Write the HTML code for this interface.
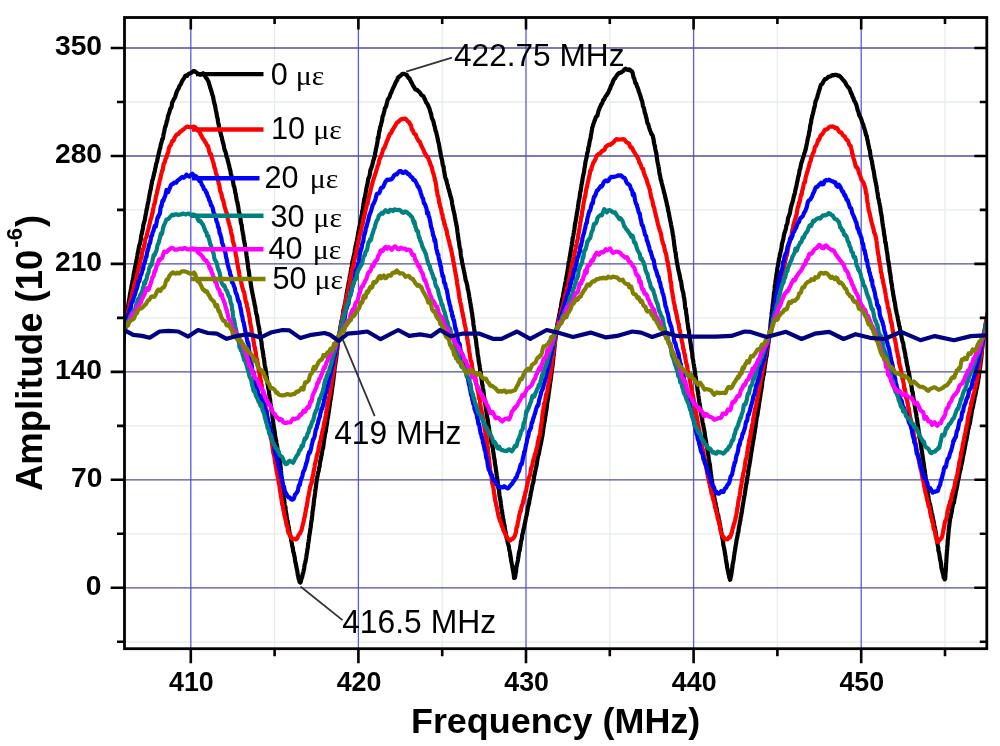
<!DOCTYPE html><html><head><meta charset="utf-8"><style>html,body{margin:0;padding:0;background:#fff;overflow:hidden}svg{display:block;filter:blur(0.4px)}</style></head><body>
<svg width="1000" height="746" viewBox="0 0 1000 746">
<rect width="1000" height="746" fill="#fff"/>
<path d="M274.6 17.5V648.7 M442.2 17.5V648.7 M609.8 17.5V648.7 M777.4 17.5V648.7 M945.0 17.5V648.7 M124.5 641.8H986.8 M124.5 533.8H986.8 M124.5 425.9H986.8 M124.5 317.9H986.8 M124.5 209.9H986.8 M124.5 102.0H986.8" stroke="#e4eee7" stroke-width="1.3" fill="none"/>
<path d="M190.8 17.5V648.7 M358.4 17.5V648.7 M526.0 17.5V648.7 M693.6 17.5V648.7 M861.2 17.5V648.7" stroke="#5c5adc" stroke-width="1.3" fill="none"/>
<path d="M124.5 587.8H986.8 M124.5 479.8H986.8 M124.5 371.9H986.8 M124.5 263.9H986.8 M124.5 156.0H986.8 M124.5 48.0H986.8" stroke="#52509e" stroke-width="1.3" fill="none"/>
<defs><clipPath id="cp"><rect x="124.5" y="17.5" width="862.3" height="631.2"/></clipPath></defs>
<g clip-path="url(#cp)" fill="none" stroke-linejoin="round" stroke-linecap="round">
<path d="M116.6 391.8L116.8 389.7L117.0 389.3L117.2 388.2L117.4 386.6L117.6 385.6L117.8 384.4L118.0 383.0L118.2 381.4L118.4 379.6L118.6 377.4L118.8 375.7L119.0 374.3L119.2 372.6L119.4 371.1L119.6 370.0L119.8 368.9L120.0 367.3L120.2 364.9L120.4 363.5L120.6 362.9L120.8 361.9L121.0 360.5L121.2 358.3L121.4 356.3L121.6 355.9L121.7 355.0L121.9 353.5L122.1 352.5L122.3 350.0L122.5 347.8L122.7 346.8L122.9 345.4L123.0 343.9L123.2 342.3L123.4 340.7L123.6 338.5L123.8 336.9L123.9 335.7L124.1 334.3L124.3 332.9L124.5 331.6L124.6 330.7L124.8 329.0L125.0 327.4L125.2 325.8L125.4 324.0L125.6 322.4L125.9 320.9L126.1 319.6L126.3 318.4L126.5 316.9L126.7 314.9L127.0 313.6L127.2 312.3L127.4 310.2L127.7 308.9L127.9 307.5L128.1 306.2L128.4 304.7L128.6 302.7L128.8 301.1L129.1 300.6L129.3 299.5L129.6 297.0L129.8 295.5L130.1 293.9L130.3 293.1L130.6 291.6L130.8 289.6L131.1 289.0L131.4 286.7L131.6 285.2L131.9 284.7L132.2 283.3L132.4 281.5L132.7 280.2L133.0 278.7L133.3 277.0L133.5 275.4L133.8 274.0L134.1 272.2L134.4 270.8L134.7 269.5L135.0 267.3L135.2 266.2L135.5 265.8L135.8 264.6L136.1 262.2L136.4 260.6L136.7 259.2L137.0 257.4L137.3 256.1L137.6 253.8L137.9 252.4L138.2 251.4L138.5 249.6L138.8 247.9L139.1 246.1L139.4 244.9L139.7 244.3L140.0 243.9L140.3 242.1L140.6 240.4L140.9 238.8L141.1 236.2L141.4 234.9L141.7 234.3L142.0 232.6L142.3 231.1L142.6 230.0L142.9 228.1L143.2 225.8L143.5 224.6L143.8 223.6L144.1 222.1L144.4 221.1L144.7 220.5L145.0 218.4L145.3 216.6L145.5 215.6L145.8 214.2L146.1 212.7L146.4 210.8L146.7 209.2L147.0 208.7L147.3 207.3L147.6 204.7L147.9 203.2L148.2 202.5L148.5 200.9L148.8 198.7L149.0 197.7L149.3 196.0L149.6 194.1L149.9 193.1L150.2 190.9L150.5 190.0L150.8 189.1L151.1 186.7L151.4 185.3L151.7 184.1L152.0 181.7L152.4 180.1L152.7 179.5L153.0 178.6L153.3 177.1L153.7 175.4L154.0 174.0L154.3 172.5L154.7 171.3L155.0 170.0L155.3 168.1L155.7 166.8L156.0 164.8L156.4 162.9L156.7 162.5L157.1 161.4L157.4 159.2L157.8 157.8L158.1 156.2L158.5 154.8L158.8 153.2L159.2 151.8L159.5 149.9L159.9 148.9L160.3 147.9L160.6 145.3L161.0 143.9L161.4 142.9L161.7 141.6L162.1 139.9L162.5 138.5L162.8 139.0L163.2 136.8L163.6 134.1L163.9 133.0L164.3 131.5L164.6 129.4L165.0 127.4L165.3 126.9L165.7 125.9L166.0 124.9L166.4 123.2L166.7 121.1L167.1 121.1L167.5 119.3L167.9 116.3L168.3 115.2L168.7 114.1L169.1 113.0L169.6 111.6L170.0 109.6L170.5 108.2L171.0 108.1L171.5 107.1L172.0 103.5L172.6 101.6L173.1 100.9L173.6 99.8L174.1 98.7L174.7 97.8L175.2 96.9L175.7 95.0L176.3 93.3L176.8 91.6L177.4 90.3L178.0 89.4L178.7 88.2L179.4 86.2L180.1 85.1L180.8 84.1L181.6 82.2L182.4 80.6L183.3 79.2L184.2 78.0L185.1 76.0L186.1 75.5L187.1 75.8L188.2 74.3L189.3 73.6L190.5 73.2L191.8 72.5L193.2 71.2L194.6 71.0L196.1 72.4L197.5 73.4L199.0 74.3L200.4 74.7L201.8 74.1L203.1 73.3L204.3 74.8L205.3 76.6L206.2 77.9L207.0 79.0L207.6 80.1L208.2 80.9L208.7 82.4L209.2 84.2L209.7 85.6L210.1 87.4L210.6 88.6L211.0 90.0L211.5 91.5L211.9 93.1L212.3 94.8L212.7 95.7L213.1 96.7L213.4 99.1L213.8 100.7L214.1 101.9L214.4 103.5L214.7 104.4L215.0 105.4L215.3 107.2L215.6 109.0L215.9 110.7L216.2 111.6L216.4 112.6L216.7 114.5L217.0 116.8L217.3 117.4L217.6 118.4L217.9 120.6L218.1 122.1L218.4 123.6L218.8 125.0L219.1 127.3L219.4 128.8L219.7 129.8L220.1 131.3L220.4 132.2L220.8 133.8L221.1 135.4L221.5 136.4L221.9 137.9L222.2 139.6L222.6 141.3L223.0 142.9L223.4 143.8L223.8 145.8L224.2 147.9L224.5 149.3L224.9 150.6L225.3 151.5L225.7 152.5L226.1 153.9L226.4 155.9L226.8 157.5L227.2 158.0L227.5 159.4L227.9 160.9L228.3 162.4L228.6 163.9L229.0 164.8L229.4 166.8L229.7 168.7L230.1 169.5L230.5 171.3L230.8 174.2L231.2 174.8L231.6 176.1L231.9 177.9L232.3 178.4L232.6 180.1L233.0 181.2L233.3 183.2L233.6 185.5L234.0 186.1L234.3 187.3L234.6 188.4L234.9 189.9L235.2 192.3L235.5 193.2L235.8 194.2L236.1 196.4L236.4 198.4L236.7 200.4L237.0 201.3L237.3 201.9L237.6 203.7L237.9 205.4L238.2 206.5L238.5 208.6L238.7 210.8L239.0 212.0L239.3 212.7L239.6 214.3L239.8 215.1L240.1 216.4L240.4 218.2L240.6 220.6L240.9 222.8L241.1 223.4L241.4 224.5L241.7 224.9L241.9 226.7L242.2 229.9L242.4 230.8L242.7 231.9L242.9 233.9L243.2 234.5L243.4 236.1L243.7 238.7L243.9 239.9L244.2 240.8L244.4 242.5L244.7 243.4L244.9 244.6L245.2 247.2L245.4 248.1L245.6 249.6L245.9 251.4L246.1 251.6L246.3 253.2L246.5 255.2L246.7 256.8L246.9 258.2L247.2 260.0L247.4 261.7L247.6 262.9L247.8 264.4L248.0 265.6L248.2 267.8L248.4 269.5L248.6 270.4L248.8 271.3L249.1 273.4L249.3 275.7L249.5 276.5L249.7 277.8L250.0 279.0L250.2 280.0L250.5 281.6L250.7 283.6L251.0 285.5L251.2 286.6L251.5 288.2L251.8 290.3L252.1 291.5L252.4 293.1L252.6 294.4L252.9 295.4L253.2 297.2L253.5 298.7L253.8 300.3L254.1 301.3L254.4 303.0L254.6 304.7L254.9 305.5L255.2 306.7L255.5 308.5L255.8 311.1L256.1 312.7L256.3 314.0L256.6 314.4L256.9 315.3L257.2 317.2L257.4 318.6L257.7 320.7L258.0 322.6L258.2 323.6L258.5 325.2L258.8 326.4L259.0 327.3L259.3 328.8L259.5 330.8L259.8 332.8L260.0 334.3L260.3 336.1L260.5 336.8L260.7 337.6L261.0 339.7L261.2 340.9L261.5 342.1L261.7 344.5L261.9 346.6L262.1 348.1L262.4 349.2L262.6 350.2L262.8 352.1L263.1 353.5L263.3 354.7L263.5 356.8L263.7 358.0L264.0 358.7L264.2 360.4L264.4 362.3L264.6 364.0L264.8 365.3L265.1 366.8L265.3 367.6L265.5 368.5L265.7 370.7L266.0 372.2L266.2 373.1L266.4 374.4L266.6 376.1L266.9 378.0L267.1 379.4L267.3 381.1L267.5 383.6L267.8 385.0L268.0 386.3L268.2 387.9L268.4 388.5L268.7 389.7L268.9 391.3L269.1 393.2L269.3 394.6L269.5 396.3L269.7 398.5L270.0 398.6L270.2 400.2L270.4 403.1L270.6 404.0L270.8 405.2L271.0 406.3L271.2 407.5L271.4 409.0L271.6 410.6L271.8 412.0L272.1 412.3L272.3 414.6L272.5 418.1L272.7 419.2L272.9 420.1L273.1 421.9L273.3 422.9L273.5 424.6L273.7 426.8L274.0 427.6L274.2 428.6L274.4 430.7L274.6 431.4L274.9 433.4L275.1 436.3L275.4 436.7L275.6 438.1L275.9 440.0L276.2 440.7L276.4 442.8L276.7 444.4L277.0 445.4L277.3 447.4L277.6 449.2L277.9 450.5L278.1 450.9L278.4 451.3L278.7 453.8L278.9 455.6L279.2 456.7L279.4 458.1L279.6 459.4L279.8 460.8L280.1 463.0L280.3 464.6L280.4 465.4L280.6 467.2L280.8 469.3L280.9 470.3L281.1 471.3L281.2 473.2L281.4 475.0L281.5 476.7L281.7 477.8L281.8 479.2L281.9 480.7L282.1 482.3L282.2 483.9L282.4 485.0L282.5 486.5L282.7 488.4L282.8 490.8L283.0 492.0L283.2 492.7L283.4 494.9L283.5 495.5L283.7 495.7L283.9 497.5L284.2 499.7L284.4 502.6L284.6 504.3L284.8 505.3L285.0 506.5L285.3 506.5L285.5 507.2L285.7 510.0L286.0 512.5L286.2 513.1L286.5 514.9L286.7 516.3L287.0 517.8L287.2 520.5L287.5 521.2L287.8 521.6L288.0 523.8L288.3 525.2L288.6 526.7L288.8 528.2L289.1 529.6L289.4 531.6L289.6 532.6L289.9 533.7L290.2 535.4L290.5 536.5L290.8 537.7L291.1 539.8L291.4 541.7L291.7 542.8L292.0 544.7L292.3 546.5L292.6 546.9L292.9 549.0L293.2 551.6L293.5 552.4L293.8 552.9L294.1 554.4L294.4 556.0L294.7 557.3L295.0 559.7L295.2 561.4L295.5 562.4L295.8 563.8L296.1 565.2L296.4 566.9L296.7 568.7L297.0 569.7L297.3 570.9L297.6 573.5L297.8 575.1L298.1 575.5L298.4 577.6L298.7 579.1L299.0 579.3L299.3 580.8L299.6 581.9L299.9 582.0L300.3 582.5L300.6 582.2L301.0 580.8L301.4 579.3L301.7 578.0L302.1 577.3L302.4 575.8L302.8 573.6L303.1 573.3L303.4 571.8L303.7 570.1L304.0 569.4L304.3 567.3L304.6 564.7L304.9 563.5L305.2 562.8L305.5 561.6L305.8 559.9L306.0 558.5L306.3 557.5L306.5 555.1L306.8 553.7L307.0 552.7L307.3 550.4L307.5 548.7L307.7 548.2L307.9 547.3L308.1 544.3L308.4 542.5L308.6 541.6L308.8 540.0L309.0 538.4L309.2 536.4L309.4 535.5L309.6 534.2L309.9 532.2L310.1 530.9L310.3 529.2L310.5 528.3L310.7 527.3L310.9 525.2L311.1 523.2L311.3 521.8L311.5 521.1L311.7 519.8L311.9 518.0L312.1 516.4L312.3 514.7L312.4 513.4L312.6 511.3L312.8 510.3L313.0 509.3L313.2 506.9L313.4 506.3L313.6 505.1L313.7 503.1L313.9 501.3L314.1 499.2L314.3 498.0L314.5 497.6L314.7 495.7L314.9 494.2L315.1 492.7L315.3 490.3L315.5 489.5L315.7 488.3L315.9 486.9L316.1 485.1L316.3 483.0L316.6 481.0L316.8 479.5L317.1 478.3L317.3 476.7L317.6 475.8L317.8 474.6L318.1 472.3L318.4 472.0L318.7 471.0L319.0 468.1L319.3 467.4L319.6 466.9L319.8 464.5L320.1 462.0L320.4 460.5L320.7 460.1L320.9 458.9L321.2 456.7L321.5 455.3L321.7 454.6L322.0 452.6L322.3 450.5L322.5 449.0L322.8 448.6L323.1 448.4L323.3 446.4L323.6 444.1L323.8 442.5L324.1 440.3L324.3 438.6L324.6 437.5L324.8 435.3L325.1 434.1L325.3 433.0L325.6 432.1L325.8 431.0L326.0 429.4L326.3 427.3L326.5 425.9L326.8 424.8L327.0 423.5L327.2 421.7L327.5 418.6L327.7 417.3L327.9 417.8L328.1 416.7L328.4 414.3L328.6 413.0L328.8 411.8L329.0 410.1L329.3 408.2L329.5 406.6L329.7 405.4L329.9 403.6L330.1 401.6L330.4 400.4L330.6 399.8L330.8 398.5L331.0 396.8L331.2 395.3L331.4 394.6L331.6 393.1L331.8 391.0L332.0 390.2L332.2 388.3L332.5 386.1L332.7 385.0L332.9 384.1L333.1 382.3L333.3 380.3L333.5 378.7L333.7 376.6L333.9 375.5L334.1 374.4L334.3 371.8L334.4 370.4L334.6 368.9L334.8 367.0L335.0 366.3L335.2 364.8L335.4 363.7L335.6 362.0L335.8 360.2L336.0 359.5L336.2 358.5L336.3 357.2L336.5 355.2L336.7 353.4L336.9 351.8L337.1 350.7L337.3 349.0L337.4 347.2L337.6 346.0L337.8 344.4L338.0 342.8L338.2 342.1L338.4 340.4L338.6 338.2L338.8 337.1L339.0 335.8L339.3 334.4L339.6 332.8L339.8 331.5L340.1 329.3L340.4 327.4L340.6 326.1L340.9 324.7L341.2 323.2L341.4 321.3L341.7 320.2L342.0 319.7L342.2 318.5L342.5 316.6L342.8 315.4L343.1 313.5L343.3 310.6L343.6 309.3L343.9 308.6L344.1 307.7L344.4 307.2L344.7 304.7L345.0 303.4L345.2 303.1L345.5 301.0L345.8 299.0L346.1 298.2L346.3 296.6L346.6 293.9L346.9 292.5L347.2 290.6L347.4 289.3L347.7 288.3L348.0 286.8L348.3 285.5L348.5 283.5L348.8 282.4L349.1 280.9L349.4 279.3L349.6 277.6L349.9 275.9L350.2 274.7L350.5 273.1L350.7 271.7L351.0 269.4L351.3 267.7L351.6 267.1L351.9 266.4L352.1 264.3L352.4 261.7L352.7 260.5L353.0 259.7L353.3 258.4L353.5 256.7L353.8 255.8L354.1 255.0L354.4 253.5L354.7 251.3L354.9 249.5L355.2 248.3L355.5 246.3L355.8 245.2L356.1 244.4L356.4 242.3L356.7 241.4L356.9 240.4L357.2 238.7L357.5 237.4L357.8 235.9L358.1 233.4L358.4 231.5L358.6 231.0L358.9 229.3L359.2 227.5L359.5 226.5L359.8 225.6L360.1 224.4L360.3 222.7L360.6 220.7L360.9 219.2L361.2 218.0L361.4 216.1L361.7 215.0L362.0 213.8L362.2 211.4L362.5 210.3L362.8 209.0L363.0 207.2L363.3 205.3L363.5 203.5L363.8 202.3L364.1 200.4L364.3 198.6L364.6 198.3L364.9 197.6L365.1 195.3L365.4 194.4L365.7 192.7L366.0 191.0L366.3 189.1L366.6 187.5L366.9 186.4L367.2 185.0L367.5 183.8L367.8 181.6L368.2 179.3L368.5 178.0L368.9 177.6L369.3 176.7L369.7 175.1L370.0 172.7L370.4 170.0L370.8 169.1L371.2 168.6L371.6 167.2L372.0 166.0L372.4 164.7L372.8 162.7L373.2 160.9L373.6 160.0L373.9 158.9L374.3 157.4L374.6 156.8L374.9 155.3L375.2 152.9L375.6 151.2L375.9 149.5L376.1 148.6L376.4 147.5L376.7 145.8L377.0 144.3L377.3 142.9L377.6 140.5L377.8 137.7L378.1 137.9L378.4 138.0L378.7 135.6L379.0 133.1L379.3 131.2L379.6 130.9L379.9 128.9L380.2 126.7L380.5 126.7L380.9 125.4L381.2 123.9L381.5 122.4L381.8 121.6L382.2 119.7L382.5 116.8L382.9 115.8L383.2 115.5L383.6 113.9L384.0 112.3L384.4 110.7L384.8 108.3L385.3 107.7L385.7 107.4L386.2 106.0L386.7 103.8L387.3 101.3L387.8 99.6L388.4 98.6L389.0 97.9L389.6 96.8L390.2 94.7L390.8 93.2L391.4 92.4L391.9 90.9L392.5 89.5L393.1 88.0L393.7 86.9L394.3 85.7L395.0 84.2L395.6 82.5L396.3 81.3L397.1 80.2L397.9 77.9L398.7 76.9L399.6 76.5L400.5 75.6L401.5 74.8L402.5 73.8L403.6 73.8L404.6 74.1L405.7 74.5L406.7 74.7L407.7 76.7L408.6 78.0L409.5 78.3L410.3 80.4L411.1 82.0L411.9 83.2L412.6 84.7L413.4 86.2L414.2 87.3L415.1 89.2L416.0 89.8L417.1 89.8L418.1 91.0L419.2 91.8L420.3 93.1L421.3 94.9L422.3 95.7L423.3 96.0L424.1 97.7L425.0 99.5L425.7 101.3L426.4 102.8L427.0 103.4L427.6 104.3L428.2 105.7L428.7 107.1L429.2 107.9L429.7 109.4L430.1 111.3L430.6 112.6L431.1 114.0L431.5 116.2L431.9 118.1L432.4 119.2L432.8 120.1L433.2 120.8L433.6 122.3L434.0 124.3L434.4 125.7L434.8 127.0L435.2 129.0L435.5 130.6L435.9 131.3L436.3 132.5L436.6 134.0L437.0 135.7L437.3 137.0L437.6 138.3L438.0 140.5L438.3 142.1L438.6 142.9L438.9 144.1L439.2 146.0L439.5 147.9L439.8 149.7L440.0 150.9L440.3 151.5L440.6 153.6L440.9 155.7L441.2 156.8L441.5 158.3L441.8 159.2L442.1 160.4L442.4 162.4L442.7 164.4L443.0 165.8L443.3 165.6L443.6 166.9L443.9 169.8L444.3 171.9L444.6 173.5L444.9 175.4L445.2 177.2L445.6 178.2L445.9 179.4L446.3 179.8L446.6 181.2L447.0 183.5L447.4 184.4L447.8 185.8L448.1 187.6L448.5 188.7L448.9 189.9L449.3 191.4L449.7 193.0L450.1 194.4L450.4 196.0L450.8 196.8L451.1 198.0L451.5 199.5L451.8 200.9L452.1 203.3L452.4 204.9L452.7 206.1L453.0 207.6L453.3 209.8L453.6 210.8L453.9 212.0L454.2 213.3L454.5 214.2L454.8 216.4L455.1 217.7L455.3 219.2L455.6 221.3L455.9 222.2L456.2 223.3L456.4 225.2L456.7 225.9L456.9 227.4L457.2 229.4L457.4 231.5L457.6 232.9L457.9 234.5L458.1 236.2L458.3 237.7L458.5 239.7L458.7 240.6L459.0 242.1L459.2 243.8L459.4 245.5L459.6 247.3L459.8 248.1L460.0 248.4L460.2 249.0L460.5 250.8L460.7 253.7L460.9 255.5L461.1 256.7L461.4 257.9L461.6 259.0L461.9 260.6L462.1 262.4L462.4 263.3L462.7 264.9L463.0 266.5L463.3 267.6L463.6 269.4L463.9 270.8L464.2 272.1L464.5 273.3L464.8 275.1L465.1 276.6L465.5 279.1L465.8 280.8L466.1 281.1L466.5 282.5L466.8 283.8L467.1 284.5L467.4 286.3L467.7 288.8L468.0 289.8L468.3 291.1L468.6 292.7L468.9 294.2L469.2 296.3L469.5 298.0L469.7 299.5L470.0 300.5L470.2 302.1L470.5 303.7L470.7 305.0L470.9 306.9L471.2 308.2L471.4 308.9L471.6 310.7L471.8 312.3L472.1 313.1L472.3 314.6L472.5 316.8L472.7 318.7L472.9 318.9L473.2 320.8L473.4 324.0L473.6 325.9L473.8 326.3L474.0 327.1L474.2 329.0L474.5 330.8L474.7 332.1L474.9 332.8L475.1 334.6L475.3 336.8L475.5 337.4L475.7 338.5L476.0 340.6L476.2 342.3L476.4 343.8L476.6 345.6L476.8 347.1L477.0 348.3L477.2 349.0L477.4 350.8L477.6 353.3L477.8 355.4L478.1 356.3L478.3 357.0L478.5 359.0L478.7 361.1L478.9 362.2L479.1 363.4L479.4 364.4L479.6 365.8L479.8 367.3L480.0 368.5L480.2 370.2L480.5 371.6L480.7 372.3L480.9 373.6L481.1 376.1L481.3 377.9L481.6 379.1L481.8 380.8L482.0 382.7L482.2 384.3L482.5 385.2L482.7 386.4L482.9 388.0L483.1 389.2L483.3 390.2L483.6 392.0L483.8 393.7L484.0 396.1L484.2 397.9L484.4 398.4L484.7 399.8L484.9 402.1L485.1 403.4L485.3 404.0L485.5 405.6L485.7 407.1L485.9 408.9L486.2 410.8L486.4 411.8L486.6 412.8L486.8 415.5L487.1 416.8L487.3 417.6L487.5 418.9L487.7 419.4L488.0 421.2L488.2 424.2L488.5 425.5L488.7 425.8L489.0 427.6L489.2 429.8L489.5 431.6L489.7 433.4L490.0 434.4L490.3 435.6L490.5 436.5L490.8 438.3L491.1 440.5L491.4 442.0L491.6 443.8L491.9 444.8L492.2 445.7L492.4 447.0L492.7 447.7L493.0 449.5L493.2 451.8L493.5 452.9L493.7 454.6L493.9 456.6L494.2 458.0L494.4 459.1L494.6 459.7L494.8 461.8L495.0 464.3L495.3 465.4L495.5 466.5L495.7 467.9L495.9 469.5L496.1 470.9L496.3 471.6L496.5 473.6L496.7 475.3L496.9 476.3L497.1 478.3L497.3 480.0L497.6 481.0L497.8 482.8L498.0 485.2L498.2 486.5L498.4 488.3L498.6 489.1L498.9 488.9L499.1 490.8L499.3 494.1L499.5 495.9L499.7 496.6L500.0 497.6L500.2 499.4L500.4 500.2L500.6 501.3L500.8 503.3L501.1 505.7L501.3 507.1L501.5 508.6L501.8 510.4L502.0 510.5L502.2 512.9L502.5 514.7L502.7 515.5L502.9 518.1L503.2 519.1L503.4 519.4L503.7 521.5L503.9 523.5L504.2 524.1L504.5 525.1L504.7 526.9L505.0 529.2L505.3 530.7L505.6 532.0L505.9 534.3L506.2 536.0L506.5 537.4L506.8 538.9L507.1 539.1L507.4 540.6L507.7 542.8L508.0 543.7L508.3 544.6L508.6 545.5L508.9 547.0L509.2 549.1L509.5 550.5L509.8 551.7L510.1 553.4L510.3 555.5L510.6 557.1L510.9 558.2L511.1 560.3L511.4 561.7L511.7 562.9L511.9 564.1L512.2 565.5L512.4 567.4L512.7 568.8L512.9 570.1L513.2 571.1L513.4 572.6L513.7 574.3L513.9 576.2L514.1 577.9L514.4 577.8L514.6 577.9L514.8 577.9L515.1 577.0L515.3 575.8L515.5 573.7L515.7 572.8L516.0 572.1L516.2 569.7L516.4 567.3L516.7 566.1L516.9 564.9L517.1 563.5L517.4 562.7L517.6 562.0L517.9 560.1L518.1 558.6L518.3 557.7L518.6 555.5L518.9 552.9L519.1 552.0L519.4 551.4L519.6 550.5L519.9 549.4L520.2 547.3L520.4 545.9L520.7 543.7L521.0 541.6L521.3 540.4L521.6 539.6L521.9 538.5L522.2 535.1L522.5 533.9L522.8 533.3L523.1 531.6L523.4 530.3L523.7 528.6L524.0 527.6L524.3 526.1L524.6 524.0L524.9 523.0L525.2 522.1L525.5 520.1L525.8 518.7L526.1 517.0L526.4 516.0L526.7 514.9L527.0 512.8L527.3 511.4L527.6 509.4L527.9 507.3L528.2 506.3L528.5 505.4L528.8 504.4L529.1 503.0L529.4 500.5L529.6 499.1L529.9 498.4L530.2 497.1L530.5 495.4L530.8 493.1L531.1 491.9L531.4 490.7L531.7 489.0L532.0 487.2L532.3 485.8L532.6 484.6L532.9 483.3L533.2 482.8L533.5 481.4L533.8 478.7L534.1 476.4L534.4 475.1L534.7 474.2L534.9 473.2L535.2 471.6L535.5 470.1L535.8 468.8L536.1 467.4L536.4 466.4L536.7 464.7L537.0 462.6L537.3 460.4L537.6 458.3L537.9 457.3L538.2 455.9L538.5 454.8L538.8 454.2L539.1 452.5L539.4 450.4L539.7 448.9L540.0 447.7L540.3 446.2L540.6 444.8L540.9 443.7L541.2 442.2L541.4 440.9L541.7 439.3L542.0 437.6L542.2 436.8L542.5 435.2L542.7 433.4L543.0 431.9L543.2 430.0L543.4 428.3L543.7 426.6L543.9 425.3L544.1 423.9L544.4 422.3L544.6 421.5L544.8 420.2L545.0 418.6L545.2 417.3L545.5 415.7L545.7 413.9L545.9 412.1L546.1 411.9L546.3 410.7L546.6 408.6L546.8 406.9L547.0 405.3L547.2 403.3L547.5 401.1L547.7 400.3L547.9 399.5L548.2 397.6L548.4 395.8L548.6 394.3L548.8 392.8L549.1 391.0L549.3 389.0L549.5 388.0L549.7 386.4L549.9 384.5L550.1 383.5L550.3 381.9L550.5 380.8L550.7 379.6L550.9 378.0L551.1 376.2L551.3 374.5L551.5 373.6L551.7 372.6L551.9 370.7L552.0 369.2L552.2 368.0L552.4 366.4L552.6 365.5L552.8 363.7L552.9 361.8L553.1 360.6L553.3 358.9L553.4 356.7L553.6 355.6L553.8 354.7L553.9 352.9L554.1 351.4L554.3 349.9L554.4 348.0L554.6 346.6L554.7 344.8L554.9 343.1L555.0 341.8L555.2 340.1L555.4 339.5L555.5 338.1L555.7 336.1L555.8 334.9L556.0 333.5L556.1 331.7L556.3 330.1L556.6 329.4L556.8 328.4L557.1 326.5L557.4 324.2L557.7 322.8L558.0 321.3L558.3 319.8L558.6 318.4L558.8 317.5L559.1 315.8L559.4 314.0L559.7 313.6L560.0 310.9L560.3 309.0L560.6 308.8L560.8 307.9L561.1 305.2L561.4 303.0L561.7 301.8L562.0 300.1L562.2 298.8L562.5 298.5L562.8 297.3L563.1 295.0L563.3 293.4L563.6 292.2L563.9 291.2L564.2 289.1L564.4 287.9L564.7 286.4L565.0 284.2L565.2 283.3L565.5 282.6L565.8 280.8L566.0 278.8L566.3 278.0L566.5 276.6L566.8 275.1L567.1 273.8L567.3 272.0L567.6 270.3L567.8 269.1L568.1 267.4L568.3 266.1L568.6 263.9L568.8 261.4L569.1 261.3L569.3 260.3L569.6 258.0L569.8 256.5L570.1 255.7L570.3 253.9L570.5 252.3L570.8 251.0L571.0 249.1L571.3 247.7L571.5 246.7L571.8 244.8L572.0 242.7L572.3 242.0L572.5 240.1L572.7 237.8L573.0 237.0L573.2 236.1L573.5 234.4L573.7 233.0L573.9 231.1L574.2 230.8L574.4 229.3L574.7 226.5L574.9 224.8L575.1 223.3L575.4 223.0L575.6 221.7L575.9 219.9L576.1 218.2L576.3 217.2L576.6 216.0L576.8 213.3L577.1 212.0L577.3 210.9L577.6 209.4L577.8 208.1L578.0 206.5L578.3 205.0L578.5 203.0L578.8 200.9L579.0 200.2L579.3 199.2L579.5 197.5L579.8 195.9L580.0 193.5L580.3 191.7L580.5 191.5L580.8 190.3L581.0 188.1L581.3 186.3L581.5 184.8L581.8 183.7L582.0 182.4L582.3 181.0L582.5 179.4L582.8 177.7L583.0 176.5L583.3 175.4L583.6 173.8L583.8 172.9L584.1 171.6L584.3 169.5L584.6 167.6L584.9 166.5L585.1 164.9L585.4 162.4L585.7 160.9L585.9 160.3L586.2 158.8L586.5 157.6L586.8 156.5L587.1 154.0L587.4 152.4L587.7 152.2L588.0 150.5L588.3 147.8L588.6 146.9L588.8 146.5L589.1 145.2L589.4 143.1L589.7 141.3L590.0 140.1L590.3 139.0L590.6 138.2L590.8 136.2L591.1 134.4L591.4 132.9L591.7 131.1L592.0 129.4L592.3 127.4L592.7 126.5L593.1 125.0L593.5 123.7L594.0 122.5L594.5 120.7L595.1 119.5L595.6 118.0L596.2 116.7L596.8 115.9L597.4 115.7L597.9 113.4L598.5 110.9L599.0 109.9L599.6 108.0L600.2 106.8L600.8 105.5L601.5 104.0L602.1 103.5L602.8 101.3L603.5 99.6L604.2 99.3L605.0 97.5L605.7 96.2L606.5 95.5L607.3 93.9L608.1 92.9L608.8 91.2L609.5 89.7L610.1 88.7L610.7 86.7L611.3 85.3L611.9 84.2L612.4 83.2L613.0 81.4L613.7 79.7L614.4 78.7L615.1 78.2L615.9 76.7L616.9 75.4L617.9 74.1L619.1 72.9L620.3 72.8L621.6 72.1L623.0 71.2L624.3 69.6L625.6 68.7L626.9 69.6L628.2 70.1L629.3 69.3L630.3 70.1L631.1 71.0L631.9 71.4L632.5 72.5L633.0 74.7L633.5 77.4L633.9 77.9L634.3 78.7L634.8 80.9L635.3 83.1L635.8 83.1L636.3 83.7L636.9 86.3L637.4 87.1L638.0 88.4L638.5 90.5L639.0 92.0L639.5 93.1L639.9 94.4L640.4 95.8L640.8 97.3L641.3 99.1L641.7 100.1L642.1 100.9L642.5 103.2L642.9 105.6L643.3 106.8L643.7 107.5L644.1 108.5L644.5 110.9L644.8 112.8L645.2 113.2L645.5 114.4L645.9 116.3L646.2 117.6L646.6 118.6L646.9 120.7L647.3 122.7L647.7 123.6L648.2 124.2L648.6 125.4L649.1 127.5L649.7 129.5L650.2 130.7L650.8 132.2L651.3 133.8L651.8 134.5L652.3 134.7L652.8 136.0L653.2 137.9L653.6 139.8L653.9 142.0L654.3 144.1L654.6 145.4L654.9 145.8L655.2 148.3L655.5 150.3L655.7 150.7L656.0 152.0L656.3 153.0L656.5 154.9L656.8 157.0L657.0 158.9L657.3 160.7L657.5 161.9L657.8 163.4L658.0 164.4L658.3 165.2L658.5 166.8L658.7 168.0L659.0 169.4L659.2 171.3L659.5 173.1L659.7 174.7L660.0 175.1L660.3 176.6L660.6 179.4L661.0 180.1L661.3 180.7L661.6 182.9L662.0 184.1L662.4 185.4L662.8 187.4L663.2 188.5L663.6 190.0L663.9 192.2L664.3 193.0L664.7 194.3L665.1 196.7L665.5 198.1L665.8 199.3L666.2 201.1L666.5 202.3L666.8 203.9L667.1 205.6L667.5 206.3L667.8 207.8L668.1 210.0L668.4 211.6L668.7 212.4L669.0 213.8L669.3 216.0L669.6 217.4L669.9 218.8L670.2 220.7L670.5 221.7L670.8 222.9L671.0 224.3L671.3 225.9L671.6 227.5L671.8 228.3L672.1 229.8L672.4 231.5L672.6 233.1L672.8 234.8L673.1 235.7L673.3 236.7L673.5 238.8L673.8 240.8L674.0 242.1L674.2 244.5L674.4 246.4L674.6 246.8L674.8 248.1L675.0 250.2L675.2 251.5L675.4 251.8L675.7 253.1L675.9 255.4L676.1 257.7L676.3 258.4L676.6 259.6L676.8 261.8L677.1 263.0L677.3 264.4L677.6 265.6L677.9 267.7L678.2 269.1L678.5 270.5L678.8 271.9L679.1 272.8L679.4 274.2L679.7 275.7L680.0 277.2L680.3 279.4L680.6 280.4L680.9 280.7L681.3 282.6L681.6 285.4L681.9 287.3L682.1 288.7L682.4 290.2L682.7 290.9L683.0 291.9L683.2 292.6L683.5 293.8L683.7 296.6L684.0 297.7L684.2 298.1L684.4 299.7L684.7 302.1L684.9 304.5L685.1 307.0L685.3 308.6L685.5 308.4L685.7 308.4L686.0 310.6L686.2 313.4L686.4 314.2L686.6 315.0L686.8 317.0L687.0 318.7L687.2 320.3L687.4 322.0L687.7 323.9L687.9 325.3L688.1 326.6L688.3 328.9L688.5 329.6L688.8 329.9L689.0 332.0L689.2 334.7L689.4 336.0L689.7 337.2L689.9 338.5L690.1 339.9L690.3 341.3L690.5 342.6L690.8 344.5L691.0 345.9L691.2 347.8L691.4 349.5L691.7 350.2L691.9 351.7L692.1 352.7L692.3 354.2L692.5 357.5L692.8 358.8L693.0 359.4L693.2 360.7L693.4 362.3L693.6 363.6L693.9 365.0L694.1 366.6L694.3 367.6L694.5 369.2L694.8 370.9L695.0 371.6L695.2 374.0L695.4 376.2L695.6 376.2L695.9 378.0L696.1 380.2L696.3 381.3L696.5 383.1L696.7 384.1L697.0 384.2L697.2 386.0L697.4 388.7L697.6 390.6L697.8 391.7L698.1 392.7L698.3 394.7L698.5 396.1L698.7 397.3L698.9 399.1L699.1 400.2L699.3 402.3L699.6 403.8L699.8 404.6L700.0 406.4L700.2 407.5L700.5 409.4L700.7 411.5L700.9 413.4L701.2 414.7L701.4 415.4L701.7 417.0L701.9 418.1L702.2 419.2L702.4 421.5L702.7 423.2L703.0 424.0L703.2 424.6L703.5 427.2L703.8 429.1L704.1 429.3L704.3 430.4L704.6 432.6L704.9 435.0L705.1 436.5L705.4 438.0L705.7 439.6L705.9 440.7L706.2 442.5L706.4 443.7L706.7 444.9L706.9 446.3L707.1 447.4L707.4 449.3L707.6 450.7L707.8 452.0L708.0 453.5L708.3 454.9L708.5 456.5L708.7 458.5L708.9 460.2L709.2 461.3L709.4 463.4L709.6 463.7L709.8 464.0L710.0 465.6L710.2 467.5L710.4 470.3L710.7 472.0L710.9 473.4L711.1 474.3L711.3 476.4L711.5 478.3L711.7 479.0L711.9 479.9L712.1 481.7L712.3 483.4L712.5 484.5L712.7 486.3L712.9 488.1L713.1 489.1L713.4 491.0L713.6 492.5L713.8 493.0L714.0 495.0L714.2 497.0L714.5 498.4L714.8 499.6L715.0 501.1L715.3 502.5L715.6 503.3L715.9 505.3L716.2 507.0L716.6 508.1L716.9 510.2L717.2 511.8L717.6 514.1L717.9 514.9L718.2 515.0L718.5 517.1L718.8 519.4L719.1 520.7L719.4 521.1L719.7 523.1L720.0 524.8L720.2 525.7L720.5 527.9L720.8 529.2L721.0 530.2L721.3 532.1L721.6 533.7L721.8 535.1L722.1 536.3L722.3 537.6L722.6 539.0L722.8 539.9L723.1 542.5L723.3 544.8L723.6 545.9L723.8 546.8L724.1 547.9L724.3 549.7L724.6 550.6L724.8 552.4L725.1 554.2L725.3 555.4L725.6 556.5L725.8 558.5L726.1 560.9L726.3 562.1L726.5 562.9L726.8 564.0L727.0 566.4L727.3 568.0L727.6 569.1L727.8 570.7L728.1 571.6L728.4 573.6L728.7 574.7L729.0 575.6L729.3 577.7L729.6 578.0L729.8 578.8L730.1 579.8L730.4 579.2L730.6 577.7L730.8 576.6L731.1 576.0L731.3 574.4L731.5 573.2L731.7 572.0L731.9 570.1L732.2 568.8L732.4 566.8L732.6 564.5L732.9 563.5L733.1 562.4L733.3 561.4L733.6 560.1L733.8 558.1L734.0 556.3L734.3 554.6L734.5 552.9L734.8 551.3L735.0 550.4L735.2 548.9L735.5 546.9L735.7 545.7L736.0 544.1L736.3 542.5L736.5 540.3L736.8 539.1L737.0 538.4L737.3 536.8L737.6 535.6L737.8 533.3L738.1 532.7L738.4 532.0L738.6 529.7L738.9 527.4L739.2 526.1L739.4 525.5L739.7 523.7L739.9 522.1L740.2 521.3L740.5 519.6L740.7 517.3L741.0 516.5L741.2 515.4L741.5 513.4L741.7 512.7L742.0 511.4L742.2 508.9L742.5 507.5L742.7 505.9L743.0 504.4L743.2 503.1L743.5 501.3L743.7 499.7L743.9 498.6L744.2 497.3L744.4 496.0L744.7 494.6L744.9 493.0L745.2 491.4L745.4 489.7L745.6 487.9L745.9 487.0L746.1 484.8L746.4 483.1L746.6 483.6L746.8 481.3L747.1 479.1L747.3 477.7L747.6 475.7L747.8 475.6L748.0 474.6L748.3 472.1L748.5 469.5L748.8 467.8L749.0 467.1L749.2 466.0L749.5 464.3L749.7 463.0L750.0 461.7L750.2 460.3L750.4 458.7L750.7 456.4L750.9 455.5L751.1 453.5L751.4 452.0L751.6 451.3L751.9 449.3L752.1 447.8L752.3 446.3L752.6 445.0L752.8 443.5L753.0 441.6L753.3 440.6L753.5 439.3L753.8 438.0L754.0 436.7L754.2 434.4L754.5 433.2L754.7 432.3L754.9 430.3L755.2 428.4L755.4 427.8L755.6 426.0L755.9 423.7L756.1 422.6L756.3 421.0L756.6 418.5L756.8 416.8L757.0 416.5L757.3 415.9L757.5 414.5L757.7 412.9L758.0 410.7L758.2 409.4L758.4 408.8L758.7 406.8L758.9 405.2L759.1 403.9L759.3 402.1L759.6 400.9L759.8 398.8L760.0 397.7L760.3 396.5L760.5 394.4L760.7 393.0L761.0 391.8L761.2 390.7L761.4 389.0L761.6 387.9L761.9 386.5L762.1 384.3L762.3 381.6L762.6 380.1L762.8 379.7L763.0 378.0L763.2 376.3L763.5 375.4L763.7 374.6L763.9 373.7L764.1 372.2L764.4 369.7L764.6 367.9L764.8 366.1L765.0 364.8L765.3 364.0L765.5 362.0L765.7 360.4L765.9 359.0L766.2 357.3L766.4 356.5L766.6 356.5L766.8 354.8L767.1 352.5L767.3 350.7L767.5 348.7L767.7 348.0L768.0 346.5L768.2 344.3L768.4 343.0L768.6 341.5L768.8 340.1L769.0 338.6L769.3 336.6L769.4 334.9L769.6 334.4L769.8 332.6L769.9 330.3L770.1 329.7L770.2 328.7L770.4 327.1L770.5 324.5L770.7 322.6L770.8 321.5L771.0 319.4L771.2 318.6L771.3 318.1L771.5 315.9L771.6 313.5L771.8 312.4L772.0 311.3L772.1 309.5L772.3 308.9L772.4 308.2L772.6 305.7L772.8 303.7L773.0 303.3L773.1 302.9L773.3 300.3L773.5 298.1L773.7 297.3L773.8 295.2L774.0 292.9L774.2 292.5L774.4 290.9L774.6 288.7L774.7 287.0L774.9 285.4L775.1 284.7L775.3 283.2L775.5 280.9L775.7 279.5L775.9 279.2L776.1 278.1L776.3 275.6L776.5 274.1L776.7 273.1L777.0 271.6L777.2 269.2L777.4 267.8L777.7 266.9L777.9 265.7L778.2 263.7L778.4 262.3L778.7 261.2L779.0 258.6L779.3 257.9L779.5 256.9L779.8 255.0L780.1 253.7L780.4 252.5L780.7 251.5L781.0 250.1L781.4 248.5L781.7 245.9L782.0 243.5L782.3 242.7L782.6 241.6L783.0 240.2L783.3 239.2L783.6 237.0L784.0 235.0L784.3 233.7L784.7 232.3L785.0 231.2L785.4 230.4L785.7 229.5L786.1 227.4L786.4 225.2L786.8 224.7L787.2 223.9L787.6 221.9L787.9 219.1L788.3 217.2L788.7 216.7L789.0 215.4L789.4 214.7L789.8 213.6L790.2 211.4L790.5 209.5L790.9 207.5L791.3 206.2L791.6 204.9L792.0 203.6L792.4 202.6L792.7 201.3L793.1 200.1L793.5 198.0L793.8 196.3L794.2 195.4L794.5 194.5L794.9 192.9L795.2 190.9L795.6 189.2L795.9 187.8L796.2 186.8L796.6 184.9L796.9 183.1L797.2 181.9L797.5 180.8L797.8 178.9L798.1 177.6L798.4 176.4L798.7 175.4L799.0 174.6L799.3 172.2L799.6 169.9L799.9 169.6L800.3 168.7L800.6 166.4L801.0 164.6L801.4 162.8L801.8 161.9L802.2 160.7L802.7 158.7L803.1 157.5L803.6 156.5L804.1 154.2L804.5 153.0L804.9 151.9L805.4 150.4L805.8 148.8L806.1 147.2L806.5 145.3L806.8 143.8L807.1 142.4L807.4 140.8L807.7 139.0L808.0 137.4L808.2 137.2L808.5 136.0L808.8 134.7L809.1 132.6L809.3 131.3L809.6 130.9L809.9 128.3L810.2 125.8L810.5 124.6L810.8 123.5L811.1 122.3L811.3 119.8L811.6 118.5L811.9 118.0L812.2 115.8L812.6 114.9L812.9 113.7L813.2 112.3L813.5 111.2L813.9 109.1L814.2 107.9L814.6 106.9L815.0 104.8L815.3 102.4L815.7 100.9L816.1 100.3L816.5 99.0L817.0 98.1L817.4 96.8L817.8 94.7L818.3 93.4L818.8 91.5L819.3 89.9L819.8 88.6L820.4 86.3L821.0 84.5L821.7 84.4L822.4 83.6L823.2 82.0L824.1 80.4L825.0 79.1L826.0 78.9L827.1 78.2L828.3 76.8L829.5 76.6L830.9 76.2L832.2 75.1L833.7 75.4L835.1 74.8L836.5 74.8L837.8 75.6L839.1 75.7L840.3 76.7L841.5 78.0L842.6 79.3L843.6 80.4L844.6 81.6L845.6 83.2L846.4 85.0L847.2 86.0L847.9 86.9L848.7 87.8L849.3 88.4L850.0 90.1L850.6 91.9L851.2 93.4L851.8 94.0L852.4 96.2L853.0 97.8L853.5 98.1L854.0 100.4L854.6 101.2L855.1 102.0L855.6 103.2L856.1 104.2L856.6 105.7L857.1 107.7L857.6 110.0L858.2 111.3L858.7 113.1L859.2 115.2L859.7 116.1L860.3 116.8L860.8 118.1L861.3 119.4L861.9 121.4L862.4 123.1L862.9 123.9L863.4 125.1L863.8 126.9L864.3 128.3L864.7 129.6L865.2 131.2L865.6 133.0L866.0 135.0L866.4 135.3L866.8 136.2L867.1 138.5L867.5 139.9L867.8 141.4L868.1 143.2L868.4 144.5L868.7 145.9L869.0 147.2L869.3 148.9L869.6 149.7L869.9 150.6L870.1 152.2L870.4 154.7L870.7 156.8L871.0 157.7L871.3 159.1L871.6 160.2L871.9 161.3L872.2 163.4L872.5 165.0L872.8 166.7L873.0 168.4L873.3 169.3L873.6 170.6L873.9 172.0L874.1 173.6L874.4 175.7L874.7 178.1L874.9 178.5L875.2 179.2L875.4 181.4L875.7 182.4L875.9 183.4L876.2 185.0L876.4 185.8L876.7 187.7L877.0 190.1L877.2 191.3L877.5 192.8L877.8 194.5L878.0 196.8L878.3 198.3L878.6 199.2L878.9 200.3L879.1 201.6L879.4 203.2L879.7 204.5L879.9 205.7L880.2 206.9L880.4 208.9L880.7 211.1L880.9 212.5L881.1 213.4L881.4 214.9L881.6 215.6L881.8 217.3L882.0 219.8L882.3 221.0L882.5 223.0L882.7 224.2L882.9 225.6L883.1 227.1L883.4 228.4L883.6 229.9L883.8 231.3L884.0 233.5L884.2 234.6L884.4 235.3L884.7 236.9L884.9 238.8L885.1 241.5L885.3 242.6L885.6 242.2L885.8 243.6L886.0 245.3L886.2 246.8L886.5 248.9L886.7 250.3L886.9 251.5L887.1 252.6L887.4 254.4L887.6 256.3L887.8 258.2L888.0 260.4L888.3 261.1L888.5 262.0L888.7 263.9L889.0 265.8L889.2 266.6L889.4 267.7L889.6 270.6L889.8 272.1L890.1 272.9L890.3 274.5L890.5 275.4L890.7 277.3L890.9 279.3L891.1 280.5L891.3 282.2L891.6 283.9L891.8 284.3L892.0 285.7L892.2 287.7L892.4 289.1L892.6 290.5L892.9 291.6L893.1 293.7L893.4 295.5L893.6 296.5L893.9 297.9L894.1 299.5L894.4 301.1L894.6 301.6L894.9 302.7L895.2 305.1L895.5 307.2L895.8 309.3L896.1 310.1L896.4 311.8L896.7 313.7L897.0 314.6L897.3 315.8L897.6 316.8L897.9 319.1L898.2 320.7L898.5 321.6L898.8 323.6L899.1 325.8L899.4 326.2L899.7 326.9L900.0 329.0L900.3 331.2L900.6 333.7L900.9 334.4L901.2 335.1L901.5 336.9L901.8 338.7L902.1 339.7L902.4 341.0L902.7 342.4L903.0 342.4L903.3 343.6L903.6 346.2L903.9 348.6L904.2 349.1L904.4 349.5L904.7 351.9L905.0 352.7L905.3 354.4L905.6 357.7L905.9 357.7L906.2 359.1L906.5 361.7L906.8 363.4L907.1 365.1L907.4 365.9L907.7 367.3L908.0 369.2L908.3 370.7L908.6 371.8L908.9 372.6L909.2 374.3L909.5 376.4L909.8 378.4L910.1 379.8L910.4 380.5L910.7 381.8L911.0 383.6L911.2 385.2L911.5 386.1L911.8 388.3L912.0 390.8L912.3 391.4L912.6 391.8L912.8 393.9L913.1 395.4L913.3 397.6L913.6 399.4L913.8 400.1L914.1 401.1L914.3 402.2L914.6 404.6L914.8 406.3L915.1 407.1L915.3 409.4L915.5 411.4L915.8 411.8L916.0 412.8L916.3 414.2L916.5 416.5L916.7 417.8L917.0 418.7L917.2 420.2L917.4 422.2L917.6 423.9L917.9 425.2L918.1 427.0L918.3 427.9L918.5 429.5L918.8 431.6L919.0 432.3L919.2 433.7L919.4 437.1L919.6 438.1L919.9 438.5L920.1 439.5L920.3 440.9L920.5 442.7L920.8 444.3L921.0 446.0L921.2 446.7L921.4 448.7L921.7 450.5L921.9 451.2L922.1 452.8L922.3 454.3L922.5 455.9L922.8 457.7L923.0 458.9L923.2 460.7L923.4 461.8L923.7 463.4L923.9 464.6L924.1 466.3L924.3 468.7L924.5 469.4L924.8 470.6L925.0 472.4L925.2 474.1L925.4 475.3L925.6 477.2L925.8 478.6L926.0 479.6L926.2 481.4L926.4 483.4L926.6 484.7L926.8 485.8L927.0 487.4L927.2 489.1L927.5 491.2L927.7 492.0L927.9 492.8L928.1 494.7L928.3 496.4L928.6 498.5L928.8 499.8L929.1 500.7L929.4 502.7L929.7 503.5L930.0 504.2L930.3 506.0L930.7 507.8L931.0 509.5L931.3 510.8L931.7 512.9L932.0 514.2L932.3 514.9L932.7 517.1L933.0 519.0L933.3 520.0L933.6 521.3L933.9 523.1L934.1 524.4L934.4 525.8L934.7 526.9L934.9 528.2L935.2 529.4L935.4 530.5L935.7 532.1L936.0 534.5L936.2 536.2L936.5 537.3L936.7 538.6L936.9 539.9L937.2 541.6L937.4 542.9L937.7 544.8L937.9 545.9L938.2 547.3L938.4 550.6L938.7 551.5L938.9 551.9L939.1 553.0L939.4 554.5L939.6 555.9L939.8 557.7L940.1 559.6L940.3 560.1L940.6 561.3L940.8 562.9L941.1 564.7L941.3 567.2L941.6 568.6L941.9 569.3L942.2 570.6L942.5 572.5L942.9 573.3L943.3 575.0L943.6 577.5L944.0 577.4L944.4 578.6L944.7 579.3L945.0 578.6L945.2 579.0L945.3 577.3L945.4 574.8L945.5 573.5L945.6 572.3L945.7 571.2L945.8 570.0L945.9 568.3L946.0 566.9L946.0 565.5L946.1 563.8L946.2 562.5L946.3 561.4L946.4 559.3L946.5 558.6L946.6 557.0L946.7 555.1L946.8 553.8L946.9 552.1L947.0 551.1L947.1 549.9L947.2 548.7L947.3 546.5L947.4 545.6L947.6 544.6L947.7 541.6L947.8 539.4L947.9 539.2L948.0 539.0L948.2 536.5L948.3 534.7L948.4 533.7L948.6 531.9L948.7 529.7L948.9 528.2L949.1 527.2L949.3 525.8L949.5 523.4L949.7 522.2L949.9 520.6L950.1 518.5L950.4 518.2L950.7 517.1L951.0 515.2L951.3 513.7L951.6 512.6L951.9 511.0L952.2 508.4L952.5 507.0L952.9 505.1L953.2 502.7L953.5 503.1L953.9 502.9L954.2 500.6L954.5 498.7L954.8 497.5L955.1 496.4L955.4 494.6L955.7 492.4L956.0 491.0L956.3 489.9L956.6 488.8L956.9 487.1L957.2 485.8L957.5 484.1L957.7 482.3L958.0 481.0L958.3 479.1L958.6 478.4L958.9 477.2L959.2 474.9L959.5 473.5L959.8 472.1L960.1 470.8L960.4 470.1L960.7 468.8L961.0 466.6L961.3 464.6L961.6 464.3L961.9 462.8L962.2 461.1L962.5 460.4L962.8 457.8L963.0 456.2L963.3 455.6L963.6 454.0L963.9 452.9L964.2 451.3L964.5 449.1L964.8 447.7L965.1 446.1L965.4 444.6L965.7 442.4L966.0 441.4L966.3 440.6L966.6 438.6L966.9 437.5L967.1 435.8L967.4 434.3L967.7 432.8L968.0 430.6L968.3 428.9L968.6 428.6L968.9 426.9L969.2 424.5L969.5 424.3L969.8 423.8L970.1 422.1L970.4 420.1L970.6 418.1L970.9 417.0L971.2 415.6L971.5 413.8L971.8 411.5L972.1 409.7L972.4 408.3L972.7 407.7L973.0 406.7L973.3 404.5L973.6 403.3L973.9 401.9L974.2 400.6L974.5 398.8L974.8 396.5L975.2 396.0L975.5 394.9L975.8 392.5L976.1 391.0L976.4 389.5L976.7 388.4L977.0 387.4L977.3 385.5L977.6 383.9L977.8 382.5L978.1 381.4L978.3 379.7L978.6 377.8L978.8 377.1L979.0 375.0L979.2 373.3L979.4 372.4L979.6 370.6L979.8 368.9L980.0 368.2L980.2 366.9L980.4 364.8L980.6 363.1L980.7 362.0L980.9 361.1L981.1 359.7L981.3 358.0L981.4 356.9L981.6 354.4L981.8 351.7L981.9 350.0L982.1 349.4L982.2 347.9L982.4 346.0L982.5 345.8L982.7 343.7L982.9 341.7L983.0 340.6L983.2 339.7L983.3 337.7L983.5 336.0L983.7 335.5L984.0 333.9L984.2 332.2L984.5 331.2L984.8 329.7L985.0 327.7L985.3 326.0L985.6 324.8L985.8 323.4L986.1 321.9L986.4 320.6L986.7 319.3L986.9 317.5L987.2 315.6L987.5 314.5L987.8 313.2L988.0 312.0L988.3 310.6L988.6 309.0L988.9 308.2L989.1 306.7L989.4 304.0L989.7 301.6L990.0 300.8L990.2 299.7L990.5 298.1L990.8 296.7L991.1 295.7L991.3 294.7L991.6 292.3L991.9 290.4L992.2 289.3L992.4 287.2L992.7 286.1L993.0 285.1L993.3 283.5L993.6 283.1L993.8 282.0L994.1 280.0L994.4 277.8L994.7 275.4" stroke="#000000" stroke-width="4.2"/>
<path d="M116.5 382.6L116.8 380.6L117.0 378.7L117.3 378.5L117.5 378.0L117.8 375.7L118.0 373.7L118.3 371.8L118.5 369.3L118.7 367.3L119.0 366.5L119.2 365.8L119.4 364.0L119.7 363.0L119.9 362.4L120.1 360.6L120.3 358.0L120.6 356.3L120.8 355.7L121.0 353.7L121.3 351.1L121.5 351.2L121.7 351.1L121.9 348.5L122.1 347.5L122.4 346.8L122.6 344.7L122.8 342.8L123.0 341.5L123.2 340.6L123.4 338.8L123.7 336.4L123.9 335.2L124.1 332.4L124.3 330.7L124.5 330.4L124.7 328.9L125.0 327.5L125.2 326.2L125.5 324.9L125.8 323.3L126.1 321.7L126.4 320.4L126.6 318.7L126.9 317.5L127.3 315.5L127.6 313.6L127.9 313.2L128.2 311.0L128.5 309.1L128.8 308.9L129.1 307.6L129.4 305.0L129.8 302.1L130.1 301.3L130.4 301.4L130.8 300.0L131.1 299.6L131.4 297.8L131.8 295.4L132.1 293.6L132.5 292.0L132.8 290.9L133.2 289.8L133.6 288.7L133.9 286.5L134.3 284.5L134.7 284.1L135.1 282.4L135.4 280.6L135.8 280.5L136.2 279.0L136.5 276.8L136.9 275.7L137.3 274.3L137.6 272.2L138.0 270.5L138.3 269.6L138.7 268.6L139.1 267.3L139.4 265.3L139.8 263.0L140.1 261.5L140.5 260.3L140.9 258.7L141.2 257.6L141.6 256.6L141.9 254.2L142.3 251.1L142.7 249.2L143.0 250.0L143.4 249.4L143.8 247.3L144.1 245.7L144.5 244.3L144.9 242.1L145.2 239.5L145.6 238.2L146.0 237.8L146.3 237.5L146.7 236.2L147.1 234.3L147.5 232.0L147.8 231.0L148.2 230.1L148.6 228.2L148.9 226.9L149.3 225.2L149.7 223.4L150.1 221.9L150.4 220.1L150.8 219.1L151.1 218.2L151.5 217.1L151.9 214.9L152.2 213.5L152.6 212.9L152.9 210.8L153.2 208.9L153.6 207.1L153.9 205.3L154.2 204.7L154.5 203.9L154.9 202.3L155.2 201.4L155.5 199.3L155.8 197.3L156.1 195.9L156.4 195.1L156.7 193.9L157.1 192.0L157.4 190.8L157.7 189.2L158.0 188.4L158.4 186.5L158.7 184.7L159.1 184.4L159.4 181.7L159.8 180.0L160.2 179.3L160.5 177.8L160.9 175.6L161.3 173.9L161.7 172.5L162.1 170.8L162.5 170.5L162.9 169.2L163.3 165.9L163.7 163.8L164.2 163.0L164.6 162.7L165.0 161.5L165.5 158.8L165.9 158.3L166.4 157.8L166.9 155.9L167.4 154.0L167.9 153.1L168.3 152.0L168.8 148.9L169.4 147.0L169.9 146.2L170.4 145.3L171.0 144.7L171.6 143.0L172.3 141.0L173.0 141.2L173.8 140.2L174.6 137.6L175.5 136.4L176.4 134.9L177.4 134.0L178.4 134.0L179.5 132.4L180.6 131.5L181.8 130.7L183.1 129.6L184.4 128.6L185.7 127.5L187.1 126.6L188.5 126.8L190.0 127.2L191.4 127.0L192.8 126.8L194.2 126.7L195.5 127.6L196.7 129.2L197.8 130.7L198.8 131.1L199.8 132.3L200.7 134.7L201.5 135.8L202.2 137.2L203.0 138.7L203.7 139.7L204.4 140.5L205.1 141.8L205.7 142.8L206.4 143.7L207.0 145.5L207.6 145.7L208.2 146.6L208.8 149.6L209.3 151.9L209.8 153.4L210.4 154.6L210.9 153.9L211.3 155.4L211.8 158.0L212.3 159.0L212.7 160.5L213.1 161.8L213.5 163.0L214.0 165.5L214.4 167.6L214.8 168.1L215.2 169.1L215.6 171.4L216.0 173.2L216.3 174.3L216.7 174.9L217.1 176.1L217.5 177.6L217.8 178.3L218.2 180.8L218.6 183.0L218.9 183.8L219.3 185.0L219.6 187.0L220.0 190.0L220.3 191.4L220.7 192.2L221.0 192.8L221.4 193.9L221.8 196.0L222.2 198.1L222.6 199.5L223.0 199.7L223.4 201.1L223.8 202.8L224.2 205.0L224.6 207.0L225.0 207.9L225.4 209.1L225.8 210.8L226.2 211.9L226.5 212.5L226.9 213.3L227.3 215.8L227.6 218.4L228.0 219.6L228.4 220.8L228.7 222.8L229.1 223.7L229.4 225.0L229.8 226.5L230.1 227.1L230.4 228.4L230.8 230.1L231.1 232.1L231.4 233.7L231.8 235.0L232.1 235.6L232.4 237.6L232.7 240.4L233.1 242.0L233.4 242.8L233.7 244.1L234.0 244.7L234.3 245.8L234.6 248.7L234.9 250.6L235.2 251.0L235.5 252.7L235.7 254.5L236.0 255.9L236.3 256.8L236.5 257.6L236.8 260.0L237.0 261.9L237.3 263.5L237.6 264.8L237.8 265.9L238.1 267.6L238.4 269.6L238.6 270.1L238.9 271.0L239.2 273.1L239.4 274.8L239.7 276.9L240.0 277.6L240.3 278.9L240.6 280.1L241.0 281.0L241.3 283.0L241.7 284.7L242.0 286.1L242.4 287.4L242.8 289.0L243.2 290.6L243.7 291.3L244.1 292.2L244.5 294.3L244.9 296.7L245.3 298.9L245.7 301.5L246.0 302.5L246.3 302.1L246.7 303.6L247.0 305.8L247.3 307.3L247.6 307.9L247.9 309.3L248.2 311.2L248.5 312.1L248.7 312.9L249.0 315.7L249.3 316.7L249.6 317.6L249.8 320.1L250.1 322.2L250.4 324.1L250.6 324.5L250.9 326.3L251.2 327.9L251.5 329.7L251.7 332.3L252.0 332.7L252.3 333.8L252.5 335.4L252.8 336.0L253.1 337.9L253.4 340.1L253.6 341.4L253.9 343.2L254.2 345.0L254.4 346.5L254.7 347.2L255.0 348.2L255.2 349.9L255.5 351.3L255.8 352.5L256.0 354.9L256.3 356.8L256.5 358.2L256.8 359.1L257.1 359.6L257.3 361.3L257.6 362.6L257.9 364.1L258.1 365.7L258.4 367.1L258.6 369.6L258.9 371.6L259.2 371.8L259.4 372.7L259.7 374.9L260.0 376.9L260.2 377.7L260.5 379.4L260.8 380.5L261.0 381.2L261.3 384.3L261.5 384.7L261.8 385.2L262.1 388.5L262.3 390.0L262.6 390.6L262.9 391.7L263.1 392.5L263.4 393.8L263.6 396.3L263.9 398.2L264.2 399.6L264.4 401.3L264.7 402.9L265.0 403.7L265.2 404.8L265.5 407.0L265.7 408.5L266.0 409.7L266.3 410.2L266.5 412.4L266.8 415.4L267.1 417.7L267.3 419.2L267.6 420.3L267.8 421.7L268.1 422.2L268.4 423.6L268.6 424.7L268.9 426.0L269.1 428.0L269.4 428.9L269.7 431.0L269.9 433.6L270.2 434.7L270.5 436.0L270.7 438.1L271.0 439.1L271.2 439.1L271.5 440.1L271.8 442.6L272.0 444.7L272.3 445.1L272.5 447.1L272.8 449.4L273.1 451.1L273.3 453.0L273.6 453.4L273.8 454.4L274.1 455.7L274.4 456.8L274.6 458.5L274.9 460.6L275.1 462.9L275.4 463.7L275.7 464.8L275.9 466.8L276.2 467.8L276.4 469.8L276.7 471.2L277.0 472.8L277.2 474.3L277.5 474.7L277.7 476.7L278.0 477.9L278.2 478.4L278.5 480.5L278.8 482.6L279.0 484.0L279.3 484.5L279.5 485.5L279.7 488.2L280.0 490.6L280.2 491.3L280.5 492.7L280.7 494.8L281.0 496.6L281.2 497.6L281.5 499.3L281.7 501.0L282.0 502.5L282.2 504.6L282.5 504.8L282.8 505.7L283.0 507.8L283.3 510.0L283.6 510.6L283.9 511.3L284.2 513.8L284.5 515.7L284.8 516.4L285.1 517.2L285.4 519.4L285.8 520.8L286.1 522.1L286.4 524.6L286.8 525.9L287.1 525.6L287.5 527.6L287.9 530.9L288.4 532.5L289.0 533.7L289.6 533.5L290.2 535.1L291.0 537.4L291.8 538.3L292.7 538.9L293.8 538.8L294.8 538.9L295.9 539.4L296.9 538.9L297.8 537.0L298.6 535.0L299.3 534.1L300.0 533.4L300.6 531.9L301.1 531.0L301.6 529.8L302.0 527.9L302.4 526.2L302.8 524.8L303.1 523.6L303.5 522.4L303.8 520.7L304.2 518.5L304.5 517.3L304.8 516.7L305.1 514.3L305.4 512.6L305.7 511.5L306.0 508.7L306.3 507.4L306.6 507.5L306.8 505.7L307.1 503.4L307.3 502.8L307.6 501.1L307.8 498.6L308.1 497.5L308.3 496.8L308.6 495.8L308.9 493.8L309.2 491.9L309.5 490.7L309.8 489.2L310.2 487.3L310.5 485.4L310.9 484.8L311.2 483.7L311.5 483.3L311.8 482.3L312.2 479.0L312.4 477.3L312.7 476.3L313.0 475.0L313.3 473.6L313.5 472.2L313.8 470.4L314.1 469.0L314.3 468.7L314.6 466.7L314.9 463.9L315.2 463.0L315.5 462.4L315.8 461.0L316.2 459.5L316.5 457.6L316.8 455.4L317.2 454.3L317.6 453.3L317.9 452.4L318.3 451.3L318.6 448.1L319.0 446.3L319.4 445.4L319.7 442.5L320.1 441.6L320.4 441.1L320.8 439.3L321.1 437.3L321.5 435.5L321.8 434.5L322.1 432.8L322.4 431.4L322.7 430.7L323.0 429.2L323.3 427.9L323.6 426.4L323.9 424.2L324.2 422.3L324.5 421.5L324.8 421.0L325.1 419.5L325.4 417.3L325.7 415.9L326.0 413.7L326.2 411.7L326.5 410.9L326.8 409.9L327.1 408.4L327.3 406.9L327.6 405.0L327.9 403.3L328.1 402.6L328.4 400.5L328.7 398.3L328.9 397.5L329.2 397.4L329.5 396.4L329.7 395.0L330.0 393.8L330.2 391.4L330.5 389.2L330.7 387.3L331.0 386.5L331.3 386.0L331.5 384.2L331.7 382.7L332.0 381.1L332.2 379.4L332.5 377.8L332.7 376.9L333.0 374.9L333.2 372.2L333.4 371.2L333.7 370.8L333.9 369.4L334.2 367.3L334.4 366.1L334.6 364.7L334.8 361.9L335.1 359.9L335.3 358.3L335.5 357.2L335.8 356.5L336.0 355.4L336.2 355.2L336.4 353.2L336.7 350.6L336.9 349.3L337.1 346.4L337.3 344.7L337.5 344.2L337.8 343.3L338.0 341.7L338.2 339.5L338.4 338.7L338.7 337.8L338.9 335.6L339.2 333.8L339.5 332.6L339.8 331.9L340.0 331.3L340.3 328.8L340.6 327.2L340.9 326.4L341.2 324.5L341.5 323.5L341.8 321.4L342.0 319.8L342.3 318.2L342.6 316.1L342.9 314.8L343.2 314.4L343.5 314.2L343.8 312.3L344.1 310.2L344.4 308.1L344.7 307.2L344.9 306.7L345.2 304.8L345.5 302.6L345.8 300.5L346.1 299.1L346.4 298.4L346.7 296.5L347.0 294.5L347.3 294.3L347.6 293.2L347.9 291.8L348.2 290.1L348.5 288.0L348.8 287.0L349.1 285.6L349.5 283.6L349.8 281.6L350.1 279.2L350.4 278.7L350.7 277.8L351.0 275.2L351.3 274.4L351.6 272.9L351.9 270.3L352.3 269.0L352.6 268.2L352.9 267.1L353.2 265.9L353.5 264.8L353.8 263.0L354.2 261.3L354.5 259.8L354.8 257.9L355.1 256.6L355.5 255.7L355.8 254.9L356.1 253.6L356.4 250.8L356.7 249.4L357.1 248.1L357.4 247.2L357.7 245.0L358.0 242.4L358.4 241.5L358.7 240.4L359.0 239.2L359.3 236.9L359.7 234.5L360.0 234.0L360.3 234.1L360.7 233.3L361.0 230.9L361.3 229.0L361.6 227.3L362.0 224.9L362.3 224.4L362.7 224.0L363.0 221.8L363.3 219.8L363.7 219.0L364.0 217.9L364.3 215.8L364.7 214.3L365.0 213.0L365.4 211.2L365.7 209.4L366.1 208.6L366.4 207.2L366.8 204.8L367.1 204.4L367.5 204.2L367.9 202.1L368.2 200.0L368.6 198.3L369.0 196.2L369.3 194.7L369.7 194.0L370.1 192.5L370.4 191.1L370.8 189.4L371.2 187.8L371.6 186.0L372.0 184.4L372.4 183.4L372.8 181.4L373.2 180.0L373.6 179.2L374.0 177.7L374.4 176.7L374.9 175.2L375.3 173.8L375.7 173.0L376.2 170.9L376.6 169.8L377.1 168.0L377.5 166.1L378.0 165.4L378.5 164.1L378.9 161.8L379.4 159.4L379.9 158.4L380.4 157.6L380.9 156.6L381.4 155.2L381.9 153.6L382.5 151.8L383.0 149.9L383.5 148.6L384.1 148.2L384.6 147.5L385.2 145.6L385.8 144.2L386.4 142.4L387.0 140.9L387.6 139.7L388.2 138.0L388.8 136.7L389.5 134.8L390.1 133.6L390.8 133.5L391.5 132.1L392.2 130.4L392.9 129.5L393.7 128.0L394.5 126.8L395.3 125.7L396.2 123.8L397.1 122.4L398.1 122.0L399.2 120.8L400.4 119.9L401.7 119.1L403.0 118.8L404.3 118.9L405.5 118.6L406.7 119.9L407.7 121.4L408.6 121.9L409.3 122.3L410.0 124.4L410.6 124.6L411.2 126.2L411.8 129.6L412.5 129.7L413.1 131.0L413.8 133.1L414.5 134.0L415.2 134.1L415.9 134.9L416.6 137.3L417.3 138.6L418.1 139.9L418.8 141.2L419.5 141.3L420.2 142.7L421.0 145.1L421.7 146.4L422.4 147.8L423.2 149.2L423.9 150.9L424.6 153.1L425.3 153.8L426.0 155.1L426.7 156.7L427.4 156.8L428.1 157.5L428.7 159.8L429.4 161.1L429.9 162.5L430.5 164.8L431.0 165.5L431.5 166.4L432.0 168.3L432.4 170.2L432.8 171.7L433.2 173.1L433.6 173.9L434.0 175.7L434.3 176.8L434.7 178.4L435.0 180.5L435.3 181.0L435.6 181.9L435.8 183.8L436.1 184.9L436.4 187.2L436.6 190.0L436.9 190.3L437.1 191.2L437.4 194.1L437.7 195.8L437.9 196.0L438.2 196.2L438.5 197.3L438.9 200.5L439.2 202.9L439.5 203.1L439.9 204.8L440.2 206.7L440.6 207.5L441.0 208.8L441.3 210.4L441.7 212.9L442.1 214.1L442.5 214.6L442.8 217.1L443.2 219.5L443.6 219.8L444.0 221.6L444.3 224.1L444.7 223.8L445.1 225.6L445.4 227.0L445.8 227.9L446.1 229.5L446.5 229.8L446.9 232.2L447.2 234.8L447.6 235.8L447.9 237.1L448.3 238.6L448.7 239.8L449.0 240.8L449.4 242.7L449.7 244.7L450.1 245.7L450.4 246.9L450.8 248.3L451.1 249.3L451.4 250.8L451.7 252.5L452.1 254.7L452.4 256.2L452.7 256.8L453.0 258.8L453.3 260.9L453.6 262.6L453.9 263.6L454.2 266.0L454.4 267.4L454.7 268.0L454.9 270.8L455.2 271.7L455.4 272.3L455.7 274.4L455.9 274.8L456.2 275.8L456.4 278.3L456.6 279.4L456.9 280.3L457.1 283.0L457.3 284.5L457.6 285.6L457.8 286.9L458.0 287.9L458.3 289.4L458.5 291.0L458.8 293.1L459.0 294.8L459.3 297.0L459.5 298.7L459.8 299.3L460.1 301.6L460.4 302.9L460.6 302.9L460.9 304.5L461.2 305.8L461.5 307.5L461.8 310.2L462.1 311.7L462.4 312.3L462.7 313.4L463.0 315.3L463.3 317.4L463.6 318.4L463.9 319.1L464.2 321.3L464.4 323.1L464.7 324.2L465.0 325.8L465.3 326.7L465.6 327.9L465.9 330.3L466.1 331.8L466.4 332.6L466.7 334.3L466.9 336.1L467.2 338.7L467.4 339.6L467.6 339.9L467.9 342.7L468.1 344.2L468.3 344.8L468.5 345.6L468.8 347.4L469.0 350.0L469.2 351.4L469.4 352.4L469.7 353.6L469.9 355.2L470.1 356.9L470.4 358.4L470.6 359.9L470.9 360.7L471.2 361.6L471.5 362.3L471.8 363.9L472.1 367.1L472.5 368.5L472.9 370.8L473.3 371.8L473.7 372.0L474.1 373.4L474.5 374.8L474.9 376.5L475.2 377.4L475.6 378.6L475.9 381.9L476.2 383.7L476.5 384.6L476.8 385.6L477.1 386.5L477.4 388.9L477.7 390.3L478.0 391.3L478.3 392.7L478.6 394.5L478.8 396.5L479.1 398.5L479.4 398.9L479.7 398.8L479.9 400.8L480.2 403.3L480.5 405.2L480.7 407.3L481.0 408.0L481.3 410.0L481.6 411.9L481.8 411.5L482.1 413.3L482.4 415.8L482.7 417.0L482.9 417.5L483.2 418.7L483.5 421.0L483.7 422.6L484.0 424.3L484.3 426.5L484.5 428.4L484.8 429.9L485.0 430.5L485.3 432.2L485.5 433.9L485.7 435.0L486.0 436.2L486.2 436.6L486.4 437.1L486.7 439.3L486.9 441.6L487.1 443.0L487.3 445.3L487.5 446.0L487.7 446.2L487.9 448.5L488.0 451.1L488.2 452.3L488.4 453.4L488.6 454.2L488.7 455.9L488.9 457.8L489.1 459.6L489.3 461.9L489.5 462.9L489.6 464.1L489.8 466.0L490.0 467.6L490.2 469.8L490.4 471.2L490.7 472.3L490.9 473.8L491.1 474.8L491.3 475.8L491.6 477.7L491.8 479.8L492.0 481.8L492.3 483.8L492.5 484.1L492.8 484.4L493.0 485.6L493.2 486.8L493.5 488.3L493.7 490.6L494.0 493.3L494.2 493.7L494.5 494.9L494.7 497.3L495.0 499.5L495.3 501.0L495.5 501.7L495.8 502.7L496.1 504.4L496.4 506.1L496.7 507.0L497.0 507.7L497.3 510.0L497.6 511.7L497.9 512.5L498.2 514.7L498.6 516.3L499.0 517.9L499.4 518.8L499.8 520.1L500.2 521.4L500.7 521.7L501.2 523.2L501.7 525.5L502.3 527.0L502.8 527.7L503.4 530.0L504.0 531.6L504.6 532.3L505.3 534.2L506.0 535.4L506.7 536.7L507.6 538.4L508.5 539.2L509.5 540.2L510.5 540.3L511.5 539.1L512.5 539.0L513.4 538.1L514.1 537.0L514.7 536.2L515.2 534.4L515.6 533.3L516.0 532.3L516.3 529.1L516.6 527.2L517.0 527.3L517.3 526.2L517.6 524.4L517.9 522.1L518.2 521.0L518.5 520.4L518.8 517.9L519.2 515.3L519.5 514.6L519.9 512.6L520.2 511.1L520.6 511.4L521.0 509.7L521.3 507.9L521.7 506.5L522.1 505.2L522.4 504.5L522.8 503.5L523.2 501.8L523.5 500.2L523.9 498.9L524.3 496.7L524.6 495.8L525.0 494.2L525.4 492.1L525.7 492.2L526.1 491.1L526.5 488.0L526.8 486.3L527.2 485.0L527.6 483.3L527.9 481.4L528.3 480.1L528.7 478.6L529.0 477.2L529.4 476.7L529.8 475.5L530.1 475.0L530.5 472.3L530.9 469.1L531.2 468.0L531.6 466.8L532.0 466.3L532.4 465.0L532.7 462.8L533.1 461.0L533.5 459.5L533.9 458.4L534.3 457.2L534.6 455.2L535.0 453.8L535.4 453.4L535.8 452.1L536.2 449.8L536.6 448.6L536.9 448.1L537.3 446.4L537.6 443.9L538.0 441.6L538.3 440.8L538.6 439.5L538.9 437.4L539.2 436.8L539.5 436.5L539.8 434.9L540.0 433.6L540.2 432.3L540.5 429.5L540.7 428.2L540.9 427.3L541.1 425.5L541.3 424.7L541.5 423.2L541.7 421.8L542.0 420.1L542.2 417.6L542.4 415.8L542.6 414.4L542.8 412.4L543.0 411.0L543.3 410.3L543.5 408.6L543.8 406.0L544.0 403.7L544.3 403.7L544.6 402.9L544.9 401.7L545.2 400.4L545.5 398.4L545.8 396.6L546.1 394.6L546.4 393.7L546.8 392.9L547.1 392.4L547.4 391.1L547.7 388.1L548.0 386.1L548.3 385.3L548.6 383.5L548.8 382.4L549.1 382.0L549.4 380.0L549.6 378.3L549.9 377.8L550.1 375.2L550.4 373.9L550.6 373.8L550.8 371.6L551.1 370.1L551.3 368.6L551.5 366.8L551.7 365.5L551.9 363.1L552.2 361.4L552.4 360.2L552.6 358.4L552.8 356.4L553.0 354.8L553.2 353.2L553.4 352.7L553.6 350.9L553.8 348.8L554.0 348.0L554.2 345.9L554.4 345.1L554.6 343.8L554.8 342.6L555.0 341.4L555.1 339.4L555.3 338.0L555.5 336.7L555.7 335.7L555.9 333.7L556.1 331.7L556.4 331.3L556.7 329.6L557.1 328.2L557.5 326.8L557.9 324.2L558.3 322.1L558.7 320.5L559.1 319.0L559.5 317.7L559.9 317.5L560.3 316.3L560.7 314.2L561.0 312.3L561.4 310.8L561.8 309.1L562.2 307.4L562.5 307.6L562.9 306.9L563.3 304.0L563.6 302.8L564.0 302.5L564.3 300.4L564.7 298.2L565.0 296.4L565.4 294.2L565.7 294.0L566.1 295.1L566.4 292.6L566.7 288.6L567.1 288.2L567.4 288.1L567.7 286.1L568.1 284.9L568.4 283.0L568.7 281.0L569.0 280.1L569.4 278.3L569.7 276.7L570.0 275.2L570.3 273.8L570.6 272.5L571.0 269.8L571.3 268.3L571.6 267.1L571.9 265.2L572.2 263.6L572.5 263.0L572.8 262.2L573.1 260.1L573.4 259.4L573.7 258.5L574.1 256.3L574.4 253.4L574.7 252.4L575.0 251.8L575.3 249.8L575.6 248.9L575.9 247.3L576.2 245.4L576.5 244.7L576.7 243.5L577.0 241.3L577.3 240.3L577.6 239.7L577.9 238.4L578.2 236.4L578.4 234.0L578.7 233.1L579.0 231.8L579.2 229.8L579.5 228.1L579.7 226.4L580.0 224.6L580.2 223.0L580.5 222.0L580.7 220.7L581.0 218.3L581.2 217.0L581.5 217.1L581.7 216.3L582.0 212.9L582.2 210.4L582.5 210.3L582.7 209.3L583.0 207.4L583.2 205.8L583.5 204.4L583.7 202.4L584.0 201.5L584.3 200.0L584.5 197.9L584.8 197.7L585.1 196.8L585.4 194.6L585.7 192.6L586.0 190.8L586.3 189.1L586.6 187.8L586.9 187.3L587.2 185.7L587.5 183.9L587.8 182.8L588.2 181.3L588.5 179.5L588.8 178.2L589.2 176.9L589.5 175.2L589.9 173.4L590.3 170.8L590.7 170.0L591.2 170.0L591.6 167.9L592.1 166.1L592.6 165.0L593.1 163.2L593.7 162.1L594.3 161.5L594.9 160.2L595.6 159.0L596.4 156.4L597.2 155.0L598.1 154.5L599.1 153.7L600.2 153.4L601.2 152.2L602.4 150.6L603.5 150.6L604.6 149.7L605.7 146.7L606.8 146.3L608.0 145.1L609.1 144.5L610.2 144.8L611.5 143.7L612.7 142.9L614.0 141.8L615.4 140.0L616.8 139.0L618.2 139.6L619.6 139.5L621.1 139.4L622.5 139.3L623.8 139.1L625.0 140.3L626.2 141.9L627.2 142.8L628.2 143.1L629.1 143.4L629.9 146.1L630.8 147.6L631.7 147.4L632.5 148.8L633.4 150.9L634.2 152.2L635.0 153.3L635.8 155.1L636.5 155.5L637.2 156.8L637.8 158.1L638.5 159.3L639.1 161.7L639.6 163.0L640.2 163.6L640.8 164.9L641.3 166.6L641.9 168.4L642.5 168.7L643.1 169.0L643.6 171.8L644.2 174.0L644.8 175.2L645.3 176.7L645.9 178.0L646.4 179.1L646.9 180.7L647.4 182.6L647.8 184.2L648.3 185.3L648.7 186.0L649.1 187.6L649.5 189.0L649.9 190.0L650.2 192.1L650.6 193.9L650.9 195.9L651.3 197.7L651.7 198.8L652.0 199.7L652.4 200.9L652.7 202.4L653.1 204.7L653.5 206.5L653.8 206.8L654.2 207.6L654.6 210.0L654.9 211.5L655.3 212.5L655.6 214.5L656.0 216.3L656.4 217.2L656.7 218.4L657.1 220.3L657.5 222.0L657.8 224.0L658.2 225.1L658.5 225.8L658.9 227.6L659.3 228.5L659.6 229.6L660.0 231.3L660.4 232.0L660.8 233.2L661.1 234.4L661.5 237.1L661.9 239.8L662.3 240.8L662.7 242.4L663.1 243.8L663.5 244.5L663.9 245.4L664.3 247.4L664.7 249.8L665.1 251.5L665.4 252.2L665.8 252.9L666.1 254.1L666.5 256.2L666.8 258.7L667.1 259.9L667.4 261.0L667.7 262.1L668.0 263.4L668.2 265.5L668.5 266.9L668.7 268.3L669.0 270.2L669.2 270.7L669.4 271.4L669.6 273.0L669.8 275.1L670.0 276.4L670.2 278.2L670.4 280.9L670.6 282.3L670.9 282.4L671.1 282.5L671.3 285.2L671.5 288.6L671.7 289.5L671.9 290.5L672.2 292.0L672.4 292.9L672.7 295.0L672.9 296.5L673.2 297.9L673.5 300.5L673.8 301.5L674.0 303.1L674.3 304.0L674.6 305.0L674.9 307.1L675.2 309.4L675.5 310.9L675.8 310.7L676.1 312.9L676.4 314.0L676.7 314.9L677.0 316.8L677.3 318.7L677.6 320.5L677.9 321.7L678.2 323.2L678.5 323.7L678.8 324.1L679.1 327.0L679.4 329.7L679.7 329.7L680.0 330.9L680.3 333.4L680.6 334.3L680.9 336.4L681.2 338.5L681.5 338.7L681.8 340.9L682.1 342.7L682.4 343.0L682.7 344.8L683.0 347.0L683.2 348.6L683.5 349.4L683.8 349.7L684.1 352.0L684.4 353.8L684.7 353.9L685.0 355.3L685.3 358.1L685.6 359.5L685.9 361.3L686.2 362.9L686.5 363.7L686.8 364.6L687.1 365.7L687.4 367.9L687.7 370.1L688.0 371.7L688.3 373.4L688.6 373.7L688.9 374.7L689.2 377.1L689.5 378.1L689.8 379.6L690.1 381.2L690.4 382.9L690.7 384.6L690.9 386.1L691.2 387.3L691.5 389.2L691.8 391.3L692.1 393.0L692.4 394.2L692.7 394.6L692.9 396.2L693.2 397.7L693.5 398.5L693.8 400.3L694.1 402.2L694.3 403.4L694.6 404.7L694.9 406.0L695.2 407.7L695.4 409.0L695.7 411.3L696.0 413.4L696.2 414.5L696.5 415.4L696.8 416.6L697.1 418.6L697.3 420.4L697.6 422.4L697.9 422.5L698.1 424.1L698.4 425.7L698.7 427.3L698.9 429.5L699.2 429.7L699.5 431.5L699.8 433.6L700.0 434.2L700.3 435.3L700.6 437.5L700.8 438.7L701.1 439.5L701.4 442.6L701.7 444.1L701.9 444.8L702.2 446.9L702.5 448.7L702.7 450.4L703.0 450.1L703.3 450.9L703.6 454.2L703.9 455.6L704.1 457.4L704.4 459.4L704.7 459.3L705.0 460.9L705.3 464.0L705.6 464.8L705.8 465.6L706.1 467.0L706.4 467.9L706.7 469.9L707.0 471.9L707.3 473.5L707.6 474.8L707.9 477.3L708.2 478.1L708.5 477.4L708.8 479.7L709.1 482.2L709.4 482.7L709.8 484.9L710.1 486.8L710.4 486.7L710.7 488.7L711.1 491.2L711.4 493.6L711.7 494.0L712.1 493.6L712.4 495.7L712.8 497.6L713.2 499.1L713.5 500.5L713.9 501.2L714.3 502.7L714.7 505.3L715.0 507.4L715.4 508.2L715.8 509.5L716.2 511.5L716.5 512.4L716.9 513.5L717.3 515.2L717.6 518.3L718.0 519.8L718.3 519.4L718.6 520.7L719.0 522.3L719.3 524.5L719.6 525.1L719.9 525.5L720.2 528.4L720.5 530.7L720.9 531.7L721.3 533.3L721.7 534.0L722.3 535.2L722.9 536.6L723.6 536.9L724.5 538.6L725.4 539.4L726.4 539.0L727.4 539.3L728.4 538.1L729.2 537.0L730.0 537.5L730.7 535.8L731.3 533.8L731.8 532.9L732.3 530.3L732.8 527.8L733.2 527.0L733.6 525.2L733.9 523.7L734.3 523.5L734.6 522.2L735.0 520.9L735.3 519.8L735.6 518.0L735.9 516.5L736.2 515.5L736.5 513.6L736.8 511.8L737.0 510.5L737.3 508.7L737.5 507.2L737.8 506.6L738.0 504.4L738.3 501.9L738.5 500.4L738.8 499.4L739.0 498.4L739.3 497.4L739.5 496.7L739.7 495.6L740.0 493.3L740.3 490.8L740.5 488.6L740.8 487.7L741.0 487.1L741.3 485.1L741.6 483.3L741.8 481.9L742.1 479.2L742.4 477.7L742.6 477.7L742.9 476.2L743.2 474.0L743.4 472.7L743.7 472.0L744.0 471.4L744.2 470.2L744.5 468.1L744.8 466.1L745.1 463.6L745.3 461.9L745.6 460.4L745.9 459.1L746.1 458.9L746.4 458.0L746.7 456.4L747.0 454.5L747.2 453.0L747.5 451.4L747.8 448.4L748.0 447.2L748.3 446.7L748.6 444.3L748.9 442.5L749.1 440.7L749.4 439.2L749.7 439.6L749.9 438.0L750.2 436.6L750.5 435.6L750.8 433.1L751.0 430.6L751.3 429.9L751.6 429.6L751.9 427.0L752.1 425.0L752.4 424.8L752.7 423.2L753.0 421.3L753.2 419.3L753.5 417.1L753.8 417.0L754.1 415.4L754.3 412.8L754.6 411.2L754.9 410.3L755.2 408.7L755.4 407.4L755.7 407.0L756.0 406.4L756.3 404.4L756.6 403.0L756.8 402.0L757.1 399.6L757.4 398.1L757.7 397.5L757.9 396.5L758.2 394.6L758.5 392.4L758.8 390.9L759.1 389.6L759.3 387.8L759.6 386.4L759.9 385.7L760.2 383.5L760.5 381.1L760.8 379.7L761.0 378.7L761.3 378.3L761.6 377.1L761.9 374.9L762.2 372.7L762.5 371.8L762.7 370.4L763.0 368.7L763.3 367.2L763.6 365.8L763.9 364.1L764.2 362.7L764.5 360.6L764.7 358.7L765.0 357.3L765.3 356.0L765.6 354.8L765.9 353.6L766.2 353.2L766.5 350.8L766.8 348.3L767.0 347.6L767.3 347.3L767.6 346.0L767.9 344.0L768.2 342.2L768.5 340.2L768.8 339.0L769.1 338.0L769.4 336.4L769.7 334.4L770.0 332.0L770.2 330.4L770.5 329.6L770.8 327.9L771.1 326.8L771.4 325.2L771.7 323.4L772.0 322.9L772.3 321.9L772.6 320.4L772.9 319.1L773.2 317.3L773.5 314.8L773.8 314.2L774.1 312.6L774.4 310.5L774.7 308.6L775.0 307.8L775.3 307.6L775.6 305.2L775.9 302.5L776.2 301.5L776.6 301.0L776.9 300.0L777.2 299.4L777.5 297.4L777.8 294.9L778.1 293.2L778.4 291.7L778.7 289.7L779.1 287.9L779.4 287.1L779.7 285.2L780.0 283.1L780.3 283.1L780.6 282.0L781.0 280.3L781.3 279.7L781.6 277.9L781.9 276.3L782.3 274.7L782.6 272.4L782.9 271.0L783.2 270.0L783.6 268.6L783.9 267.2L784.2 265.4L784.6 264.5L784.9 263.1L785.2 260.9L785.5 260.0L785.9 258.3L786.2 256.3L786.6 256.1L786.9 254.7L787.2 253.2L787.6 251.6L787.9 249.1L788.2 247.7L788.6 246.2L788.9 244.7L789.3 243.3L789.6 242.4L790.0 241.4L790.3 239.4L790.6 237.4L791.0 237.6L791.3 236.4L791.7 234.1L792.0 232.1L792.4 229.6L792.7 229.3L793.1 227.7L793.4 225.1L793.8 224.1L794.1 222.9L794.5 221.3L794.9 220.3L795.2 219.4L795.6 218.0L795.9 216.2L796.3 215.3L796.7 214.4L797.0 212.1L797.4 209.0L797.7 207.2L798.1 207.3L798.5 206.1L798.8 203.7L799.2 202.3L799.6 202.0L799.9 200.8L800.3 198.3L800.7 196.5L801.0 194.7L801.4 195.0L801.8 194.1L802.1 191.3L802.5 189.7L802.9 188.7L803.3 186.9L803.7 184.0L804.1 182.7L804.4 182.4L804.8 182.4L805.2 180.7L805.6 177.7L806.0 176.2L806.5 174.8L806.9 173.1L807.2 172.1L807.6 171.2L808.0 169.3L808.4 168.3L808.8 167.1L809.2 165.2L809.6 163.5L810.0 162.2L810.5 161.2L810.9 159.9L811.3 157.9L811.8 156.5L812.3 155.2L812.8 153.5L813.3 152.7L813.8 152.0L814.3 150.0L814.8 147.3L815.4 146.2L816.0 146.0L816.6 144.4L817.1 143.6L817.7 141.4L818.4 139.6L819.0 139.8L819.7 138.3L820.4 135.9L821.2 134.8L822.0 134.6L822.9 133.3L823.9 131.5L824.9 129.7L826.1 129.6L827.3 129.1L828.6 127.6L830.0 126.6L831.4 126.6L832.7 126.4L834.1 126.9L835.4 128.2L836.6 127.8L837.7 128.9L838.8 131.3L839.8 132.3L840.7 132.2L841.7 132.9L842.7 135.1L843.7 135.8L844.8 136.3L845.8 138.7L846.7 139.9L847.6 140.2L848.4 142.0L849.1 144.4L849.7 145.5L850.2 145.4L850.7 145.9L851.1 147.8L851.4 149.2L851.8 150.7L852.1 153.6L852.5 153.7L852.8 154.6L853.3 157.6L853.7 158.8L854.2 160.3L854.7 162.2L855.2 164.0L855.7 166.5L856.3 167.5L856.8 167.1L857.4 167.8L858.0 169.0L858.6 171.3L859.1 173.4L859.7 174.7L860.3 176.0L860.9 178.0L861.5 179.8L862.1 180.9L862.7 181.4L863.2 182.1L863.7 183.2L864.2 184.4L864.7 186.5L865.1 187.7L865.4 188.8L865.8 191.9L866.1 193.6L866.3 193.3L866.6 194.2L866.8 196.4L867.0 199.0L867.2 200.4L867.4 201.9L867.7 203.6L867.9 204.1L868.1 206.0L868.4 207.8L868.6 209.7L868.9 211.1L869.2 211.5L869.6 213.0L869.9 214.4L870.3 216.4L870.6 217.9L871.0 219.7L871.4 221.4L871.8 223.1L872.2 224.4L872.6 225.6L873.0 227.7L873.4 228.4L873.8 230.5L874.2 232.8L874.6 233.2L874.9 233.8L875.3 235.0L875.6 236.5L875.9 238.1L876.2 239.1L876.4 240.5L876.7 242.2L876.9 244.5L877.2 246.7L877.4 248.2L877.6 250.5L877.8 251.4L878.0 252.7L878.2 254.1L878.4 254.9L878.6 255.7L878.8 256.9L879.1 259.6L879.3 261.3L879.5 261.9L879.7 263.1L879.9 264.4L880.2 265.6L880.4 266.7L880.7 269.1L880.9 271.8L881.2 272.7L881.4 272.9L881.7 274.3L882.0 277.5L882.3 278.4L882.6 278.6L882.9 280.5L883.2 282.7L883.5 283.7L883.8 284.9L884.1 286.6L884.4 287.8L884.7 289.0L885.0 291.0L885.3 292.8L885.6 293.7L885.9 296.0L886.2 297.9L886.5 300.0L886.8 301.5L887.1 301.8L887.4 303.2L887.7 306.0L888.0 308.0L888.3 308.0L888.6 309.0L888.9 310.3L889.2 312.0L889.5 313.4L889.8 314.3L890.1 316.3L890.4 318.7L890.7 320.4L890.9 321.5L891.2 322.6L891.5 322.5L891.8 323.8L892.1 326.4L892.4 328.2L892.7 330.7L893.0 332.3L893.3 332.0L893.6 333.1L893.9 335.3L894.2 337.1L894.5 338.7L894.8 338.8L895.1 339.9L895.4 342.2L895.7 343.1L896.0 344.6L896.3 347.0L896.6 349.1L896.8 350.6L897.1 351.2L897.4 352.7L897.7 354.5L898.0 356.5L898.3 357.5L898.6 357.3L898.9 360.7L899.2 363.7L899.5 363.8L899.8 366.1L900.1 366.9L900.4 366.8L900.7 368.6L901.0 370.7L901.3 372.2L901.6 373.8L901.8 375.3L902.1 377.1L902.4 379.0L902.7 378.9L903.0 380.1L903.3 381.9L903.6 383.3L903.9 385.3L904.2 388.0L904.5 389.4L904.8 388.9L905.1 390.5L905.4 392.2L905.7 394.6L906.0 397.0L906.3 398.3L906.6 399.2L906.9 399.4L907.2 401.2L907.5 402.5L907.7 403.3L908.0 405.1L908.3 407.0L908.6 408.1L908.9 408.6L909.2 411.6L909.5 413.8L909.8 414.5L910.1 416.5L910.4 418.3L910.7 419.1L911.0 420.1L911.3 422.8L911.6 425.1L911.9 426.1L912.2 427.8L912.5 428.0L912.7 428.7L913.0 430.9L913.3 431.4L913.6 433.2L913.9 435.9L914.2 437.4L914.5 437.6L914.8 438.8L915.1 441.3L915.4 442.8L915.7 444.3L916.0 446.1L916.3 448.2L916.6 449.5L916.9 451.6L917.2 453.1L917.5 453.4L917.8 455.1L918.1 456.4L918.4 457.3L918.7 459.4L919.0 460.0L919.3 459.9L919.6 463.5L919.9 466.3L920.2 467.0L920.5 468.2L920.8 469.6L921.1 470.4L921.4 471.6L921.7 473.0L922.0 475.2L922.3 477.5L922.7 478.5L923.0 479.9L923.3 481.2L923.6 481.8L923.9 484.2L924.2 486.6L924.5 487.1L924.8 488.6L925.1 490.8L925.5 492.5L925.8 493.7L926.1 495.0L926.4 496.0L926.7 497.7L927.1 499.8L927.4 501.1L927.7 501.4L928.0 502.7L928.4 505.2L928.7 506.7L929.0 506.5L929.4 506.6L929.7 509.5L930.0 511.5L930.3 513.0L930.7 514.9L931.0 516.6L931.4 517.8L931.7 518.3L932.0 520.3L932.4 522.1L932.7 522.7L933.1 523.3L933.4 527.0L933.8 529.3L934.1 529.0L934.5 529.6L934.8 530.7L935.2 533.1L935.5 535.2L935.9 537.2L936.2 538.0L936.6 539.3L937.0 541.4L937.5 541.9L938.1 541.7L938.8 541.0L939.5 540.1L940.2 539.4L940.8 538.9L941.4 538.2L941.8 537.3L942.2 536.0L942.6 534.2L942.9 532.9L943.2 531.1L943.6 528.8L943.9 528.1L944.2 527.1L944.5 523.9L944.9 522.2L945.2 521.1L945.6 520.5L945.9 520.2L946.3 518.9L946.6 518.0L947.0 515.5L947.4 511.9L947.7 510.3L948.1 510.0L948.5 507.7L948.8 505.7L949.2 506.1L949.6 504.5L949.9 502.5L950.3 501.0L950.7 500.5L951.0 500.6L951.4 497.7L951.8 494.8L952.1 493.9L952.5 493.3L952.9 492.0L953.2 490.5L953.6 489.4L954.0 488.2L954.3 487.2L954.7 485.2L955.1 482.6L955.4 481.0L955.8 481.0L956.1 480.0L956.4 477.7L956.8 476.5L957.1 475.3L957.4 474.4L957.7 471.9L958.0 469.3L958.3 468.6L958.6 467.5L958.9 465.4L959.2 462.7L959.5 461.3L959.8 460.3L960.1 458.9L960.4 458.3L960.6 457.3L960.9 454.6L961.2 452.4L961.5 451.6L961.8 451.1L962.1 449.5L962.4 447.6L962.7 445.4L963.0 443.5L963.3 442.4L963.6 441.3L963.9 440.1L964.2 438.0L964.5 436.1L964.8 435.2L965.0 434.0L965.3 433.0L965.6 431.9L965.9 429.7L966.2 428.6L966.5 426.7L966.8 425.2L967.1 424.0L967.4 422.4L967.6 421.0L967.9 418.6L968.2 416.5L968.5 415.6L968.8 415.3L969.1 413.1L969.4 412.3L969.7 411.5L970.0 408.5L970.3 408.1L970.6 407.0L970.9 405.3L971.2 402.6L971.6 401.5L971.9 401.6L972.3 399.0L972.7 397.6L973.1 395.6L973.4 394.4L973.8 393.8L974.2 392.0L974.6 390.1L975.0 387.8L975.3 386.9L975.7 386.4L976.0 384.9L976.4 382.9L976.7 381.1L977.0 380.1L977.3 379.6L977.6 377.7L977.8 375.0L978.1 374.9L978.4 373.1L978.6 370.4L978.8 369.7L979.1 368.8L979.3 367.3L979.6 364.2L979.8 362.2L980.0 361.7L980.2 360.8L980.4 358.9L980.7 357.1L980.9 355.2L981.1 353.2L981.3 352.2L981.5 351.1L981.7 349.9L981.9 348.2L982.1 347.5L982.3 345.8L982.5 343.9L982.6 343.6L982.8 342.5L983.0 341.5L983.2 338.5L983.4 336.5L983.7 336.1L983.9 334.9L984.2 333.3L984.4 331.0L984.7 329.9L985.0 328.7L985.3 326.3L985.6 325.0L985.8 323.6L986.1 321.6L986.4 320.5L986.7 320.7L987.0 319.3L987.3 316.5L987.5 314.7L987.8 313.3L988.1 311.5L988.4 310.1L988.7 309.4L989.0 307.7L989.3 306.3L989.5 304.7L989.8 303.3L990.1 302.2L990.4 300.7L990.7 298.9L991.0 297.6L991.3 296.1L991.6 294.8L991.9 293.4L992.2 291.9L992.5 290.6L992.8 288.5L993.1 286.4L993.4 285.2L993.7 284.5L994.0 282.7L994.3 281.2L994.6 279.8" stroke="#ff0000" stroke-width="4.2"/>
<path d="M116.8 366.8L117.1 364.6L117.5 361.8L117.8 360.9L118.1 359.9L118.4 358.6L118.7 356.8L119.1 356.4L119.4 354.9L119.7 352.4L120.0 351.1L120.3 349.0L120.7 347.9L121.0 345.6L121.3 344.4L121.6 343.1L121.9 340.7L122.2 340.3L122.5 338.7L122.8 336.9L123.1 336.5L123.4 337.0L123.7 335.4L124.0 332.4L124.4 329.9L124.7 327.8L125.0 327.5L125.4 327.2L125.8 325.8L126.2 324.4L126.6 323.0L127.0 320.5L127.4 317.7L127.8 316.0L128.3 315.0L128.7 314.1L129.1 312.8L129.5 310.7L130.0 309.3L130.4 309.2L130.8 307.7L131.3 303.9L131.7 302.4L132.1 302.5L132.6 301.7L133.0 300.4L133.5 298.8L133.9 297.2L134.4 295.6L134.8 295.0L135.3 293.2L135.7 291.3L136.2 290.2L136.7 289.0L137.1 287.3L137.6 285.8L138.0 283.3L138.5 281.4L139.0 281.7L139.4 280.9L139.9 278.3L140.3 275.9L140.8 275.3L141.2 274.6L141.6 273.3L142.1 271.6L142.5 270.0L143.0 269.2L143.4 267.0L143.8 264.0L144.2 263.8L144.6 262.8L145.0 261.2L145.4 259.8L145.8 257.1L146.2 257.1L146.6 256.4L146.9 253.0L147.3 251.4L147.7 250.8L148.0 249.3L148.4 248.1L148.8 246.0L149.2 244.3L149.6 243.9L150.0 243.0L150.4 241.3L150.8 239.0L151.2 236.2L151.6 236.2L152.1 235.3L152.5 232.7L152.9 232.0L153.4 231.1L153.8 229.7L154.3 227.4L154.8 226.0L155.3 226.4L155.8 226.7L156.3 223.8L156.8 221.1L157.3 218.7L157.8 217.0L158.3 217.2L158.7 215.5L159.2 214.8L159.7 214.1L160.1 211.9L160.5 208.2L161.0 205.9L161.3 206.7L161.7 205.3L162.1 202.2L162.5 200.7L163.0 201.4L163.4 200.8L163.9 199.0L164.5 197.3L165.1 196.4L165.8 193.2L166.5 190.0L167.3 191.8L168.2 192.1L169.0 189.8L170.0 187.7L170.9 185.2L171.9 184.0L173.0 184.0L174.0 182.6L175.1 182.6L176.2 182.8L177.3 180.8L178.5 179.8L179.7 179.1L181.0 177.9L182.3 176.9L183.7 177.8L185.1 176.7L186.5 174.6L188.0 176.0L189.4 176.6L190.9 174.9L192.3 173.8L193.7 175.2L195.0 175.9L196.2 176.3L197.4 177.6L198.4 179.0L199.4 181.0L200.2 181.2L201.0 182.4L201.8 184.6L202.5 185.6L203.3 186.9L204.0 189.3L204.7 189.7L205.4 190.3L206.1 192.5L206.8 192.9L207.4 195.5L208.1 196.9L208.7 197.9L209.3 200.4L209.8 200.8L210.4 202.5L210.9 205.2L211.4 205.1L211.8 205.9L212.3 207.0L212.8 208.4L213.2 210.9L213.7 212.8L214.1 213.8L214.6 214.3L215.0 215.1L215.4 216.3L215.9 218.0L216.3 220.4L216.7 221.7L217.1 222.3L217.5 223.4L217.9 225.6L218.3 227.6L218.8 227.6L219.2 230.0L219.6 233.2L220.0 233.9L220.4 234.4L220.7 235.8L221.1 236.9L221.5 239.0L221.9 242.0L222.3 243.5L222.7 244.2L223.1 245.1L223.5 246.7L223.9 249.1L224.2 249.7L224.6 250.1L225.0 251.6L225.3 252.3L225.7 254.4L226.0 257.4L226.4 257.9L226.7 259.3L227.1 261.9L227.4 263.0L227.8 264.9L228.1 265.6L228.5 267.3L228.8 268.9L229.2 269.7L229.5 270.4L229.9 272.1L230.2 274.6L230.6 275.0L231.0 275.8L231.4 277.7L231.7 280.7L232.1 282.4L232.6 282.7L233.0 283.3L233.4 284.3L233.9 286.0L234.4 287.1L234.9 288.4L235.4 291.6L235.9 293.2L236.4 293.8L236.9 294.9L237.4 296.9L237.8 299.1L238.3 301.0L238.7 301.6L239.1 301.4L239.4 302.9L239.8 304.3L240.1 306.1L240.5 308.1L240.8 309.0L241.1 310.7L241.5 313.4L241.8 315.4L242.1 315.8L242.4 316.8L242.7 318.9L243.0 320.7L243.3 321.8L243.6 322.0L243.9 323.9L244.2 325.6L244.5 326.6L244.9 328.5L245.2 330.8L245.5 332.1L245.8 333.1L246.1 334.8L246.4 335.8L246.7 337.9L247.0 339.5L247.3 340.7L247.6 342.6L247.8 342.6L248.1 342.8L248.4 343.4L248.7 346.2L248.9 349.9L249.2 350.8L249.5 351.8L249.8 353.4L250.0 354.8L250.3 356.5L250.6 358.3L250.9 359.2L251.1 361.7L251.4 364.4L251.7 364.7L252.0 366.9L252.2 370.2L252.5 371.1L252.8 371.8L253.1 372.0L253.4 372.5L253.7 373.4L254.0 374.8L254.3 377.9L254.6 379.4L254.9 379.1L255.2 381.9L255.6 385.7L255.9 387.1L256.3 386.3L256.7 387.3L257.1 389.2L257.5 390.0L258.0 392.4L258.5 394.9L259.1 395.4L259.7 395.6L260.4 396.5L261.1 398.1L261.8 399.6L262.4 400.6L263.1 403.1L263.7 404.7L264.3 405.7L264.8 407.3L265.3 409.2L265.7 411.3L266.1 411.5L266.5 411.0L266.9 413.5L267.3 416.5L267.7 418.5L268.0 420.0L268.4 421.7L268.7 423.0L269.0 422.9L269.4 424.7L269.7 426.0L270.0 426.3L270.3 428.7L270.7 430.4L271.0 432.2L271.3 433.6L271.6 435.7L271.9 436.7L272.2 437.4L272.5 439.3L272.8 441.2L273.1 442.6L273.4 443.7L273.8 443.4L274.1 443.9L274.4 448.5L274.7 450.6L275.0 451.1L275.3 453.0L275.7 456.0L276.0 456.1L276.3 456.0L276.7 457.8L277.0 459.8L277.4 461.1L277.7 461.1L278.1 462.0L278.4 464.9L278.8 467.5L279.2 469.1L279.5 469.4L279.9 469.7L280.2 471.8L280.6 474.4L280.9 476.5L281.3 477.3L281.7 477.8L282.0 479.5L282.4 481.3L282.8 483.2L283.2 486.1L283.6 487.1L284.0 486.6L284.5 489.5L285.0 492.1L285.5 492.3L286.1 493.3L286.7 494.5L287.4 495.8L288.1 497.1L288.9 497.2L289.8 497.5L290.8 499.0L291.7 499.7L292.7 499.6L293.6 499.0L294.4 496.7L295.1 494.5L295.7 493.9L296.3 493.3L296.9 492.2L297.4 492.0L297.9 490.4L298.4 487.6L298.9 485.4L299.3 485.3L299.8 485.0L300.3 482.3L300.7 480.4L301.2 479.1L301.6 477.8L302.1 477.1L302.5 475.4L302.9 472.9L303.4 471.6L303.8 470.9L304.3 470.0L304.7 468.8L305.1 467.5L305.6 465.8L306.0 464.1L306.5 462.9L306.9 461.7L307.4 459.9L307.8 457.1L308.2 455.1L308.7 454.3L309.1 452.0L309.6 451.9L310.0 452.6L310.4 451.0L310.9 449.0L311.3 447.8L311.7 444.9L312.2 443.3L312.6 441.6L313.0 439.5L313.4 439.4L313.9 438.2L314.3 437.1L314.7 435.8L315.1 433.5L315.5 431.1L315.9 429.6L316.3 428.7L316.8 427.6L317.2 425.0L317.6 424.4L318.0 423.3L318.4 420.9L318.8 419.7L319.2 418.1L319.6 417.5L320.0 416.1L320.4 413.3L320.8 411.9L321.1 410.7L321.5 408.7L321.9 408.5L322.3 408.8L322.7 405.8L323.0 404.6L323.4 405.3L323.8 401.9L324.1 399.5L324.5 398.8L324.9 397.6L325.2 394.4L325.6 392.8L326.0 393.1L326.3 391.5L326.7 390.9L327.0 387.6L327.4 385.5L327.8 385.6L328.1 384.5L328.5 383.8L328.8 382.5L329.2 379.8L329.5 378.3L329.8 376.8L330.2 375.4L330.5 374.3L330.9 372.2L331.2 371.0L331.6 368.6L331.9 366.8L332.2 365.6L332.6 365.0L332.9 365.1L333.2 362.1L333.6 358.4L333.9 358.0L334.2 357.6L334.5 355.4L334.9 355.8L335.2 354.7L335.5 351.0L335.8 349.7L336.2 349.0L336.5 348.8L336.8 347.3L337.1 344.0L337.4 342.0L337.8 342.6L338.1 340.3L338.4 337.6L338.8 338.1L339.2 336.8L339.6 334.5L340.0 332.3L340.4 331.1L340.8 330.6L341.3 329.2L341.7 328.1L342.1 326.6L342.5 325.3L342.9 323.8L343.3 322.2L343.7 320.4L344.1 319.5L344.5 319.1L344.9 316.9L345.3 314.0L345.6 312.3L346.0 309.5L346.4 307.7L346.8 308.3L347.2 306.5L347.6 305.1L347.9 304.6L348.3 304.2L348.7 302.4L349.1 298.7L349.4 295.7L349.8 295.2L350.2 295.8L350.5 295.2L350.9 293.3L351.3 290.6L351.6 288.7L352.0 287.5L352.4 286.6L352.7 285.6L353.1 284.2L353.4 283.7L353.8 282.2L354.1 279.8L354.5 278.9L354.8 277.7L355.2 275.2L355.6 272.0L355.9 270.2L356.3 270.0L356.6 269.8L357.0 268.3L357.3 267.0L357.6 266.1L358.0 263.7L358.3 263.0L358.7 263.8L359.0 261.2L359.3 257.8L359.6 256.0L359.9 253.8L360.3 252.2L360.6 251.1L360.9 249.5L361.2 248.4L361.6 248.3L361.9 246.5L362.2 243.9L362.6 242.8L362.9 242.1L363.3 241.6L363.6 238.1L364.0 235.4L364.3 235.1L364.7 233.8L365.0 232.5L365.4 231.5L365.7 229.0L366.1 227.3L366.5 226.9L366.8 225.6L367.2 223.9L367.5 222.7L367.9 221.1L368.3 220.3L368.7 218.1L369.1 216.1L369.5 215.1L369.9 213.6L370.3 213.1L370.7 211.8L371.2 210.3L371.6 208.9L372.1 207.4L372.6 205.3L373.2 204.1L373.7 203.5L374.3 202.2L375.0 200.4L375.6 198.6L376.3 195.8L377.0 193.8L377.7 193.6L378.4 193.5L379.2 193.1L380.0 191.3L380.8 188.5L381.6 187.5L382.5 187.6L383.4 186.6L384.3 184.3L385.3 182.0L386.2 180.7L387.3 179.6L388.3 179.8L389.4 179.7L390.5 179.4L391.6 179.3L392.8 177.7L394.1 175.4L395.4 174.4L396.7 174.5L398.1 172.6L399.5 171.1L401.0 171.2L402.4 172.7L403.8 172.9L405.2 171.4L406.6 172.2L407.9 174.1L409.1 174.1L410.2 175.9L411.3 177.2L412.4 177.7L413.3 179.8L414.3 179.8L415.1 180.5L415.9 182.2L416.6 183.4L417.3 185.2L417.9 186.8L418.6 186.6L419.1 188.0L419.7 189.7L420.3 190.9L420.8 193.2L421.4 194.7L421.9 196.6L422.5 198.0L423.0 198.4L423.5 201.0L424.0 203.2L424.5 203.4L425.0 204.4L425.5 205.6L425.9 207.1L426.4 208.2L426.8 210.7L427.2 213.6L427.6 212.4L428.1 212.4L428.5 215.3L428.9 216.9L429.3 217.0L429.7 219.3L430.1 221.4L430.5 222.9L430.8 225.4L431.2 227.4L431.6 227.9L432.0 229.6L432.3 230.8L432.7 232.1L433.0 235.0L433.4 235.8L433.7 235.9L434.1 238.1L434.4 240.8L434.7 240.1L435.0 239.4L435.4 241.5L435.7 244.1L436.0 246.4L436.3 248.6L436.7 249.8L437.0 250.8L437.3 252.7L437.6 254.1L438.0 254.0L438.3 254.2L438.6 257.0L439.0 259.7L439.3 259.7L439.6 260.9L440.0 263.3L440.4 265.8L440.7 266.1L441.1 266.8L441.4 270.1L441.8 272.2L442.2 273.7L442.5 276.1L442.9 276.5L443.3 276.3L443.7 279.0L444.0 281.9L444.4 282.9L444.8 283.1L445.1 283.5L445.5 285.6L445.9 288.1L446.2 288.4L446.6 289.3L447.0 290.8L447.3 293.0L447.7 295.0L448.0 296.9L448.4 299.3L448.7 300.2L449.1 301.5L449.4 303.5L449.8 305.1L450.1 305.6L450.4 306.5L450.8 309.5L451.1 311.0L451.4 311.0L451.8 312.2L452.1 315.4L452.4 316.5L452.8 316.0L453.1 318.3L453.4 320.0L453.8 319.8L454.1 320.5L454.4 323.0L454.8 325.1L455.1 327.5L455.4 329.0L455.8 328.6L456.1 329.9L456.5 331.5L456.8 334.2L457.2 336.0L457.5 337.6L457.9 340.0L458.2 341.8L458.6 342.8L458.9 343.5L459.3 343.6L459.7 344.2L460.0 346.6L460.4 349.1L460.8 350.9L461.1 352.1L461.5 353.2L461.9 353.3L462.2 355.2L462.6 358.4L463.0 359.8L463.3 361.5L463.7 362.7L464.1 362.9L464.4 364.4L464.8 365.9L465.1 367.1L465.5 368.6L465.8 370.0L466.2 370.9L466.5 373.9L466.9 376.6L467.2 376.9L467.5 377.4L467.9 378.0L468.2 380.2L468.6 382.3L468.9 384.6L469.3 385.4L469.6 385.8L469.9 389.2L470.3 390.1L470.6 392.1L471.0 394.6L471.3 395.4L471.6 395.6L472.0 397.1L472.3 399.8L472.7 400.7L473.0 402.6L473.4 404.2L473.7 403.0L474.1 404.5L474.4 408.6L474.8 409.4L475.1 410.2L475.5 411.7L475.8 412.6L476.2 412.7L476.6 413.0L476.9 416.0L477.3 418.3L477.6 418.7L478.0 421.0L478.4 423.9L478.8 424.3L479.1 424.2L479.5 426.6L479.8 429.1L480.2 430.6L480.6 433.2L480.9 433.9L481.3 434.4L481.6 436.6L482.0 438.1L482.3 437.7L482.7 439.7L483.0 442.7L483.4 443.4L483.7 445.0L484.0 446.6L484.3 447.4L484.6 449.7L484.9 450.5L485.2 450.3L485.5 452.6L485.8 454.3L486.1 456.4L486.4 458.3L486.7 458.0L487.0 459.7L487.3 460.9L487.6 463.5L488.0 466.4L488.3 467.4L488.7 469.2L489.1 470.3L489.6 470.7L490.1 472.5L490.7 474.4L491.2 474.7L491.9 475.0L492.5 477.7L493.3 480.2L494.0 480.3L494.9 480.5L495.8 482.5L496.8 484.8L497.8 485.9L499.0 486.9L500.2 486.5L501.4 487.5L502.8 487.5L504.1 486.2L505.5 487.1L506.9 488.2L508.1 488.4L509.3 487.0L510.5 485.3L511.5 484.4L512.4 483.2L513.3 481.6L514.1 480.8L514.9 479.5L515.6 477.7L516.3 477.5L516.9 476.4L517.5 473.9L518.1 472.8L518.7 471.7L519.2 470.3L519.7 468.4L520.2 466.0L520.7 464.2L521.1 464.1L521.6 464.5L522.0 463.1L522.4 461.0L522.8 458.8L523.2 457.0L523.5 455.8L523.9 454.4L524.2 451.9L524.6 451.2L524.9 451.0L525.3 449.2L525.6 447.1L526.0 445.1L526.3 443.7L526.7 442.6L527.0 440.3L527.4 438.5L527.8 437.1L528.1 436.7L528.5 435.0L528.9 432.0L529.3 430.9L529.8 430.4L530.2 428.9L530.6 428.5L531.0 428.1L531.5 424.0L531.9 422.2L532.3 422.6L532.8 420.2L533.2 418.4L533.6 417.9L534.1 416.1L534.5 414.5L535.0 413.7L535.4 412.0L535.8 410.3L536.3 408.4L536.7 407.5L537.1 406.4L537.6 405.3L538.0 405.7L538.5 404.5L538.9 401.5L539.3 399.2L539.8 397.9L540.2 396.5L540.7 394.7L541.1 392.3L541.6 391.4L542.0 390.1L542.4 389.5L542.8 389.0L543.2 387.0L543.7 385.0L544.1 383.2L544.5 382.5L544.8 381.2L545.2 379.1L545.6 378.8L546.0 377.5L546.4 374.6L546.7 372.9L547.1 372.5L547.4 370.8L547.8 368.2L548.2 367.8L548.5 367.4L548.9 366.2L549.2 363.4L549.5 361.3L549.9 360.0L550.2 358.6L550.5 356.4L550.9 354.6L551.2 354.8L551.5 353.6L551.8 349.9L552.2 349.0L552.5 349.3L552.8 347.0L553.1 345.3L553.4 343.8L553.7 343.1L554.0 341.8L554.3 338.5L554.7 336.5L555.0 337.2L555.3 337.0L555.6 335.0L555.9 332.3L556.3 330.7L556.7 330.4L557.1 328.7L557.6 327.1L558.0 326.3L558.5 325.1L559.0 323.2L559.5 321.5L560.0 318.9L560.4 317.0L560.9 316.9L561.4 316.8L561.8 315.0L562.3 313.1L562.7 311.6L563.2 308.8L563.6 307.7L564.1 307.2L564.5 304.9L565.0 302.6L565.4 301.7L565.8 300.5L566.2 299.4L566.7 297.4L567.1 296.2L567.5 295.2L567.9 293.5L568.4 291.4L568.8 290.4L569.2 290.1L569.6 289.4L570.0 286.7L570.4 282.7L570.8 282.8L571.2 283.2L571.6 280.1L572.1 278.4L572.5 278.7L572.9 277.8L573.3 275.9L573.7 272.5L574.1 269.7L574.4 270.6L574.8 270.7L575.2 268.5L575.6 266.6L576.0 264.4L576.4 263.0L576.8 261.1L577.1 259.6L577.5 258.0L577.9 256.5L578.2 256.5L578.6 255.3L579.0 252.7L579.3 252.3L579.7 252.2L580.0 249.6L580.4 246.2L580.7 245.5L581.1 246.1L581.4 243.4L581.8 242.0L582.2 240.4L582.5 237.8L582.9 236.6L583.2 235.4L583.6 234.2L583.9 233.5L584.3 232.0L584.6 229.8L585.0 228.6L585.4 227.1L585.7 225.0L586.1 223.4L586.5 223.4L586.9 222.5L587.2 219.4L587.7 217.1L588.1 215.8L588.5 214.1L588.9 212.9L589.3 211.2L589.8 210.5L590.2 210.4L590.6 208.8L591.1 206.4L591.5 205.0L592.0 203.4L592.4 202.6L592.9 203.2L593.4 199.3L594.0 196.6L594.5 197.0L595.1 195.5L595.8 194.0L596.5 191.6L597.2 190.4L598.1 189.9L598.9 188.6L599.8 187.6L600.7 186.2L601.7 186.6L602.7 185.0L603.7 182.2L604.8 181.1L606.0 180.4L607.2 181.3L608.5 180.6L609.8 178.3L611.1 176.8L612.4 177.1L613.8 176.9L615.2 176.5L616.6 176.2L618.1 175.3L619.5 175.7L620.9 175.3L622.2 176.7L623.4 177.7L624.6 177.9L625.6 180.0L626.6 182.5L627.5 183.7L628.3 184.0L629.0 184.7L629.7 185.3L630.4 187.0L631.0 189.2L631.6 189.9L632.2 190.9L632.7 194.8L633.3 195.3L633.8 193.6L634.3 195.3L634.7 197.9L635.2 200.7L635.6 202.6L636.0 203.7L636.5 204.3L636.9 205.0L637.3 207.1L637.7 208.0L638.1 209.5L638.5 211.3L638.9 212.7L639.3 213.4L639.7 213.4L640.2 216.6L640.6 219.4L641.0 219.9L641.4 223.0L641.9 225.1L642.3 225.2L642.7 225.5L643.2 226.9L643.6 229.0L644.0 230.0L644.5 232.2L644.9 234.3L645.3 235.2L645.7 235.6L646.2 236.2L646.6 238.9L647.0 241.0L647.5 241.3L647.9 242.8L648.3 244.6L648.7 245.6L649.2 246.9L649.6 249.1L650.0 250.9L650.4 251.3L650.9 252.0L651.3 254.2L651.7 255.4L652.2 256.8L652.6 258.8L653.0 259.3L653.4 259.3L653.9 261.0L654.3 264.0L654.7 266.0L655.2 268.2L655.6 269.7L656.1 270.2L656.5 271.9L657.0 273.1L657.4 275.4L657.9 276.7L658.3 276.5L658.8 278.0L659.2 280.7L659.6 282.1L660.0 282.3L660.5 284.5L660.9 287.2L661.3 288.0L661.7 289.1L662.1 290.4L662.4 292.3L662.8 293.5L663.1 293.9L663.5 295.7L663.8 296.8L664.2 298.5L664.5 301.0L664.9 301.9L665.2 304.2L665.5 306.4L665.9 306.8L666.2 307.6L666.5 308.8L666.9 311.3L667.2 312.2L667.5 312.6L667.9 314.2L668.2 315.2L668.6 317.7L668.9 319.4L669.3 321.5L669.7 322.7L670.1 322.9L670.5 325.2L670.8 326.2L671.2 326.2L671.6 327.9L672.0 330.7L672.4 332.0L672.8 333.6L673.2 334.4L673.6 335.9L674.0 339.9L674.4 341.8L674.8 342.5L675.2 343.1L675.6 343.6L676.0 346.1L676.4 347.6L676.8 348.7L677.2 349.7L677.6 351.0L677.9 353.2L678.3 353.0L678.7 354.2L679.0 357.5L679.4 359.4L679.8 360.7L680.1 362.7L680.5 363.8L680.8 364.0L681.1 366.1L681.5 369.4L681.8 370.1L682.2 371.1L682.5 372.7L682.8 372.2L683.1 373.2L683.5 375.1L683.8 377.9L684.1 380.0L684.5 380.3L684.8 381.8L685.1 384.5L685.4 385.9L685.7 385.9L686.1 387.7L686.4 389.1L686.7 390.6L687.0 393.3L687.4 394.6L687.7 395.1L688.0 396.5L688.3 397.3L688.6 399.8L689.0 403.7L689.3 404.1L689.6 402.7L689.9 403.7L690.3 405.6L690.6 406.3L690.9 408.6L691.3 411.2L691.6 412.3L691.9 414.6L692.3 416.5L692.6 416.6L693.0 418.3L693.3 419.6L693.7 420.5L694.0 422.3L694.4 424.2L694.7 426.0L695.1 426.9L695.5 428.7L695.8 430.8L696.2 432.3L696.6 434.1L696.9 434.7L697.3 435.7L697.7 438.9L698.1 440.1L698.5 439.1L698.8 441.1L699.2 443.9L699.6 445.1L700.0 446.9L700.4 448.3L700.8 450.4L701.2 451.5L701.6 452.7L702.0 453.2L702.5 453.5L702.9 455.7L703.3 458.8L703.7 459.8L704.2 459.9L704.6 462.4L705.1 463.7L705.5 463.8L706.0 464.3L706.4 467.1L706.9 469.1L707.3 470.2L707.8 472.7L708.3 473.3L708.8 474.6L709.2 475.3L709.7 476.4L710.2 478.5L710.7 480.1L711.3 482.3L711.8 483.7L712.3 485.4L712.8 486.3L713.4 486.3L714.0 487.3L714.7 490.2L715.5 491.5L716.4 491.6L717.5 493.2L718.7 493.7L719.9 492.8L721.1 491.2L722.3 491.8L723.5 491.9L724.5 489.2L725.4 488.0L726.2 487.9L727.0 485.7L727.7 484.5L728.3 484.4L728.9 483.2L729.5 481.8L730.0 479.5L730.5 477.0L730.9 476.1L731.4 475.4L731.8 475.1L732.2 473.8L732.6 471.6L733.0 470.4L733.4 467.5L733.8 466.5L734.1 465.9L734.5 463.0L734.9 462.1L735.2 462.4L735.6 460.6L735.9 458.2L736.3 456.4L736.7 454.8L737.0 454.5L737.4 453.4L737.8 451.5L738.2 450.3L738.5 446.7L738.9 445.0L739.3 445.8L739.8 444.4L740.2 441.6L740.6 439.5L741.0 439.5L741.4 438.9L741.9 437.3L742.3 434.8L742.7 433.3L743.2 433.5L743.6 431.9L744.0 430.4L744.5 429.5L744.9 427.8L745.4 425.3L745.8 422.9L746.2 421.5L746.6 421.2L747.1 421.0L747.5 418.2L747.9 415.1L748.3 414.4L748.8 414.6L749.2 413.3L749.6 411.4L750.0 410.1L750.4 408.6L750.8 406.8L751.2 405.3L751.6 404.4L752.0 402.5L752.4 401.7L752.8 399.7L753.2 396.9L753.6 395.6L754.0 395.1L754.4 394.9L754.8 392.2L755.2 390.1L755.6 388.9L756.0 386.5L756.4 384.8L756.8 384.5L757.2 383.9L757.5 381.8L757.9 380.0L758.3 379.5L758.7 379.0L759.1 377.2L759.5 374.3L759.9 371.6L760.2 370.8L760.6 370.1L761.0 368.3L761.4 366.6L761.8 365.1L762.1 364.2L762.5 363.6L762.9 361.5L763.3 360.8L763.6 360.8L764.0 358.0L764.4 355.8L764.8 355.5L765.1 353.2L765.5 350.4L765.9 349.2L766.2 347.5L766.6 346.9L767.0 345.9L767.3 344.1L767.7 342.8L768.1 341.1L768.4 340.6L768.8 339.2L769.1 336.2L769.4 333.9L769.7 332.6L770.0 332.1L770.2 331.2L770.4 329.8L770.7 327.9L770.9 326.5L771.2 325.6L771.4 323.1L771.7 321.6L771.9 321.1L772.2 319.2L772.4 318.2L772.7 316.9L772.9 314.2L773.2 313.3L773.4 313.5L773.7 310.6L773.9 308.0L774.2 307.8L774.5 306.8L774.7 305.4L775.0 304.4L775.3 301.1L775.5 299.2L775.8 297.8L776.1 295.3L776.3 294.2L776.6 293.6L776.9 291.8L777.2 290.1L777.4 288.7L777.7 288.4L778.0 287.6L778.3 284.8L778.6 282.9L778.9 281.1L779.1 281.2L779.4 280.3L779.7 277.2L780.0 275.3L780.3 274.4L780.7 274.4L781.0 273.0L781.3 270.7L781.7 270.0L782.0 269.8L782.4 268.0L782.8 264.4L783.1 261.8L783.5 262.2L783.9 261.6L784.3 257.9L784.7 255.8L785.1 255.3L785.5 254.0L785.9 253.2L786.3 252.5L786.8 251.5L787.2 248.4L787.7 246.3L788.1 245.9L788.6 243.6L789.1 242.9L789.6 241.3L790.1 238.5L790.7 239.0L791.2 238.8L791.8 236.8L792.4 236.1L793.0 233.3L793.6 232.0L794.2 231.5L794.9 229.6L795.5 228.7L796.2 227.5L796.9 225.4L797.6 223.6L798.3 222.6L799.0 222.0L799.7 219.2L800.4 218.1L801.2 217.6L801.9 216.8L802.6 216.4L803.3 214.8L804.0 213.0L804.7 211.7L805.4 210.8L806.1 208.6L806.8 207.2L807.4 204.0L808.1 201.4L808.7 200.6L809.3 200.2L810.0 199.8L810.6 198.9L811.2 197.9L811.9 196.9L812.6 194.8L813.3 193.0L814.1 191.8L814.9 189.5L815.7 187.5L816.7 187.0L817.7 186.5L818.7 185.1L819.8 184.1L821.0 182.8L822.1 184.3L823.4 184.2L824.7 180.8L826.0 180.1L827.4 180.6L828.8 179.6L830.2 180.4L831.5 181.1L832.9 181.3L834.1 182.4L835.3 182.3L836.5 185.7L837.6 186.8L838.7 184.7L839.7 185.9L840.6 187.4L841.5 189.6L842.4 191.8L843.2 191.6L843.9 193.8L844.6 195.7L845.2 195.0L845.9 197.3L846.5 199.9L847.1 199.9L847.7 200.1L848.3 202.1L848.8 203.7L849.4 205.6L850.0 207.6L850.6 207.8L851.2 208.3L851.7 210.3L852.3 213.3L852.9 214.4L853.4 215.4L853.9 216.8L854.5 218.0L855.0 219.5L855.5 220.9L856.0 222.1L856.5 222.7L857.0 226.0L857.5 228.5L858.0 227.9L858.5 229.4L858.9 231.6L859.4 233.1L859.8 233.8L860.3 234.3L860.7 236.3L861.2 237.3L861.6 238.3L862.0 241.5L862.4 243.7L862.8 243.6L863.2 244.0L863.5 246.4L863.9 249.7L864.3 250.3L864.6 250.1L865.0 252.1L865.3 254.4L865.6 254.6L866.0 257.4L866.3 260.3L866.7 259.7L867.0 260.2L867.4 262.8L867.7 265.6L868.1 266.9L868.4 268.0L868.8 268.8L869.1 271.3L869.5 272.8L869.9 273.0L870.2 274.9L870.6 276.1L871.0 277.8L871.3 280.4L871.7 279.9L872.1 280.2L872.4 284.0L872.8 286.5L873.2 286.8L873.5 287.8L873.9 289.7L874.3 290.8L874.6 291.7L875.0 293.7L875.4 296.4L875.7 298.2L876.1 299.1L876.5 299.6L876.8 301.6L877.2 305.2L877.5 305.7L877.9 304.9L878.3 307.7L878.6 308.5L879.0 307.1L879.4 310.0L879.7 314.0L880.1 315.7L880.5 316.9L880.8 318.2L881.2 318.5L881.6 320.0L881.9 321.2L882.3 320.9L882.7 322.9L883.0 324.5L883.4 325.4L883.8 327.3L884.1 329.2L884.5 331.2L884.9 332.2L885.2 333.2L885.6 335.2L886.0 337.2L886.4 339.0L886.7 340.9L887.1 342.2L887.5 343.4L887.8 345.2L888.2 346.3L888.6 347.4L888.9 348.3L889.3 349.8L889.6 352.5L890.0 353.4L890.3 355.1L890.6 356.6L890.9 357.9L891.2 360.8L891.6 361.8L891.8 361.9L892.1 363.5L892.4 365.0L892.7 365.5L893.0 368.0L893.2 368.8L893.5 370.1L893.8 372.4L894.1 373.9L894.4 375.5L894.6 377.6L894.9 379.1L895.2 377.8L895.5 381.6L895.9 384.5L896.2 384.0L896.5 385.4L896.9 386.7L897.3 388.4L897.7 389.5L898.1 392.2L898.5 393.7L899.0 394.1L899.4 396.9L899.9 397.8L900.4 398.9L900.9 400.1L901.4 400.3L901.9 401.5L902.4 404.3L902.9 406.9L903.5 407.0L904.0 408.4L904.6 409.8L905.1 410.6L905.6 413.1L906.2 413.0L906.7 414.3L907.2 416.9L907.7 416.9L908.2 419.0L908.7 421.6L909.2 422.8L909.7 423.8L910.1 424.6L910.6 425.3L911.0 427.0L911.4 428.7L911.8 430.0L912.2 432.4L912.6 434.6L912.9 436.1L913.3 437.2L913.6 438.2L914.0 440.1L914.3 442.5L914.7 443.1L915.0 443.5L915.4 444.6L915.7 446.1L916.0 448.0L916.4 450.9L916.7 453.5L917.1 452.8L917.5 453.9L917.8 456.1L918.2 455.9L918.6 457.6L919.0 459.8L919.4 461.3L919.8 463.5L920.2 464.3L920.7 466.4L921.1 468.4L921.5 468.3L921.9 468.6L922.4 472.0L922.8 474.0L923.3 474.0L923.7 476.1L924.2 478.1L924.7 478.4L925.3 477.6L925.9 479.9L926.5 481.9L927.3 482.9L928.0 486.6L928.9 487.6L929.8 487.9L930.7 488.7L931.7 491.2L932.8 492.6L933.9 491.5L935.0 491.9L936.1 491.1L937.1 491.3L938.0 490.6L938.6 488.1L939.2 486.6L939.7 485.6L940.1 484.6L940.4 483.4L940.8 481.3L941.1 479.4L941.5 479.9L941.8 478.6L942.2 476.7L942.6 475.1L943.1 473.0L943.5 471.4L944.0 468.5L944.5 467.1L945.0 467.6L945.5 467.4L946.0 466.1L946.5 463.5L947.1 461.1L947.6 459.3L948.1 458.3L948.6 458.2L949.2 456.8L949.7 454.3L950.1 453.0L950.6 452.1L951.1 450.8L951.5 449.2L952.0 447.5L952.4 445.8L952.9 443.6L953.3 441.0L953.7 440.3L954.2 440.6L954.6 438.4L955.0 437.9L955.5 437.9L955.9 436.6L956.3 434.2L956.7 431.5L957.2 430.4L957.6 429.7L958.0 429.1L958.4 426.4L958.9 423.8L959.3 421.7L959.7 420.2L960.1 420.7L960.6 419.9L961.0 419.4L961.4 418.0L961.8 414.7L962.2 412.3L962.7 411.3L963.1 411.5L963.5 409.0L964.0 405.9L964.4 405.3L964.9 404.3L965.3 403.4L965.8 401.9L966.3 399.9L966.8 398.8L967.3 397.5L967.8 397.0L968.4 394.6L968.9 391.2L969.4 389.6L969.9 389.2L970.4 388.8L970.9 387.9L971.4 386.7L971.9 385.0L972.4 382.2L972.8 380.2L973.2 380.2L973.7 378.4L974.1 376.4L974.5 375.4L974.9 374.6L975.3 372.9L975.6 370.0L976.0 368.9L976.4 368.4L976.7 367.7L977.1 366.0L977.4 363.9L977.8 362.5L978.1 360.8L978.5 361.1L978.8 358.3L979.1 355.8L979.4 355.5L979.8 353.7L980.1 351.7L980.4 350.4L980.7 349.4L981.0 348.1L981.3 348.1L981.6 345.4L981.9 342.0L982.2 342.1L982.5 343.0L982.8 340.8L983.1 336.7L983.5 334.2L983.8 334.7L984.2 335.5L984.6 333.3L985.0 329.8L985.5 329.2L985.9 327.8L986.3 325.1L986.7 324.1L987.1 322.7L987.5 322.1L987.9 320.4L988.4 318.7L988.8 318.6L989.2 317.8L989.6 316.5L989.9 314.1L990.3 310.6L990.7 309.5L991.1 309.4L991.5 308.0L991.9 306.1L992.3 304.8L992.7 302.9L993.0 301.7L993.4 302.1L993.8 300.2L994.2 297.6L994.5 296.5" stroke="#0000ff" stroke-width="4.2"/>
<path d="M116.5 357.0L116.9 355.4L117.4 353.0L117.8 352.4L118.2 353.2L118.6 350.9L119.0 349.4L119.4 348.8L119.8 347.3L120.2 346.4L120.6 343.1L121.0 341.2L121.4 340.5L121.8 339.0L122.3 337.5L122.7 337.0L123.1 337.1L123.5 334.1L123.9 331.7L124.3 330.5L124.8 328.9L125.4 328.1L126.0 325.8L126.7 322.7L127.4 323.0L128.1 323.0L128.8 320.5L129.6 318.4L130.3 316.3L130.9 315.3L131.6 313.7L132.3 312.7L132.9 312.9L133.6 310.9L134.2 310.1L134.8 309.8L135.4 307.8L136.0 305.3L136.7 303.3L137.3 301.7L137.8 299.4L138.4 298.7L139.0 299.3L139.6 296.8L140.1 295.1L140.7 294.6L141.2 293.1L141.7 292.4L142.2 291.6L142.7 289.1L143.2 287.5L143.7 286.3L144.2 282.4L144.7 282.8L145.2 283.4L145.7 280.2L146.2 279.7L146.6 278.9L147.1 276.0L147.6 274.4L148.1 273.7L148.6 272.0L149.1 268.5L149.6 267.4L150.1 267.0L150.6 264.7L151.1 264.0L151.6 265.0L152.1 262.7L152.6 259.9L153.1 258.2L153.5 255.4L154.0 254.8L154.5 255.3L155.0 254.3L155.5 252.4L156.0 251.7L156.5 250.5L157.0 247.7L157.5 245.2L158.0 244.0L158.4 243.5L158.9 242.1L159.3 240.2L159.8 238.6L160.2 236.7L160.6 234.8L161.0 233.4L161.4 234.2L161.8 234.1L162.3 232.4L162.7 230.2L163.1 227.7L163.5 226.8L164.0 225.1L164.5 224.0L165.1 223.0L165.7 221.4L166.5 219.5L167.4 219.2L168.4 219.0L169.6 217.4L170.9 216.1L172.3 214.6L173.8 215.3L175.2 214.3L176.7 214.4L178.2 215.0L179.7 214.6L181.2 214.4L182.7 213.5L184.2 213.9L185.7 214.5L187.1 213.8L188.6 213.5L190.1 214.5L191.5 215.0L192.9 214.6L194.2 214.7L195.4 215.6L196.6 216.2L197.6 218.6L198.6 220.8L199.5 220.5L200.4 220.7L201.2 222.6L202.0 223.3L202.7 224.4L203.4 225.6L204.1 227.7L204.7 229.1L205.3 231.1L205.9 231.7L206.5 232.5L207.1 235.8L207.6 236.3L208.2 235.9L208.7 238.0L209.2 239.7L209.7 241.8L210.2 244.2L210.7 244.8L211.2 246.2L211.7 248.2L212.2 249.6L212.6 250.8L213.1 252.6L213.5 253.2L213.9 255.2L214.3 258.2L214.7 259.7L215.2 260.0L215.6 261.1L216.0 261.7L216.4 262.0L216.8 263.6L217.2 265.2L217.7 267.9L218.1 269.2L218.5 269.5L218.9 270.4L219.3 271.8L219.7 273.2L220.2 275.8L220.6 278.3L221.0 279.8L221.5 282.4L222.0 283.4L222.5 284.1L223.1 285.2L223.7 286.0L224.4 285.6L225.1 287.4L225.8 289.8L226.5 290.2L227.2 291.7L227.9 293.7L228.6 296.0L229.1 296.7L229.7 296.6L230.2 299.6L230.6 302.3L231.0 303.6L231.3 304.4L231.6 304.3L231.9 306.9L232.2 310.4L232.4 310.4L232.7 311.3L232.9 314.0L233.2 317.0L233.4 318.6L233.6 318.7L233.9 319.1L234.1 319.8L234.4 321.4L234.6 322.7L234.9 324.7L235.2 326.8L235.5 327.6L235.8 328.3L236.1 330.0L236.5 331.9L236.8 333.6L237.2 334.6L237.6 336.3L237.9 338.3L238.3 340.7L238.7 341.7L239.1 343.2L239.5 347.4L240.0 347.3L240.4 348.1L240.8 350.4L241.3 349.5L241.7 349.6L242.2 352.7L242.6 354.8L243.1 356.1L243.6 357.7L244.0 359.5L244.5 360.5L245.0 360.0L245.4 361.1L245.9 363.3L246.3 364.6L246.8 366.0L247.3 367.9L247.7 369.2L248.1 370.7L248.6 372.1L249.0 374.3L249.4 376.1L249.8 377.4L250.3 377.7L250.7 378.6L251.1 380.7L251.5 380.7L251.9 384.0L252.3 385.9L252.8 386.5L253.2 389.4L253.7 391.1L254.2 391.6L254.7 390.3L255.3 392.4L255.9 395.6L256.6 397.0L257.3 398.3L258.0 400.1L258.7 401.9L259.4 402.0L260.1 404.7L260.7 405.9L261.3 403.9L261.9 405.8L262.4 409.2L262.8 411.0L263.3 411.6L263.7 412.6L264.1 413.9L264.5 415.0L264.9 417.6L265.3 418.9L265.7 420.4L266.1 422.1L266.5 423.1L266.9 424.4L267.3 426.7L267.7 428.4L268.2 428.4L268.6 429.9L269.1 432.8L269.6 434.3L270.1 434.0L270.6 434.7L271.1 436.1L271.7 439.0L272.3 441.3L272.9 442.3L273.5 444.2L274.1 444.7L274.7 446.2L275.4 447.7L276.0 448.5L276.7 448.4L277.4 449.4L278.1 451.9L278.8 452.8L279.5 454.5L280.2 455.5L281.0 456.4L281.8 456.7L282.6 457.9L283.6 460.4L284.7 462.8L285.8 464.2L287.1 463.8L288.4 461.7L289.7 460.7L290.9 461.5L292.1 462.0L293.1 462.7L294.1 460.7L295.0 458.9L295.8 457.6L296.5 456.1L297.3 455.2L298.0 454.4L298.7 452.5L299.4 450.2L300.1 450.2L300.8 449.1L301.5 446.0L302.2 446.7L302.9 446.0L303.5 442.8L304.2 440.4L304.8 438.4L305.5 439.1L306.1 438.2L306.7 436.7L307.3 434.8L307.8 433.1L308.4 432.7L309.0 430.4L309.5 427.6L310.0 427.5L310.5 427.5L311.0 425.1L311.5 424.2L312.0 422.1L312.5 421.1L313.0 421.0L313.5 419.0L314.0 417.4L314.4 415.0L314.9 413.1L315.4 412.5L315.8 410.8L316.3 410.0L316.8 409.6L317.2 408.2L317.7 405.1L318.2 403.7L318.7 403.1L319.1 399.9L319.6 398.6L320.1 398.8L320.5 398.0L321.0 395.8L321.5 394.8L321.9 393.9L322.4 392.5L322.8 391.0L323.3 389.0L323.8 387.2L324.2 384.5L324.7 382.6L325.1 380.5L325.6 379.1L326.0 379.4L326.5 377.5L326.9 375.6L327.4 375.5L327.8 374.2L328.3 372.0L328.7 372.2L329.2 371.0L329.6 368.9L330.0 367.5L330.5 365.8L330.9 364.9L331.4 362.9L331.8 361.2L332.2 359.5L332.7 357.2L333.1 356.6L333.5 355.0L334.0 351.1L334.4 350.0L334.8 351.4L335.2 349.4L335.7 347.5L336.1 346.5L336.5 343.5L336.9 342.1L337.4 340.0L337.8 339.7L338.2 339.7L338.6 337.6L339.0 336.5L339.3 333.6L339.7 331.9L340.1 332.4L340.4 331.8L340.8 329.2L341.2 326.6L341.5 325.4L341.9 323.5L342.3 322.3L342.7 320.6L343.0 318.4L343.4 318.8L343.8 317.9L344.2 315.3L344.6 314.0L345.0 312.8L345.4 311.4L345.8 311.0L346.2 309.3L346.6 305.8L347.0 304.7L347.4 304.0L347.8 303.1L348.3 302.9L348.7 300.6L349.1 298.8L349.6 296.3L350.0 293.2L350.4 292.6L350.9 292.7L351.3 292.6L351.8 290.4L352.2 287.3L352.7 285.7L353.2 284.4L353.6 283.8L354.1 281.8L354.6 280.9L355.1 279.5L355.6 279.2L356.1 278.7L356.7 275.7L357.2 273.1L357.7 271.9L358.2 270.3L358.8 269.3L359.3 268.8L359.8 267.0L360.4 266.4L360.9 265.5L361.4 264.8L362.0 263.5L362.5 261.7L363.0 259.0L363.6 256.2L364.1 255.8L364.7 255.5L365.2 253.1L365.8 251.5L366.3 251.1L366.8 250.4L367.4 247.9L367.9 244.9L368.5 242.5L369.0 241.7L369.5 241.5L370.0 239.5L370.5 239.1L371.0 240.0L371.5 237.2L372.0 235.0L372.4 234.0L372.9 232.5L373.3 231.3L373.8 229.3L374.3 228.5L374.7 227.6L375.2 225.2L375.7 223.6L376.2 222.1L376.8 220.3L377.4 219.8L378.0 218.9L378.7 216.0L379.5 214.9L380.5 214.1L381.6 212.9L382.8 213.6L384.2 211.8L385.6 210.1L387.0 211.5L388.5 212.2L390.0 209.8L391.5 210.1L393.0 211.0L394.5 209.3L395.9 209.8L397.4 210.1L398.9 209.8L400.4 210.4L401.9 212.2L403.3 212.9L404.7 211.7L406.0 211.6L407.2 212.5L408.3 213.7L409.3 214.1L410.2 215.2L411.1 216.4L411.9 216.8L412.6 218.6L413.3 221.1L413.9 223.1L414.4 221.6L414.9 223.3L415.4 226.9L415.9 227.5L416.3 230.0L416.8 230.8L417.2 230.4L417.7 230.9L418.1 232.2L418.6 235.7L419.0 237.4L419.5 237.5L420.0 239.8L420.5 241.2L421.0 241.8L421.5 243.3L422.0 245.6L422.6 247.1L423.1 247.8L423.6 249.6L424.2 250.0L424.7 251.4L425.2 252.8L425.8 253.5L426.3 255.9L426.8 258.2L427.3 259.8L427.8 261.9L428.3 263.6L428.8 264.6L429.3 265.6L429.8 266.1L430.3 269.1L430.8 269.8L431.3 270.9L431.8 272.9L432.3 274.0L432.8 275.0L433.2 276.3L433.7 278.9L434.2 278.4L434.7 279.1L435.1 282.6L435.6 285.2L436.1 286.4L436.5 286.7L437.0 287.8L437.5 288.7L437.9 289.5L438.4 292.0L438.8 294.2L439.3 295.9L439.8 297.5L440.2 298.9L440.7 300.1L441.1 301.5L441.6 304.9L442.0 305.1L442.5 304.8L442.9 306.7L443.3 308.4L443.8 310.5L444.2 311.0L444.7 312.2L445.1 314.4L445.5 315.6L446.0 317.1L446.4 319.7L446.8 321.3L447.3 321.5L447.7 322.7L448.2 325.8L448.6 326.6L449.0 327.4L449.5 328.8L449.9 328.2L450.4 329.6L450.8 332.5L451.3 334.3L451.7 334.9L452.2 336.0L452.6 337.2L453.1 338.4L453.5 340.1L453.9 340.5L454.4 342.7L454.8 346.2L455.2 347.4L455.7 349.3L456.1 350.2L456.6 351.0L457.0 350.9L457.5 352.5L457.9 355.5L458.4 357.3L458.9 359.6L459.4 360.4L459.9 360.3L460.4 362.1L461.0 365.0L461.6 366.8L462.2 367.1L462.9 367.1L463.6 368.6L464.4 369.8L465.1 369.7L465.9 372.1L466.6 375.3L467.2 376.9L467.8 377.3L468.4 378.1L468.9 379.3L469.4 379.6L469.8 382.3L470.2 383.5L470.7 384.3L471.1 388.9L471.5 391.5L471.9 391.7L472.2 392.7L472.6 393.5L473.0 394.0L473.4 397.1L473.8 398.9L474.2 398.4L474.6 400.5L475.0 402.3L475.5 404.2L475.9 405.2L476.4 405.1L476.9 406.7L477.4 409.9L478.0 412.2L478.6 412.6L479.2 413.4L479.8 414.8L480.4 415.4L481.0 416.9L481.7 418.6L482.4 419.7L483.1 421.4L483.7 422.8L484.5 423.8L485.2 425.6L485.9 427.5L486.6 427.6L487.3 429.0L488.0 430.6L488.8 431.9L489.5 434.1L490.2 434.7L490.9 435.4L491.6 437.2L492.3 438.5L493.0 441.3L493.7 442.9L494.5 441.8L495.3 442.9L496.1 444.5L497.1 447.4L498.1 448.4L499.2 446.8L500.3 448.8L501.5 450.1L502.8 450.0L504.1 450.8L505.4 450.9L506.8 450.9L508.2 449.6L509.5 449.3L510.7 450.7L511.9 451.3L512.9 449.9L513.9 448.0L514.8 446.2L515.6 445.5L516.3 446.4L517.0 444.2L517.7 440.9L518.3 439.4L518.9 439.4L519.4 437.0L520.0 435.5L520.5 434.2L521.0 431.3L521.5 430.8L521.9 430.4L522.3 429.5L522.8 428.6L523.2 425.7L523.6 423.2L524.0 423.2L524.4 421.9L524.8 420.7L525.2 419.1L525.6 416.6L526.0 413.5L526.4 410.9L526.9 411.6L527.3 410.8L527.8 409.0L528.3 408.9L528.8 407.2L529.4 406.0L529.9 404.3L530.5 402.6L531.1 401.6L531.7 398.7L532.4 395.9L533.0 395.5L533.6 396.9L534.3 396.5L535.0 394.3L535.6 392.7L536.3 391.6L536.9 389.5L537.5 388.5L538.2 387.5L538.8 384.8L539.4 386.0L539.9 385.5L540.5 381.2L541.0 379.9L541.6 377.6L542.1 374.8L542.6 375.7L543.1 375.6L543.6 372.0L544.1 368.9L544.6 368.2L545.1 367.2L545.5 366.8L546.0 364.8L546.5 363.3L546.9 362.5L547.4 359.2L547.8 358.6L548.3 357.1L548.7 355.2L549.2 354.3L549.6 351.5L550.0 349.6L550.5 350.2L550.9 348.1L551.3 345.4L551.7 344.8L552.1 345.1L552.6 345.0L553.0 344.0L553.4 341.1L553.8 339.2L554.2 338.6L554.6 335.6L555.0 334.4L555.4 333.9L555.8 331.6L556.3 329.4L556.9 327.3L557.5 327.1L558.2 327.3L558.8 325.4L559.5 323.4L560.2 321.8L560.8 321.3L561.4 320.6L562.1 317.3L562.7 315.8L563.3 316.2L563.9 314.3L564.4 312.2L565.0 310.8L565.6 310.2L566.1 309.0L566.7 307.1L567.3 306.1L567.8 305.8L568.3 303.3L568.9 302.4L569.4 301.3L569.9 297.9L570.4 296.8L571.0 295.7L571.5 295.3L572.0 295.5L572.5 294.6L573.0 290.9L573.5 288.8L574.0 288.0L574.5 285.9L574.9 284.8L575.4 284.1L575.8 281.9L576.3 279.7L576.7 279.2L577.1 278.2L577.5 277.1L578.0 276.4L578.4 273.1L578.8 269.5L579.2 269.0L579.6 268.6L580.1 266.3L580.5 264.9L580.9 265.3L581.3 264.2L581.7 263.1L582.2 262.4L582.6 258.3L583.0 256.6L583.4 257.6L583.8 254.4L584.2 250.9L584.6 250.7L585.0 249.8L585.5 249.8L585.9 248.1L586.3 246.7L586.8 244.8L587.3 241.5L587.7 241.4L588.2 241.0L588.7 239.4L589.3 238.8L589.8 238.7L590.3 237.6L590.9 234.7L591.5 232.5L592.1 231.0L592.7 230.1L593.3 227.2L593.9 224.2L594.6 224.5L595.2 223.3L595.9 223.3L596.7 221.3L597.4 218.2L598.2 217.0L599.0 216.4L599.9 215.4L600.8 215.0L601.9 215.3L603.0 212.1L604.3 209.1L605.6 210.8L606.9 212.3L608.3 210.4L609.7 210.2L611.1 210.9L612.5 212.0L613.8 212.6L615.1 212.4L616.2 214.6L617.3 216.1L618.4 217.6L619.4 219.0L620.4 218.2L621.3 219.2L622.3 220.7L623.2 222.8L624.1 226.0L625.0 227.0L625.8 228.7L626.7 229.7L627.5 230.4L628.3 231.8L629.0 232.6L629.8 233.8L630.5 234.7L631.2 236.7L631.9 237.0L632.6 235.8L633.2 237.4L633.8 241.2L634.4 242.9L635.0 242.5L635.6 243.4L636.2 245.8L636.8 247.8L637.4 249.7L638.0 250.9L638.6 252.0L639.2 253.0L639.8 254.1L640.4 258.4L641.0 259.2L641.6 258.2L642.2 260.4L642.8 261.2L643.3 261.5L643.8 263.3L644.3 265.2L644.8 266.0L645.2 268.3L645.7 270.9L646.1 271.4L646.5 272.6L647.0 273.9L647.4 273.7L647.9 276.1L648.3 278.6L648.8 279.7L649.3 281.7L649.8 282.3L650.3 284.2L650.7 287.1L651.2 288.0L651.7 287.7L652.2 289.6L652.7 289.6L653.2 290.0L653.8 292.5L654.3 294.3L654.8 295.4L655.3 297.8L655.8 300.0L656.3 300.8L656.8 302.5L657.3 303.6L657.8 304.5L658.3 307.1L658.8 309.6L659.2 311.2L659.7 311.9L660.2 312.4L660.6 314.2L661.0 315.2L661.5 316.4L661.9 316.8L662.3 317.4L662.7 319.4L663.1 320.9L663.5 323.3L663.9 325.9L664.3 327.3L664.7 328.3L665.1 330.2L665.4 332.5L665.8 333.7L666.2 334.2L666.6 336.3L667.0 337.2L667.4 336.2L667.9 337.6L668.3 341.1L668.7 343.6L669.1 343.7L669.5 343.3L669.9 345.1L670.4 347.5L670.8 347.5L671.2 350.5L671.6 353.6L672.0 355.2L672.5 356.6L672.9 357.5L673.3 358.4L673.8 359.9L674.2 361.5L674.6 363.0L675.1 364.9L675.5 365.0L676.0 366.3L676.4 368.7L676.9 369.6L677.3 370.8L677.8 373.4L678.2 375.9L678.7 376.7L679.1 375.5L679.6 377.4L680.1 381.9L680.5 382.6L681.0 382.0L681.5 383.8L682.0 386.1L682.4 387.9L682.9 388.7L683.4 390.8L683.9 393.4L684.4 392.7L684.9 394.2L685.4 396.3L685.9 397.5L686.4 399.2L686.9 400.2L687.4 401.5L687.9 402.6L688.4 403.2L688.8 404.8L689.3 406.6L689.8 408.4L690.3 410.2L690.8 410.1L691.3 412.0L691.7 414.6L692.2 416.1L692.7 418.0L693.2 419.0L693.7 420.4L694.2 420.5L694.7 422.6L695.2 426.6L695.7 427.3L696.3 426.9L696.8 428.3L697.4 429.8L698.0 431.9L698.6 433.2L699.2 432.5L699.8 433.6L700.5 435.2L701.2 437.7L702.0 439.5L702.8 440.4L703.7 441.4L704.6 443.4L705.5 444.8L706.5 445.1L707.4 447.5L708.4 448.6L709.4 448.2L710.5 448.9L711.6 451.1L712.7 452.6L713.9 452.1L715.1 453.5L716.4 453.6L717.7 451.6L719.1 452.2L720.5 452.4L721.8 452.7L723.1 453.6L724.4 452.8L725.5 451.4L726.5 449.8L727.4 449.8L728.3 447.9L729.1 446.4L729.8 446.8L730.5 444.9L731.1 443.7L731.8 441.2L732.4 440.2L732.9 440.4L733.5 439.1L734.0 435.8L734.6 433.7L735.1 433.7L735.6 430.4L736.0 428.8L736.5 429.2L737.0 427.4L737.5 426.2L738.0 425.8L738.5 423.8L738.9 421.7L739.4 421.2L739.9 419.3L740.4 417.7L740.9 418.0L741.3 416.1L741.8 414.0L742.3 412.6L742.8 411.5L743.2 409.0L743.7 405.6L744.1 404.7L744.6 404.1L745.1 404.0L745.5 404.1L746.0 402.4L746.5 400.9L747.0 398.7L747.4 395.9L747.9 393.7L748.4 393.5L748.9 393.7L749.4 391.3L749.9 388.5L750.4 386.3L750.9 386.3L751.3 385.6L751.8 384.7L752.3 383.4L752.8 380.6L753.3 378.2L753.8 377.3L754.3 378.0L754.8 378.1L755.3 374.9L755.8 372.4L756.3 371.0L756.8 369.4L757.3 366.4L757.8 364.3L758.3 363.6L758.8 363.8L759.4 363.4L759.9 361.3L760.4 360.2L760.9 357.4L761.4 356.5L761.9 356.9L762.4 355.2L763.0 353.4L763.5 352.6L764.0 351.2L764.5 348.9L765.0 345.8L765.6 343.9L766.1 343.1L766.6 342.9L767.2 343.1L767.7 341.2L768.2 339.5L768.7 336.3L769.2 334.3L769.6 333.8L770.0 332.8L770.4 333.2L770.7 331.9L771.1 330.1L771.4 328.7L771.8 328.0L772.1 325.3L772.4 323.6L772.8 322.3L773.1 318.7L773.5 317.9L773.9 318.1L774.2 316.4L774.6 313.9L774.9 312.7L775.3 311.5L775.7 311.5L776.1 310.4L776.4 307.5L776.8 305.4L777.2 304.1L777.6 304.2L778.0 301.8L778.4 298.8L778.8 296.5L779.2 295.3L779.5 296.4L779.9 294.2L780.3 291.2L780.7 290.1L781.1 288.7L781.5 287.2L782.0 285.7L782.4 284.0L782.8 283.0L783.2 283.1L783.6 282.1L784.1 278.5L784.5 277.5L784.9 278.0L785.4 276.5L785.9 273.8L786.4 271.1L786.9 270.9L787.4 271.2L787.9 268.6L788.5 266.1L789.0 265.8L789.6 263.9L790.2 262.5L790.8 261.0L791.4 260.3L792.0 258.1L792.7 256.0L793.3 255.5L794.0 253.9L794.7 252.2L795.4 248.7L796.1 249.2L796.8 250.6L797.5 248.5L798.2 246.6L798.9 245.2L799.7 243.7L800.4 242.3L801.2 242.3L801.9 240.4L802.7 237.4L803.4 238.0L804.1 237.0L804.9 234.4L805.6 233.4L806.4 232.4L807.1 231.7L807.9 230.0L808.7 227.5L809.5 225.5L810.4 225.0L811.2 225.9L812.2 223.3L813.2 220.8L814.2 221.4L815.3 220.1L816.5 219.0L817.7 218.4L818.9 218.0L820.2 218.5L821.5 217.0L822.9 215.4L824.2 215.5L825.7 215.1L827.1 214.7L828.5 213.1L829.9 213.5L831.2 214.9L832.4 215.2L833.6 217.2L834.7 218.9L835.8 219.3L836.8 219.6L837.8 220.9L838.7 221.6L839.5 224.2L840.2 227.6L841.0 227.6L841.6 228.9L842.3 230.9L842.9 230.3L843.5 231.8L844.1 234.5L844.7 235.3L845.3 235.0L845.9 235.9L846.5 236.6L847.1 238.4L847.7 241.3L848.3 241.8L848.9 242.5L849.5 245.7L850.1 246.9L850.7 247.8L851.2 250.4L851.8 252.2L852.3 252.3L852.9 252.8L853.4 256.4L854.0 257.6L854.5 257.0L855.1 257.1L855.6 259.0L856.1 262.6L856.7 265.7L857.2 266.4L857.7 267.3L858.2 269.4L858.8 270.6L859.3 270.6L859.8 272.1L860.3 273.4L860.8 274.4L861.3 277.1L861.8 279.3L862.3 280.0L862.8 281.5L863.3 284.1L863.8 285.4L864.3 285.6L864.8 286.6L865.3 288.0L865.8 289.3L866.3 291.2L866.8 293.4L867.2 294.3L867.7 295.5L868.2 297.1L868.6 298.1L869.1 298.6L869.5 300.2L870.0 302.3L870.4 303.6L870.9 305.9L871.3 307.7L871.8 308.9L872.2 309.4L872.6 309.1L873.0 310.6L873.5 313.2L873.9 315.1L874.3 317.6L874.8 319.1L875.2 320.6L875.6 321.5L876.0 321.1L876.5 323.5L876.9 324.9L877.3 324.5L877.7 326.4L878.2 329.2L878.6 331.9L879.1 333.1L879.5 334.3L879.9 335.8L880.4 335.3L880.8 335.9L881.3 337.3L881.7 339.4L882.1 340.6L882.6 341.1L883.0 343.5L883.4 346.6L883.9 349.1L884.3 349.6L884.7 350.7L885.1 352.3L885.5 355.6L885.9 356.0L886.3 353.9L886.7 355.2L887.1 357.1L887.5 359.7L887.8 362.9L888.2 364.4L888.5 365.0L888.9 366.5L889.2 368.3L889.5 369.2L889.9 371.0L890.2 373.0L890.6 374.2L890.9 376.1L891.3 377.8L891.6 379.4L892.0 379.8L892.4 381.1L892.8 382.0L893.2 381.5L893.7 383.8L894.1 387.1L894.6 389.2L895.1 390.5L895.6 392.2L896.1 392.1L896.6 392.4L897.2 395.0L897.7 396.2L898.3 398.0L898.8 400.4L899.4 401.7L900.0 402.8L900.6 405.6L901.3 407.0L901.9 406.6L902.6 408.8L903.2 411.5L903.9 411.3L904.6 410.5L905.4 413.5L906.1 416.3L906.9 417.3L907.7 417.5L908.5 418.7L909.3 419.1L910.2 419.0L911.0 422.4L911.9 423.5L912.8 423.5L913.7 426.0L914.6 427.6L915.4 427.6L916.3 428.1L917.2 430.6L918.0 431.9L918.8 434.0L919.6 435.5L920.4 436.9L921.1 438.3L921.8 439.2L922.4 440.9L923.0 441.4L923.7 441.4L924.3 443.2L924.9 445.6L925.6 446.7L926.4 447.5L927.2 447.8L928.2 448.6L929.2 450.3L930.3 452.5L931.5 453.1L932.7 452.0L933.9 451.7L935.1 451.4L936.1 450.1L937.0 449.6L937.7 449.1L938.3 447.8L938.8 448.3L939.3 447.8L939.7 446.1L940.1 444.0L940.6 441.7L941.1 439.7L941.6 436.8L942.2 434.9L942.9 434.5L943.5 434.7L944.2 435.3L944.9 433.5L945.7 429.5L946.4 428.0L947.2 428.2L948.0 426.3L948.8 424.3L949.6 424.3L950.3 423.4L951.1 422.1L951.8 420.7L952.6 419.1L953.2 418.7L953.9 418.1L954.6 415.9L955.2 414.3L955.8 412.7L956.4 410.9L957.0 409.8L957.5 408.6L958.1 408.8L958.7 407.5L959.2 404.5L959.7 404.5L960.3 402.1L960.8 399.2L961.4 399.5L961.9 398.1L962.4 395.8L963.0 393.6L963.5 392.2L964.0 390.9L964.5 390.3L965.1 389.8L965.6 387.4L966.1 386.5L966.6 384.5L967.2 381.6L967.7 381.5L968.2 380.9L968.7 378.2L969.2 376.0L969.8 375.3L970.3 373.9L970.8 372.8L971.3 371.8L971.8 370.6L972.3 369.2L972.8 367.7L973.3 366.0L973.8 364.6L974.3 363.8L974.8 362.6L975.3 361.2L975.8 359.0L976.3 357.2L976.8 357.1L977.2 355.5L977.7 353.2L978.2 353.1L978.7 352.1L979.2 350.0L979.7 347.5L980.1 344.9L980.6 344.3L981.1 345.1L981.5 342.2L982.0 338.0L982.5 338.3L982.9 338.2L983.4 335.7L983.8 334.7L984.2 334.1L984.5 331.7L984.9 330.0L985.3 328.5L985.7 327.3L986.0 325.8L986.4 323.3L986.8 321.8L987.2 321.4L987.6 321.3L988.0 319.1L988.4 316.1L988.8 315.4L989.2 315.5L989.6 313.5L990.0 312.4L990.4 310.7L990.8 309.2L991.2 308.8L991.7 305.1L992.1 303.5L992.5 303.1L992.9 301.2L993.4 299.4L993.8 298.1L994.2 296.7L994.7 295.4" stroke="#008080" stroke-width="4.2"/>
<path d="M116.7 344.8L117.3 343.2L117.9 341.6L118.5 342.8L119.0 342.1L119.6 339.9L120.2 338.1L120.8 337.2L121.4 336.3L122.0 334.6L122.6 333.9L123.2 332.3L123.8 331.5L124.5 329.2L125.2 326.2L126.0 326.0L126.7 324.9L127.6 323.6L128.4 324.0L129.2 322.2L130.0 319.5L130.8 318.1L131.6 316.0L132.4 313.7L133.2 313.4L134.0 314.5L134.7 312.9L135.5 311.5L136.3 309.2L137.0 306.9L137.8 306.4L138.5 305.8L139.3 304.7L140.0 303.2L140.7 303.0L141.5 300.4L142.2 297.9L142.9 297.7L143.6 296.0L144.4 294.7L145.1 292.6L145.8 290.2L146.5 290.0L147.2 288.1L147.9 288.5L148.5 289.9L149.2 287.9L149.9 285.8L150.5 284.1L151.1 282.0L151.8 279.8L152.4 277.1L153.0 276.6L153.5 276.5L154.1 273.0L154.6 271.1L155.1 271.5L155.7 269.6L156.2 267.4L156.7 265.6L157.2 264.2L157.8 264.3L158.4 261.5L159.0 259.7L159.6 260.4L160.2 259.3L160.9 258.8L161.7 258.4L162.5 256.9L163.3 254.2L164.3 251.5L165.4 251.7L166.6 252.0L167.9 250.6L169.2 249.4L170.6 248.5L172.0 247.8L173.5 248.5L174.9 249.7L176.4 249.7L177.9 249.2L179.4 248.8L180.9 248.5L182.4 249.2L183.9 248.1L185.4 248.1L186.9 249.2L188.4 249.4L189.8 249.4L191.3 248.5L192.6 248.3L193.9 249.4L195.1 248.7L196.3 249.0L197.3 251.4L198.3 252.7L199.4 253.5L200.4 254.2L201.6 255.6L202.7 256.9L203.9 258.9L205.0 260.3L206.1 260.3L207.1 262.1L207.9 263.3L208.6 263.9L209.1 266.2L209.7 268.3L210.1 268.7L210.6 268.5L211.1 269.6L211.6 272.4L212.1 273.1L212.6 273.9L213.2 276.4L213.7 276.9L214.3 279.2L214.9 281.5L215.6 280.9L216.2 281.7L216.8 284.5L217.5 287.6L218.1 288.8L218.8 289.3L219.4 290.3L220.0 292.7L220.7 295.2L221.3 294.2L221.9 294.6L222.4 297.6L223.0 298.9L223.6 300.2L224.1 302.2L224.6 302.6L225.1 304.5L225.5 306.7L225.9 308.0L226.4 309.5L226.8 310.1L227.2 312.3L227.6 314.1L228.0 315.7L228.4 317.3L228.8 319.2L229.2 319.6L229.7 319.6L230.1 321.0L230.6 321.6L231.1 323.7L231.6 324.8L232.2 326.0L232.9 329.3L233.6 331.1L234.4 331.0L235.3 331.6L236.2 333.7L237.1 336.2L237.9 336.8L238.7 337.0L239.5 338.8L240.1 339.9L240.8 341.2L241.4 342.9L242.0 345.0L242.5 345.7L243.0 346.2L243.6 348.3L244.1 349.1L244.6 350.1L245.1 352.0L245.6 352.6L246.1 353.7L246.6 355.3L247.1 356.7L247.6 358.4L248.1 359.9L248.6 362.3L249.1 364.9L249.7 366.4L250.2 366.4L250.7 367.4L251.3 368.4L251.9 370.0L252.5 372.8L253.1 373.5L253.8 374.4L254.4 376.6L255.1 378.4L255.8 378.7L256.5 379.0L257.2 379.5L257.9 381.1L258.6 383.2L259.3 384.8L260.0 386.9L260.8 387.2L261.5 387.6L262.2 389.7L262.9 390.4L263.6 391.9L264.2 394.0L264.9 395.7L265.6 397.9L266.2 399.5L266.9 400.2L267.5 401.2L268.2 402.9L268.8 404.8L269.5 404.7L270.2 405.1L270.9 407.2L271.6 408.8L272.4 411.4L273.1 412.7L273.9 413.4L274.7 414.0L275.5 415.4L276.4 417.2L277.3 417.4L278.4 418.8L279.5 420.1L280.7 418.9L282.0 419.8L283.3 422.2L284.7 423.0L286.2 422.9L287.6 422.4L289.0 422.5L290.4 422.5L291.8 420.2L293.1 418.6L294.4 419.2L295.6 418.8L296.8 418.4L297.9 418.2L299.0 416.7L300.1 414.7L301.2 414.8L302.2 413.4L303.3 411.0L304.3 412.0L305.3 411.4L306.2 409.2L307.2 407.6L308.0 406.8L308.8 407.6L309.5 405.7L310.2 402.1L310.8 401.3L311.4 401.5L312.0 399.5L312.5 396.2L313.0 394.7L313.6 393.4L314.1 392.4L314.7 391.4L315.2 389.7L315.8 388.6L316.4 387.4L317.0 384.5L317.6 382.8L318.2 383.0L318.7 381.6L319.3 379.0L319.9 378.4L320.5 377.6L321.1 375.6L321.7 374.3L322.3 372.5L322.9 371.1L323.5 368.7L324.1 367.2L324.8 368.0L325.4 366.2L326.0 364.0L326.6 362.2L327.2 361.5L327.8 360.4L328.4 357.4L329.1 357.0L329.7 356.8L330.3 354.6L330.9 352.8L331.6 352.8L332.2 351.5L332.8 349.2L333.5 348.1L334.1 348.1L334.7 348.1L335.4 346.9L336.0 342.7L336.7 341.3L337.4 342.0L338.1 339.9L338.8 338.4L339.5 337.6L340.3 335.7L341.0 332.6L341.8 331.4L342.5 331.4L343.2 329.9L343.9 327.6L344.7 325.8L345.4 325.3L346.0 324.1L346.7 322.3L347.4 321.2L348.1 320.9L348.7 320.8L349.4 320.2L350.0 317.6L350.7 313.9L351.3 313.2L351.9 311.6L352.6 309.7L353.2 309.8L353.8 308.8L354.4 307.6L355.0 305.6L355.5 303.3L356.1 302.3L356.6 301.9L357.2 301.4L357.7 300.2L358.3 298.1L358.8 295.3L359.3 293.5L359.9 292.7L360.4 290.4L361.0 288.4L361.6 286.8L362.2 286.4L362.8 286.4L363.4 284.2L364.0 283.3L364.6 282.7L365.3 280.5L365.9 279.6L366.5 278.6L367.2 276.0L367.8 273.9L368.5 272.3L369.2 271.9L369.9 271.5L370.6 270.4L371.3 268.6L372.0 265.8L372.7 265.8L373.5 266.0L374.3 262.8L375.0 261.7L375.8 260.9L376.5 260.0L377.3 259.6L378.0 256.7L378.8 254.9L379.6 254.0L380.5 250.8L381.4 250.2L382.4 251.0L383.4 250.2L384.6 247.6L385.9 247.0L387.3 248.7L388.8 247.1L390.3 248.4L391.8 249.7L393.3 247.5L394.8 246.3L396.3 247.4L397.8 249.2L399.2 249.2L400.7 247.6L402.2 248.6L403.7 248.7L405.1 248.6L406.4 250.1L407.7 249.7L408.9 249.6L410.1 250.2L411.1 251.7L412.1 254.2L413.0 255.3L413.9 254.9L414.6 257.2L415.3 259.9L416.0 260.4L416.6 261.9L417.2 263.3L417.9 265.1L418.5 266.3L419.1 265.8L419.7 266.9L420.3 268.9L420.8 270.7L421.4 271.6L422.0 272.5L422.6 273.3L423.1 274.7L423.7 278.3L424.2 279.9L424.8 279.4L425.3 280.5L425.8 282.0L426.4 283.8L426.9 285.2L427.4 287.5L428.0 288.9L428.5 289.2L429.1 292.3L429.7 293.9L430.2 295.1L430.8 296.4L431.4 297.4L432.1 300.5L432.7 300.6L433.3 300.8L433.9 302.0L434.6 302.9L435.2 304.6L435.9 306.1L436.5 307.0L437.2 306.7L437.9 309.4L438.5 312.3L439.2 314.2L439.9 315.6L440.6 316.1L441.3 316.6L441.9 316.9L442.6 318.9L443.3 320.4L444.0 322.7L444.7 325.9L445.5 326.6L446.2 327.8L446.9 328.6L447.6 328.7L448.3 331.8L449.0 333.3L449.8 333.8L450.5 334.7L451.2 335.4L452.0 337.9L452.7 337.7L453.4 337.3L454.1 339.3L454.9 341.4L455.6 343.3L456.3 344.3L457.1 345.1L457.8 346.2L458.5 347.3L459.3 349.6L460.0 351.3L460.7 351.5L461.4 352.4L462.2 353.9L462.9 354.9L463.6 356.9L464.3 359.7L465.0 359.9L465.7 360.6L466.4 362.6L467.1 364.9L467.8 366.0L468.5 366.4L469.2 367.6L469.9 368.4L470.6 370.0L471.3 374.5L471.9 377.2L472.6 376.4L473.2 377.1L473.9 377.1L474.5 377.5L475.2 380.5L475.8 382.6L476.4 384.3L477.0 385.6L477.7 386.6L478.3 388.0L478.9 389.4L479.5 390.9L480.1 392.7L480.8 393.4L481.4 393.8L482.1 395.0L482.7 396.5L483.4 398.7L484.1 400.1L484.8 399.7L485.4 400.4L486.1 402.8L486.8 404.4L487.5 405.7L488.2 407.0L489.0 409.4L489.7 411.4L490.5 413.0L491.4 412.6L492.4 411.9L493.4 413.3L494.5 415.8L495.7 418.2L496.9 417.8L498.2 417.6L499.5 418.8L500.9 420.5L502.3 421.5L503.7 419.8L505.0 418.9L506.3 418.7L507.6 418.4L508.8 419.6L509.9 417.9L510.9 415.3L511.8 411.9L512.7 410.6L513.5 410.0L514.3 407.9L515.0 408.5L515.8 406.4L516.5 406.2L517.3 405.7L518.0 403.3L518.8 402.0L519.7 400.7L520.5 399.4L521.4 397.6L522.2 395.1L523.1 394.6L524.0 395.7L524.9 393.5L525.8 391.5L526.6 389.8L527.5 388.2L528.4 388.0L529.2 387.5L530.1 386.7L530.9 386.0L531.7 385.0L532.5 383.1L533.3 381.4L534.0 379.6L534.8 379.0L535.5 377.3L536.2 374.5L536.9 373.9L537.7 372.1L538.3 370.3L539.0 368.9L539.7 367.2L540.4 369.6L541.0 367.6L541.7 364.4L542.3 363.8L543.0 360.9L543.6 358.9L544.2 358.8L544.8 358.3L545.5 356.4L546.1 356.6L546.7 354.2L547.3 350.0L547.9 349.7L548.4 350.9L549.0 349.6L549.6 348.2L550.2 347.6L550.7 345.4L551.3 342.6L551.9 341.1L552.4 341.1L553.0 340.0L553.5 337.7L554.0 336.2L554.6 334.8L555.2 333.8L555.7 332.2L556.4 331.5L557.0 330.6L557.7 328.2L558.5 325.3L559.2 322.3L560.0 322.1L560.7 322.1L561.5 322.4L562.2 320.9L562.9 317.4L563.7 317.2L564.4 315.1L565.1 313.3L565.8 312.5L566.6 309.0L567.3 307.3L568.0 308.0L568.7 308.0L569.4 306.5L570.1 304.5L570.8 303.4L571.4 303.0L572.1 301.6L572.8 301.3L573.5 300.6L574.2 297.4L574.8 294.8L575.5 293.5L576.2 292.7L576.8 292.9L577.5 292.6L578.2 290.6L578.8 287.6L579.4 285.3L580.0 283.2L580.6 283.9L581.2 283.5L581.8 280.4L582.4 280.7L583.0 279.2L583.6 276.4L584.1 275.8L584.7 273.1L585.3 270.4L585.9 272.9L586.6 272.8L587.2 267.5L587.9 265.5L588.6 265.6L589.4 265.2L590.2 263.9L591.0 261.3L591.8 260.1L592.7 260.6L593.6 259.0L594.5 256.1L595.5 254.7L596.6 252.8L597.7 253.6L598.9 254.7L600.2 252.9L601.5 252.1L602.9 252.5L604.2 251.6L605.7 249.3L607.1 250.3L608.6 249.5L610.1 248.5L611.6 251.3L613.0 252.9L614.5 252.3L615.9 251.5L617.4 251.8L618.8 252.2L620.2 252.7L621.5 254.6L622.9 255.7L624.1 256.7L625.3 257.7L626.5 257.1L627.5 257.5L628.4 260.5L629.3 261.5L630.1 261.9L630.9 262.9L631.7 263.8L632.4 265.6L633.1 266.2L633.8 267.1L634.5 268.2L635.1 270.3L635.8 273.3L636.4 274.8L637.0 274.5L637.6 275.9L638.2 276.1L638.8 277.1L639.4 282.0L640.0 281.6L640.6 281.1L641.2 285.0L641.8 288.0L642.5 289.6L643.1 289.2L643.8 290.8L644.5 293.7L645.1 293.5L645.8 293.8L646.5 294.7L647.2 295.7L647.8 298.8L648.5 299.5L649.2 300.7L649.8 303.2L650.5 303.9L651.1 304.6L651.7 306.2L652.4 307.9L653.0 308.6L653.6 308.9L654.2 310.4L654.8 312.7L655.4 314.7L656.0 316.4L656.6 317.1L657.2 317.9L657.9 318.9L658.5 320.1L659.2 322.4L659.9 323.2L660.6 322.9L661.2 325.5L661.9 329.1L662.6 330.4L663.3 330.6L664.0 333.2L664.7 334.9L665.3 334.3L666.0 335.5L666.6 338.0L667.3 339.0L667.9 340.2L668.5 341.6L669.1 342.5L669.7 344.3L670.3 343.7L670.9 345.8L671.4 349.5L672.0 350.3L672.5 351.4L673.1 352.2L673.6 354.5L674.2 356.1L674.7 357.1L675.3 357.2L675.8 359.5L676.4 362.3L676.9 362.4L677.4 362.9L678.0 363.4L678.5 365.9L679.1 365.5L679.6 367.5L680.1 370.8L680.7 370.6L681.2 372.6L681.7 376.0L682.2 377.6L682.7 378.4L683.2 378.7L683.7 378.8L684.2 381.9L684.7 382.9L685.2 381.6L685.7 383.4L686.2 386.5L686.8 388.2L687.3 390.5L687.9 392.5L688.5 393.0L689.1 394.3L689.7 395.9L690.4 396.9L691.1 397.6L691.9 399.3L692.7 401.1L693.5 402.7L694.3 403.2L695.2 404.3L696.1 405.7L697.0 406.4L697.9 407.6L698.9 407.7L700.0 410.1L701.1 410.6L702.3 411.7L703.5 415.4L704.7 416.0L706.0 414.0L707.3 414.7L708.7 416.4L710.0 416.7L711.4 417.2L712.9 418.2L714.3 419.7L715.8 419.2L717.2 418.8L718.6 417.9L720.0 418.2L721.4 417.2L722.6 413.8L723.8 413.4L725.0 413.9L726.1 413.9L727.1 411.1L728.1 409.4L729.1 409.7L730.0 410.3L730.9 408.6L731.7 404.4L732.6 402.1L733.4 401.7L734.2 402.1L735.0 401.2L735.8 399.5L736.6 397.4L737.4 396.2L738.2 395.6L739.0 396.2L739.8 394.9L740.6 390.9L741.4 389.3L742.2 388.7L743.0 386.1L743.7 385.0L744.5 385.4L745.3 384.3L746.0 382.1L746.8 380.4L747.5 380.1L748.2 379.6L748.9 378.3L749.7 375.4L750.4 374.4L751.1 375.2L751.8 373.2L752.5 368.7L753.2 368.2L753.9 369.7L754.6 367.7L755.3 365.3L755.9 364.8L756.6 364.4L757.3 362.2L758.0 360.1L758.6 358.9L759.3 358.5L759.9 357.1L760.6 354.1L761.2 352.2L761.9 351.8L762.5 351.2L763.2 349.3L763.8 348.2L764.4 346.8L765.1 345.6L765.7 346.0L766.3 344.5L766.9 342.0L767.5 340.4L768.1 337.3L768.7 336.6L769.2 336.1L769.8 332.9L770.3 331.8L770.7 330.3L771.2 329.2L771.7 328.2L772.1 326.8L772.6 326.4L773.0 325.3L773.5 322.6L774.0 320.7L774.5 319.1L775.0 318.6L775.5 316.9L776.0 314.5L776.5 315.1L777.0 313.8L777.5 311.3L778.0 310.5L778.6 307.7L779.1 306.1L779.7 306.7L780.3 305.3L780.9 303.6L781.5 301.4L782.1 299.7L782.7 298.7L783.4 297.4L784.1 295.3L784.8 293.5L785.5 293.5L786.2 292.2L787.0 290.9L787.8 291.3L788.6 289.8L789.4 287.5L790.2 286.5L791.0 284.5L791.9 282.4L792.8 281.1L793.6 279.6L794.5 280.5L795.4 279.3L796.2 276.8L797.1 275.9L798.0 274.3L798.8 273.2L799.6 272.1L800.5 271.3L801.3 270.0L802.1 268.7L802.8 267.5L803.6 265.7L804.3 264.4L805.0 264.5L805.7 262.5L806.3 259.8L807.0 259.8L807.7 259.0L808.5 256.5L809.3 254.0L810.1 253.5L811.0 253.9L812.0 253.4L813.0 251.5L814.2 249.7L815.4 248.7L816.6 248.0L817.9 246.5L819.2 245.0L820.6 245.7L822.0 248.0L823.5 248.3L824.9 246.0L826.3 245.5L827.6 247.3L828.9 248.1L830.2 249.1L831.5 250.1L832.7 250.2L833.8 250.7L834.9 252.6L836.0 254.9L837.0 256.0L837.9 257.4L838.8 258.2L839.6 259.9L840.4 260.5L841.2 261.4L842.0 263.1L842.8 263.5L843.6 264.6L844.3 266.7L845.0 268.6L845.8 270.3L846.5 270.9L847.2 271.6L847.8 272.9L848.5 274.5L849.1 277.6L849.7 277.9L850.3 279.0L850.9 280.4L851.5 282.0L852.1 284.3L852.6 285.0L853.2 285.5L853.8 287.6L854.4 289.7L854.9 289.6L855.5 291.8L856.1 292.9L856.7 293.4L857.3 295.0L858.0 296.0L858.6 298.5L859.3 301.6L859.9 301.5L860.6 302.7L861.3 305.6L862.0 305.5L862.7 306.5L863.4 309.5L864.1 309.9L864.8 309.4L865.5 310.5L866.2 313.7L866.9 316.5L867.6 315.7L868.3 316.2L868.9 318.6L869.6 319.9L870.3 321.6L870.9 323.2L871.5 324.7L872.1 326.2L872.7 326.9L873.3 327.6L873.9 329.0L874.4 331.5L875.0 331.5L875.5 332.7L876.0 336.2L876.5 337.9L877.0 338.7L877.5 339.3L878.0 339.6L878.5 340.6L879.0 342.5L879.4 343.8L879.9 345.6L880.4 347.4L880.9 348.5L881.3 351.2L881.8 353.0L882.3 354.0L882.8 354.1L883.3 355.4L883.7 357.5L884.2 359.7L884.7 360.6L885.1 360.3L885.6 363.4L886.0 366.9L886.4 366.7L886.9 366.5L887.3 368.4L887.7 371.2L888.1 374.7L888.6 375.2L889.0 375.8L889.5 376.6L890.0 376.5L890.5 378.8L891.0 380.7L891.6 382.2L892.2 383.7L892.9 385.4L893.7 386.8L894.6 387.0L895.5 389.0L896.5 390.2L897.6 391.5L898.7 391.9L899.9 391.2L901.1 393.1L902.4 395.0L903.6 394.7L904.9 394.3L906.3 394.9L907.6 396.4L908.9 397.4L910.1 397.5L911.4 397.8L912.6 399.8L913.8 402.1L915.0 403.8L916.0 403.5L917.0 402.7L918.0 404.8L918.8 406.6L919.6 408.0L920.3 410.2L921.0 410.7L921.7 411.2L922.4 411.7L923.1 412.0L923.8 415.0L924.5 418.8L925.4 418.3L926.3 417.0L927.3 418.9L928.4 421.5L929.5 421.4L930.7 421.8L932.0 424.8L933.3 423.7L934.6 422.2L936.0 424.3L937.3 425.7L938.5 424.0L939.7 423.0L940.8 423.3L941.7 420.6L942.6 418.6L943.4 418.0L944.1 416.5L944.7 415.7L945.3 413.8L945.9 410.9L946.4 409.3L946.9 408.3L947.4 407.7L948.0 407.9L948.5 406.3L949.1 403.7L949.8 402.4L950.5 402.1L951.2 401.1L951.9 399.2L952.7 397.5L953.4 396.2L954.2 395.1L955.0 394.7L955.8 393.8L956.6 392.5L957.5 391.6L958.3 389.6L959.1 386.8L959.9 385.2L960.7 384.5L961.4 384.1L962.2 383.7L962.9 382.0L963.7 380.3L964.4 379.6L965.1 377.0L965.8 375.2L966.4 375.0L967.1 372.4L967.8 370.8L968.4 370.2L969.1 369.6L969.7 369.0L970.4 367.0L971.0 364.3L971.6 364.2L972.3 364.1L972.9 361.3L973.5 358.6L974.1 358.2L974.7 357.1L975.3 356.0L975.9 354.3L976.5 352.0L977.1 353.3L977.7 353.2L978.3 350.8L978.8 348.9L979.4 345.9L980.0 345.1L980.6 345.3L981.1 342.9L981.7 340.2L982.3 339.4L982.9 338.2L983.5 335.3L984.2 334.6L985.0 334.9L985.8 331.9L986.6 331.3L987.4 330.5L988.2 327.0L989.0 325.9L989.7 325.5L990.5 324.8L991.2 322.3L992.0 321.1L992.7 321.3L993.4 319.4L994.2 316.1" stroke="#ff00ff" stroke-width="4.2"/>
<path d="M117.3 340.2L118.1 339.1L118.9 337.2L119.7 335.9L120.5 333.5L121.3 333.2L122.0 331.8L122.8 330.9L123.6 329.6L124.4 329.0L125.2 329.1L126.1 325.3L127.0 325.1L128.0 325.6L128.9 322.1L129.9 320.9L130.9 320.6L131.9 319.9L132.9 319.4L133.9 318.6L134.9 315.7L135.9 313.8L136.9 313.2L137.9 310.6L138.9 309.3L139.9 308.6L140.9 308.5L141.9 308.0L143.0 306.9L144.0 306.0L145.0 304.7L146.0 304.1L147.0 302.2L148.0 300.5L149.1 300.0L150.1 298.6L151.1 296.8L152.1 296.3L153.2 296.6L154.2 296.9L155.3 295.5L156.3 293.0L157.3 290.9L158.4 289.5L159.4 290.4L160.4 291.0L161.4 289.3L162.4 287.9L163.3 287.7L164.2 286.9L165.1 284.9L165.9 281.4L166.7 279.6L167.6 280.0L168.4 278.1L169.4 275.9L170.4 274.7L171.5 273.4L172.8 272.3L174.2 273.3L175.6 273.7L177.1 272.6L178.5 273.5L180.0 273.1L181.5 271.6L183.0 271.3L184.5 271.3L186.0 271.9L187.5 272.3L189.0 273.3L190.4 273.7L191.8 273.6L193.0 273.8L194.2 272.6L195.2 274.1L196.2 277.6L197.0 279.9L197.7 281.4L198.5 281.5L199.2 281.5L199.9 283.3L200.7 284.6L201.5 286.2L202.4 288.4L203.3 290.0L204.2 289.8L205.1 291.4L206.0 291.6L206.9 291.3L207.9 293.6L208.8 295.0L209.7 296.4L210.7 298.6L211.6 299.4L212.4 300.3L213.3 301.2L214.1 301.8L214.9 304.3L215.7 306.5L216.4 306.5L217.2 305.1L217.9 308.8L218.6 311.2L219.3 310.9L220.0 312.8L220.8 315.5L221.5 317.6L222.3 318.7L223.1 320.5L224.0 321.1L224.9 321.0L225.7 323.0L226.6 325.2L227.5 325.5L228.4 324.3L229.4 324.8L230.3 327.9L231.2 329.2L232.1 330.8L233.0 334.7L233.9 335.2L234.8 334.4L235.7 336.3L236.6 338.7L237.5 337.3L238.4 336.6L239.3 340.8L240.2 342.4L241.1 340.9L242.1 342.6L243.0 344.1L243.9 345.6L244.8 348.7L245.8 348.8L246.7 348.2L247.6 350.1L248.5 352.0L249.4 352.5L250.4 353.5L251.3 354.5L252.2 355.4L253.0 357.7L253.9 360.8L254.8 360.5L255.7 359.7L256.5 362.3L257.4 365.7L258.2 366.8L259.0 367.9L259.8 369.4L260.6 369.8L261.4 370.1L262.2 370.7L262.9 372.2L263.6 372.6L264.3 375.3L265.0 377.2L265.6 377.5L266.3 380.1L266.9 381.2L267.6 382.2L268.3 382.9L269.1 383.8L270.0 386.4L270.8 388.5L271.8 387.9L272.7 388.4L273.8 389.1L274.8 390.1L276.0 392.6L277.2 392.4L278.5 394.3L279.8 394.9L281.2 395.3L282.6 395.4L284.1 395.2L285.5 395.1L287.0 394.0L288.5 394.3L289.9 394.8L291.4 394.8L292.8 393.9L294.2 394.2L295.5 392.9L296.8 391.5L298.1 391.8L299.3 390.6L300.4 389.8L301.5 388.0L302.5 388.3L303.4 389.6L304.3 385.4L305.1 382.5L305.9 382.2L306.7 382.1L307.4 381.7L308.2 380.8L308.9 379.9L309.6 376.7L310.3 374.5L311.0 374.0L311.8 373.1L312.5 371.8L313.3 368.5L314.0 366.9L314.8 369.2L315.6 368.4L316.5 366.1L317.4 364.8L318.3 362.4L319.3 361.3L320.3 360.3L321.3 359.9L322.3 358.6L323.4 355.2L324.4 355.2L325.5 356.2L326.5 354.0L327.5 352.3L328.5 352.2L329.5 351.5L330.4 348.9L331.3 348.5L332.2 350.3L333.1 348.0L334.0 343.7L334.8 343.4L335.7 344.2L336.5 341.3L337.3 337.6L338.2 335.9L339.0 335.5L339.9 334.5L340.7 333.3L341.6 332.6L342.5 330.4L343.3 329.8L344.2 331.1L345.0 327.8L345.9 325.2L346.7 325.3L347.6 323.6L348.4 322.8L349.2 321.3L350.0 320.6L350.9 320.0L351.7 317.2L352.5 316.5L353.3 316.2L354.1 315.8L355.0 314.6L355.8 311.8L356.6 312.0L357.4 311.2L358.2 308.7L358.9 308.4L359.7 306.4L360.4 303.7L361.2 302.2L361.9 302.7L362.6 301.3L363.3 297.3L364.0 295.8L364.7 296.9L365.5 297.5L366.2 294.1L367.0 291.3L367.8 292.6L368.6 291.4L369.5 288.3L370.4 287.0L371.4 288.0L372.4 286.8L373.4 282.4L374.5 282.1L375.5 282.5L376.6 281.1L377.7 279.2L378.9 276.9L380.1 275.9L381.3 278.2L382.5 276.7L383.8 275.5L385.2 278.2L386.6 277.7L388.0 275.6L389.4 275.2L390.9 275.7L392.3 273.2L393.8 272.5L395.3 272.7L396.8 270.4L398.3 272.2L399.7 273.6L401.2 273.3L402.6 273.3L404.0 274.5L405.3 276.8L406.6 276.4L407.9 275.8L409.2 276.3L410.4 278.0L411.6 278.9L412.8 278.8L414.0 280.8L415.2 282.9L416.3 284.3L417.4 285.7L418.4 284.9L419.4 285.4L420.3 286.8L421.2 286.8L422.1 288.9L422.9 291.0L423.7 292.6L424.5 293.7L425.3 295.2L426.1 296.7L426.8 297.7L427.6 300.0L428.3 302.6L429.0 302.7L429.8 300.8L430.5 301.1L431.2 305.2L432.0 309.3L432.7 310.3L433.4 311.4L434.1 311.7L434.9 311.3L435.6 314.0L436.3 316.5L437.0 317.2L437.6 318.4L438.3 319.3L439.0 318.7L439.6 321.0L440.3 324.0L440.9 323.8L441.5 324.5L442.2 327.2L442.8 328.4L443.5 328.1L444.1 330.4L444.7 333.4L445.4 335.2L446.0 336.6L446.7 337.4L447.3 337.9L448.0 337.4L448.6 338.7L449.3 341.2L449.9 344.1L450.5 345.6L451.1 345.8L451.7 348.3L452.3 348.4L452.9 348.2L453.5 351.6L454.1 355.0L454.7 353.8L455.3 354.2L455.9 358.2L456.5 358.8L457.2 359.0L457.9 361.1L458.7 362.0L459.5 362.8L460.4 362.0L461.3 362.5L462.4 365.5L463.6 367.5L464.8 370.2L466.1 372.8L467.5 373.1L468.8 371.8L470.2 370.2L471.6 370.4L473.1 372.7L474.5 373.2L475.9 373.0L477.3 374.8L478.7 374.4L480.0 373.3L481.3 376.1L482.6 378.0L483.7 378.5L484.8 379.2L485.9 378.6L486.9 380.6L487.8 382.3L488.8 382.8L489.7 384.8L490.7 385.9L491.8 385.5L492.8 386.5L494.0 387.3L495.2 388.0L496.5 389.5L497.8 391.2L499.2 391.7L500.5 390.9L501.9 391.7L503.4 390.6L504.8 390.7L506.3 392.4L507.7 391.7L509.1 391.3L510.4 391.7L511.7 391.4L512.9 390.8L514.1 390.5L515.2 390.0L516.2 387.7L517.1 385.9L517.9 384.9L518.7 382.9L519.4 381.2L520.2 379.4L521.0 378.7L521.7 379.1L522.6 377.4L523.4 374.9L524.3 373.3L525.2 371.4L526.2 370.1L527.2 370.2L528.2 368.6L529.2 368.7L530.1 369.6L531.1 367.2L532.1 364.8L533.0 364.4L533.9 363.4L534.8 363.1L535.7 362.1L536.6 359.6L537.5 357.9L538.4 357.2L539.3 357.1L540.2 355.4L541.1 355.2L541.9 352.8L542.8 348.6L543.6 346.4L544.5 346.2L545.3 346.3L546.2 345.3L547.0 344.8L547.8 344.7L548.7 342.5L549.5 341.3L550.3 340.2L551.1 337.1L551.9 336.9L552.7 337.2L553.5 335.9L554.3 333.0L555.0 332.3L555.8 332.3L556.6 329.2L557.4 327.6L558.2 327.1L559.0 325.8L559.8 323.9L560.6 324.0L561.4 322.9L562.2 320.5L563.1 319.6L563.9 318.3L564.7 315.7L565.6 315.9L566.4 317.3L567.3 314.4L568.1 312.8L569.0 311.7L569.9 310.2L570.7 308.9L571.6 305.7L572.5 304.0L573.4 303.7L574.3 302.4L575.2 300.0L576.1 299.2L577.1 300.1L578.0 299.5L578.9 297.1L579.8 297.0L580.8 296.4L581.7 294.1L582.7 292.9L583.6 290.8L584.5 289.9L585.5 288.6L586.4 286.4L587.4 284.5L588.4 284.4L589.4 285.4L590.5 284.2L591.6 282.4L592.8 281.4L594.0 281.5L595.3 280.5L596.6 279.1L598.0 279.2L599.4 278.6L600.8 278.1L602.2 278.4L603.7 277.6L605.1 278.5L606.6 278.2L608.1 276.6L609.6 277.5L611.1 277.6L612.6 276.7L614.1 276.9L615.6 277.3L617.0 277.4L618.5 279.0L619.9 280.1L621.3 280.2L622.7 279.7L624.0 282.2L625.2 283.3L626.4 283.9L627.4 284.4L628.4 284.2L629.3 287.3L630.2 287.6L631.1 286.5L632.0 289.3L632.8 292.8L633.7 293.9L634.6 294.2L635.5 294.3L636.3 295.4L637.2 297.8L638.0 298.5L638.9 297.6L639.8 300.1L640.7 301.7L641.6 300.8L642.5 302.6L643.5 305.7L644.4 306.2L645.4 306.5L646.4 310.2L647.4 311.6L648.4 311.0L649.4 311.1L650.4 311.2L651.3 314.1L652.2 315.5L653.2 315.7L654.1 318.8L655.0 319.4L655.9 319.6L656.7 322.1L657.6 323.6L658.5 325.0L659.3 327.1L660.1 328.6L661.0 327.7L661.8 328.0L662.6 330.5L663.3 331.4L664.1 331.2L664.8 332.5L665.6 336.3L666.3 338.6L667.0 338.3L667.6 338.7L668.3 340.6L668.9 342.7L669.4 343.6L670.0 343.8L670.5 344.6L671.0 347.2L671.6 351.3L672.1 352.4L672.7 352.7L673.2 354.5L673.8 354.4L674.5 355.6L675.1 359.1L675.8 360.8L676.5 360.7L677.3 360.6L678.0 361.5L678.8 364.4L679.5 365.7L680.4 366.1L681.2 368.0L682.1 368.8L683.1 369.1L684.1 370.8L685.1 372.0L686.2 372.3L687.4 374.8L688.5 376.7L689.7 374.9L690.9 374.3L692.1 377.6L693.3 378.7L694.5 379.6L695.7 382.1L696.9 383.2L698.0 384.8L699.2 383.8L700.3 382.7L701.3 384.4L702.4 385.8L703.5 388.0L704.7 389.7L705.9 389.1L707.1 389.2L708.4 389.5L709.8 390.2L711.2 390.6L712.6 392.8L714.1 394.8L715.5 393.1L717.0 392.3L718.5 393.1L720.0 392.9L721.4 393.0L722.8 392.7L724.2 393.1L725.6 392.9L726.9 389.5L728.2 387.3L729.4 386.9L730.6 388.3L731.7 387.5L732.7 385.7L733.7 383.7L734.6 382.2L735.5 381.2L736.3 379.1L737.1 378.8L737.9 376.7L738.6 377.4L739.4 376.3L740.1 372.6L740.8 373.7L741.6 373.5L742.3 368.8L743.1 367.1L743.8 368.7L744.6 366.2L745.4 364.1L746.2 363.1L747.1 361.2L748.0 362.1L749.0 362.4L749.9 359.1L751.0 356.2L752.0 356.4L753.0 356.5L754.1 354.6L755.2 353.5L756.2 351.7L757.3 349.8L758.3 349.1L759.3 349.7L760.3 349.2L761.2 346.1L762.2 344.4L763.1 344.9L764.0 344.6L764.9 342.1L765.7 340.3L766.6 340.1L767.4 338.9L768.2 336.8L768.8 335.2L769.4 332.0L769.9 331.6L770.3 332.1L770.8 330.9L771.2 332.2L771.7 329.8L772.3 326.3L772.9 324.9L773.6 322.5L774.3 320.8L775.1 319.9L776.0 319.4L776.9 319.9L777.8 319.0L778.8 316.0L779.8 315.3L780.8 313.9L781.8 312.6L782.8 312.4L783.8 310.3L784.8 309.4L785.9 309.7L787.0 308.8L788.0 305.3L789.1 302.2L790.2 302.7L791.3 302.8L792.4 300.7L793.5 300.5L794.5 301.0L795.5 300.3L796.5 299.0L797.5 298.3L798.4 296.3L799.2 293.3L800.1 293.2L800.9 292.6L801.7 289.5L802.6 287.3L803.4 287.8L804.2 287.3L805.1 285.0L806.0 283.5L807.0 282.8L808.0 281.8L809.1 281.3L810.2 281.1L811.4 279.1L812.7 279.7L814.0 279.8L815.3 277.1L816.6 277.7L818.0 277.3L819.4 274.3L820.8 272.8L822.3 273.1L823.7 273.7L825.2 272.8L826.6 273.3L828.1 274.4L829.5 276.3L830.9 278.0L832.2 276.8L833.5 278.0L834.8 279.3L836.1 277.5L837.4 278.5L838.6 282.2L839.8 283.2L840.9 282.5L841.9 283.6L842.9 284.7L843.9 286.3L844.8 288.2L845.8 288.6L846.7 290.2L847.5 293.1L848.4 294.0L849.3 294.8L850.2 296.5L851.0 296.5L851.9 297.0L852.8 299.7L853.7 301.1L854.6 301.9L855.5 301.5L856.4 302.5L857.3 303.6L858.1 305.8L859.0 308.8L859.9 309.1L860.7 309.5L861.6 310.0L862.4 310.9L863.2 311.4L864.1 313.7L864.9 315.5L865.7 316.3L866.4 317.7L867.2 320.4L868.0 322.7L868.7 324.4L869.4 324.7L870.2 324.0L870.9 325.7L871.5 328.2L872.2 328.2L872.8 329.4L873.4 331.7L874.0 333.0L874.5 334.9L875.0 335.7L875.6 336.2L876.1 337.6L876.6 340.6L877.1 340.8L877.6 341.4L878.1 344.1L878.6 345.2L879.1 346.9L879.6 348.8L880.2 350.1L880.7 352.2L881.3 353.3L882.0 355.4L882.7 355.4L883.4 356.2L884.2 358.8L885.0 357.7L885.8 358.5L886.7 360.3L887.6 362.4L888.5 363.9L889.4 366.0L890.4 367.1L891.4 366.9L892.4 367.9L893.4 369.7L894.4 371.1L895.5 373.0L896.6 373.5L897.7 372.9L898.9 373.9L900.0 374.5L901.2 375.4L902.4 376.2L903.6 375.6L904.9 375.7L906.1 377.4L907.4 377.5L908.6 378.5L909.9 381.9L911.3 383.5L912.6 382.3L913.9 381.4L915.3 382.9L916.7 384.0L918.1 385.4L919.6 386.6L921.0 386.8L922.5 386.8L923.9 387.7L925.4 388.4L926.9 390.2L928.3 390.9L929.8 389.1L931.3 388.5L932.8 387.9L934.3 387.3L935.8 387.8L937.3 389.0L938.7 389.8L940.2 389.3L941.6 388.4L943.0 387.8L944.3 386.3L945.6 385.7L946.8 385.6L948.0 384.0L949.1 382.3L950.1 381.4L951.1 378.7L952.0 377.9L952.8 377.2L953.6 377.6L954.4 377.4L955.2 374.4L955.9 373.5L956.7 370.5L957.4 370.2L958.1 369.9L958.9 368.2L959.6 368.6L960.4 367.2L961.1 362.3L962.0 359.3L962.8 360.1L963.7 358.8L964.6 358.0L965.6 359.2L966.6 359.2L967.6 356.4L968.6 353.3L969.7 353.3L970.7 353.8L971.8 351.8L972.8 349.4L973.8 349.8L974.8 350.9L975.8 349.5L976.7 347.6L977.6 344.9L978.5 343.3L979.4 341.5L980.3 341.3L981.1 340.1L982.0 336.9L982.8 336.3L983.7 335.6L984.6 335.9L985.5 335.6L986.4 332.5L987.3 330.8L988.2 330.6L989.2 330.4L990.1 327.6L991.0 324.6L991.9 323.9L992.8 323.3L993.7 323.8L994.6 322.3" stroke="#808000" stroke-width="4.2"/>
<path d="M124.4 330.0L133.2 334.8L142.0 335.9L149.7 337.7L159.6 331.5L168.4 330.8L178.3 331.5L188.2 336.6L198.1 330.0L208.0 333.0L216.8 333.7L226.7 338.8L236.6 335.9L248.7 334.4L260.8 337.4L271.8 332.2L282.8 330.0L289.4 330.4L300.4 338.1L311.4 334.8L324.6 333.0L330.0 334.8L338.8 341.0L347.6 333.7L358.6 332.6L367.4 331.5L380.6 339.2L398.2 330.0L409.2 335.9L420.2 334.4L431.2 336.3L440.0 330.0L451.0 336.3L462.0 333.7L479.6 333.7L492.8 338.8L501.6 338.8L517.0 331.5L530.2 338.8L546.6 330.0L557.6 332.6L573.0 337.0L590.6 332.6L606.0 337.4L617.0 335.9L632.4 331.5L641.2 332.6L652.2 337.0L665.4 332.6L676.4 335.9L694.0 336.6L716.0 336.6L731.4 335.9L744.6 331.5L750.0 331.8L766.8 337.1L786.0 331.8L801.6 339.0L814.8 333.7L829.2 331.8L843.6 339.0L855.6 334.2L870.0 337.8L884.4 339.0L901.2 331.8L920.4 340.2L934.8 336.1L954.0 340.2L970.8 336.1L986.0 335.4" stroke="#000080" stroke-width="4.2"/>
</g>
<path d="M196.0 74.1H263.5" stroke="#000000" stroke-width="4.4"/>
<path d="M192.0 129.5H263.5" stroke="#ff0000" stroke-width="4.4"/>
<path d="M192.0 178.3H259.5" stroke="#0000ff" stroke-width="4.4"/>
<path d="M191.0 215.8H263.5" stroke="#008080" stroke-width="4.4"/>
<path d="M191.0 249.2H263.5" stroke="#ff00ff" stroke-width="4.4"/>
<path d="M191.0 279.0H265.5" stroke="#808000" stroke-width="4.4"/>
<rect x="124.5" y="17.5" width="862.3" height="631.2" fill="none" stroke="#000" stroke-width="2.8"/>
<path d="M190.8 648.7V663.2 M190.8 17.5V29.5 M358.4 648.7V663.2 M358.4 17.5V29.5 M526.0 648.7V663.2 M526.0 17.5V29.5 M693.6 648.7V663.2 M693.6 17.5V29.5 M861.2 648.7V663.2 M861.2 17.5V29.5 M274.6 648.7V656.2 M274.6 17.5V24.0 M442.2 648.7V656.2 M442.2 17.5V24.0 M609.8 648.7V656.2 M609.8 17.5V24.0 M777.4 648.7V656.2 M777.4 17.5V24.0 M945.0 648.7V656.2 M945.0 17.5V24.0 M124.5 587.8H110.7 M986.8 587.8H974.3 M124.5 479.8H110.7 M986.8 479.8H974.3 M124.5 371.9H110.7 M986.8 371.9H974.3 M124.5 263.9H110.7 M986.8 263.9H974.3 M124.5 156.0H110.7 M986.8 156.0H974.3 M124.5 48.0H110.7 M986.8 48.0H974.3 M124.5 641.8H117.0 M986.8 641.8H979.8 M124.5 533.8H117.0 M986.8 533.8H979.8 M124.5 425.9H117.0 M986.8 425.9H979.8 M124.5 317.9H117.0 M986.8 317.9H979.8 M124.5 209.9H117.0 M986.8 209.9H979.8 M124.5 102.0H117.0 M986.8 102.0H979.8" stroke="#000" stroke-width="2.6" fill="none"/>
<path d="M406.2 71.6L452 57.6M342.5 338.9L374.7 416.1M300.5 586.5L342.5 620.1" stroke="#333" stroke-width="1.8" fill="none"/>
<text transform="translate(85.87 594.60) scale(1.0667 1.0667)" font-family="Liberation Sans, sans-serif" font-weight="bold" font-size="26.50" text-anchor="start">0</text>
<text transform="translate(70.93 486.64) scale(1.0667 1.0667)" font-family="Liberation Sans, sans-serif" font-weight="bold" font-size="26.50" text-anchor="start">70</text>
<text transform="translate(54.93 378.68) scale(1.0667 1.0667)" font-family="Liberation Sans, sans-serif" font-weight="bold" font-size="26.50" text-anchor="start">140</text>
<text transform="translate(54.93 270.72) scale(1.0667 1.0667)" font-family="Liberation Sans, sans-serif" font-weight="bold" font-size="26.50" text-anchor="start">210</text>
<text transform="translate(54.93 162.76) scale(1.0667 1.0667)" font-family="Liberation Sans, sans-serif" font-weight="bold" font-size="26.50" text-anchor="start">280</text>
<text transform="translate(54.93 54.80) scale(1.0667 1.0667)" font-family="Liberation Sans, sans-serif" font-weight="bold" font-size="26.50" text-anchor="start">350</text>
<text transform="translate(169.05 691.00) scale(1.0116 1.0278)" font-family="Liberation Sans, sans-serif" font-weight="bold" font-size="26.50" text-anchor="start">410</text>
<text transform="translate(336.65 691.00) scale(1.0116 1.0278)" font-family="Liberation Sans, sans-serif" font-weight="bold" font-size="26.50" text-anchor="start">420</text>
<text transform="translate(504.25 691.00) scale(1.0116 1.0278)" font-family="Liberation Sans, sans-serif" font-weight="bold" font-size="26.50" text-anchor="start">430</text>
<text transform="translate(671.85 691.00) scale(1.0116 1.0278)" font-family="Liberation Sans, sans-serif" font-weight="bold" font-size="26.50" text-anchor="start">440</text>
<text transform="translate(839.45 691.00) scale(1.0116 1.0278)" font-family="Liberation Sans, sans-serif" font-weight="bold" font-size="26.50" text-anchor="start">450</text>
<text transform="translate(410.95 732.80) scale(1.0263 1.0000)" font-family="Liberation Sans, sans-serif" font-weight="bold" font-size="35.00" text-anchor="start">Frequency (MHz)</text>
<text transform="translate(270.78 85.20) scale(1.0200 1.0700)" font-family="Liberation Sans, sans-serif" font-size="30.00" text-anchor="start">0</text>
<text transform="translate(295.76 85.20) scale(1.0700 1.0000)" font-family="Liberation Serif, serif" font-size="28.00" text-anchor="start">με</text>
<text transform="translate(271.06 138.80) scale(1.0200 1.0700)" font-family="Liberation Sans, sans-serif" font-size="30.00" text-anchor="start">10</text>
<text transform="translate(313.16 138.80) scale(1.0700 1.0000)" font-family="Liberation Serif, serif" font-size="28.00" text-anchor="start">με</text>
<text transform="translate(264.56 187.80) scale(1.0200 1.0700)" font-family="Liberation Sans, sans-serif" font-size="30.00" text-anchor="start">20</text>
<text transform="translate(309.66 187.80) scale(1.0700 1.0000)" font-family="Liberation Serif, serif" font-size="28.00" text-anchor="start">με</text>
<text transform="translate(270.48 226.70) scale(1.0200 1.0700)" font-family="Liberation Sans, sans-serif" font-size="30.00" text-anchor="start">30</text>
<text transform="translate(313.36 226.70) scale(1.0700 1.0000)" font-family="Liberation Serif, serif" font-size="28.00" text-anchor="start">με</text>
<text transform="translate(268.58 259.20) scale(1.0200 1.0700)" font-family="Liberation Sans, sans-serif" font-size="30.00" text-anchor="start">40</text>
<text transform="translate(312.66 259.20) scale(1.0700 1.0000)" font-family="Liberation Serif, serif" font-size="28.00" text-anchor="start">με</text>
<text transform="translate(272.48 289.10) scale(1.0200 1.0700)" font-family="Liberation Sans, sans-serif" font-size="30.00" text-anchor="start">50</text>
<text transform="translate(314.56 289.10) scale(1.0700 1.0000)" font-family="Liberation Serif, serif" font-size="28.00" text-anchor="start">με</text>
<text transform="translate(453.94 66.00) scale(1.0553 1.0625)" font-family="Liberation Sans, sans-serif" font-size="30.00" text-anchor="start">422.75 MHz</text>
<text transform="translate(334.14 443.70) scale(1.0619 1.0850)" font-family="Liberation Sans, sans-serif" font-size="30.00" text-anchor="start">419 MHz</text>
<text transform="translate(342.14 633.40) scale(1.0622 1.0850)" font-family="Liberation Sans, sans-serif" font-size="30.00" text-anchor="start">416.5 MHz</text>
<g transform="translate(42.40 491.00) rotate(-90) scale(1.0000 1)"><text x="0" y="0" font-family="Liberation Sans, sans-serif" font-weight="bold" font-size="36.50">Amplitude (10<tspan font-size="22.00" dx="2.00" dy="-20.50">-6</tspan><tspan dx="1.00" dy="20.50">)</tspan></text></g>
</svg></body></html>
